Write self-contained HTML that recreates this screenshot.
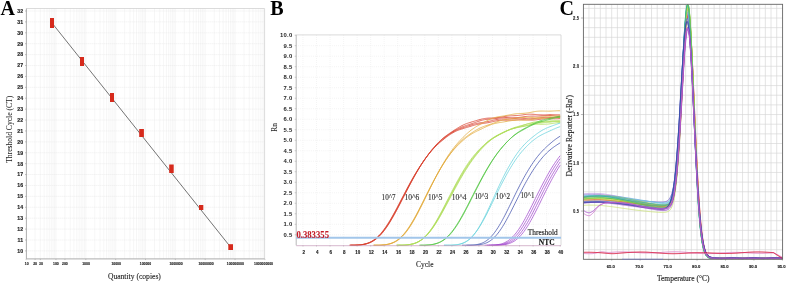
<!DOCTYPE html>
<html><head><meta charset="utf-8"><style>
html,body{margin:0;padding:0;background:#fff;width:788px;height:283px;overflow:hidden}
svg{display:block}
</style></head><body>
<svg style="will-change:transform" width="788" height="283" viewBox="0 0 788 283">
<rect width="788" height="283" fill="#fff"/>
<path d="M26.4 250.9H264.6M26.4 240H264.6M26.4 229.09H264.6M26.4 218.19H264.6M26.4 207.28H264.6M26.4 196.38H264.6M26.4 185.47H264.6M26.4 174.56H264.6M26.4 163.66H264.6M26.4 152.75H264.6M26.4 141.85H264.6M26.4 130.94H264.6M26.4 120.04H264.6M26.4 109.14H264.6M26.4 98.23H264.6M26.4 87.33H264.6M26.4 76.42H264.6M26.4 65.52H264.6M26.4 54.61H264.6M26.4 43.71H264.6M26.4 32.8H264.6M26.4 21.9H264.6M26.4 10.99H264.6M35.09 8.5V258.9M40.34 8.5V258.9M44.07 8.5V258.9M46.96 8.5V258.9M49.33 8.5V258.9M51.33 8.5V258.9M53.06 8.5V258.9M54.58 8.5V258.9M55.95 8.5V258.9M64.94 8.5V258.9M70.19 8.5V258.9M73.92 8.5V258.9M76.81 8.5V258.9M79.18 8.5V258.9M81.18 8.5V258.9M82.91 8.5V258.9M84.43 8.5V258.9M85.8 8.5V258.9M94.79 8.5V258.9M100.04 8.5V258.9M103.77 8.5V258.9M106.66 8.5V258.9M109.03 8.5V258.9M111.03 8.5V258.9M112.76 8.5V258.9M114.28 8.5V258.9M115.65 8.5V258.9M124.64 8.5V258.9M129.89 8.5V258.9M133.62 8.5V258.9M136.51 8.5V258.9M138.88 8.5V258.9M140.88 8.5V258.9M142.61 8.5V258.9M144.13 8.5V258.9M145.5 8.5V258.9M154.49 8.5V258.9M159.74 8.5V258.9M163.47 8.5V258.9M166.36 8.5V258.9M168.73 8.5V258.9M170.73 8.5V258.9M172.46 8.5V258.9M173.98 8.5V258.9M175.35 8.5V258.9M184.34 8.5V258.9M189.59 8.5V258.9M193.32 8.5V258.9M196.21 8.5V258.9M198.58 8.5V258.9M200.58 8.5V258.9M202.31 8.5V258.9M203.83 8.5V258.9M205.2 8.5V258.9M214.19 8.5V258.9M219.44 8.5V258.9M223.17 8.5V258.9M226.06 8.5V258.9M228.43 8.5V258.9M230.43 8.5V258.9M232.16 8.5V258.9M233.68 8.5V258.9M235.05 8.5V258.9M244.04 8.5V258.9M249.29 8.5V258.9M253.02 8.5V258.9M255.91 8.5V258.9M258.28 8.5V258.9M260.28 8.5V258.9M262.01 8.5V258.9M263.53 8.5V258.9" stroke="#e6e6e6" stroke-width="0.7" stroke-dasharray="1 1" fill="none"/>
<path d="M26.4 8.5H264.6V258.9" stroke="#d2d2d2" stroke-width="0.8" fill="none"/>
<path d="M26.4 8.5V258.9H264.6" stroke="#a4a4a4" stroke-width="0.9" fill="none"/>
<path d="M25 250.9H26.4M25 240H26.4M25 229.09H26.4M25 218.19H26.4M25 207.28H26.4M25 196.38H26.4M25 185.47H26.4M25 174.56H26.4M25 163.66H26.4M25 152.75H26.4M25 141.85H26.4M25 130.94H26.4M25 120.04H26.4M25 109.14H26.4M25 98.23H26.4M25 87.33H26.4M25 76.42H26.4M25 65.52H26.4M25 54.61H26.4M25 43.71H26.4M25 32.8H26.4M25 21.9H26.4M25 10.99H26.4" stroke="#999" stroke-width="0.6"/>
<g font-family="Liberation Sans, sans-serif" font-weight="bold" font-size="5.2" fill="#1e1e1e" stroke="#1e1e1e" stroke-width="0.15" text-anchor="end">
<text x="23.1" y="252.75">10</text>
<text x="23.1" y="241.84">11</text>
<text x="23.1" y="230.94">12</text>
<text x="23.1" y="220.03">13</text>
<text x="23.1" y="209.13">14</text>
<text x="23.1" y="198.22">15</text>
<text x="23.1" y="187.32">16</text>
<text x="23.1" y="176.41">17</text>
<text x="23.1" y="165.51">18</text>
<text x="23.1" y="154.6">19</text>
<text x="23.1" y="143.7">20</text>
<text x="23.1" y="132.79">21</text>
<text x="23.1" y="121.89">22</text>
<text x="23.1" y="110.99">23</text>
<text x="23.1" y="100.08">24</text>
<text x="23.1" y="89.18">25</text>
<text x="23.1" y="78.27">26</text>
<text x="23.1" y="67.37">27</text>
<text x="23.1" y="56.46">28</text>
<text x="23.1" y="45.56">29</text>
<text x="23.1" y="34.65">30</text>
<text x="23.1" y="23.75">31</text>
<text x="23.1" y="12.84">32</text>
</g>
<path d="M26.1 258.9V260.1M35.09 258.9V260.1M40.34 258.9V260.1M55.95 258.9V260.1M64.94 258.9V260.1M85.8 258.9V260.1M115.65 258.9V260.1M145.5 258.9V260.1M175.35 258.9V260.1M205.2 258.9V260.1M235.05 258.9V260.1M264.9 258.9V260.1" stroke="#999" stroke-width="0.5"/>
<g font-family="Liberation Sans, sans-serif" font-weight="bold" font-size="3.4" fill="#1a1a1a" stroke="#1a1a1a" stroke-width="0.12" text-anchor="middle">
<text x="26.7" y="264.6">10</text>
<text x="35.05" y="264.6">20</text>
<text x="40.9" y="264.6">30</text>
<text x="55.85" y="264.6">100</text>
<text x="64.9" y="264.6">200</text>
<text x="86" y="264.6">1000</text>
<text x="116.1" y="264.6">10000</text>
<text x="145.5" y="264.6">100000</text>
<text x="176" y="264.6">1000000</text>
<text x="206" y="264.6">10000000</text>
<text x="235.3" y="264.6">100000000</text>
<text x="263.5" y="264.6">1000000000</text>
</g>
<path d="M52 23 L230.5 247" stroke="#505050" stroke-width="0.8" fill="none"/>
<rect x="50" y="18" width="4" height="10" fill="#d62a1c"/>
<rect x="80" y="57" width="4" height="9" fill="#d62a1c"/>
<rect x="110" y="93" width="4" height="9" fill="#d62a1c"/>
<rect x="139.2" y="129" width="4.7" height="8" fill="#d62a1c"/>
<rect x="169.2" y="164.5" width="4.5" height="8.5" fill="#d62a1c"/>
<rect x="199" y="205" width="4.3" height="5" fill="#d62a1c"/>
<rect x="228.3" y="244.2" width="4.7" height="5.8" fill="#d62a1c"/>
<text x="0.6" y="14.7" font-family="Liberation Serif, serif" font-size="20" fill="#000" font-weight="bold">A</text>
<text transform="translate(11.7 162.8) rotate(-90)" font-family="Liberation Serif, serif" font-size="8.6" fill="#1a1a1a" stroke="#1a1a1a" stroke-width="0.05" textLength="67" lengthAdjust="spacingAndGlyphs">Threshold Cycle (CT)</text>
<text x="107.9" y="278.5" font-family="Liberation Serif, serif" font-size="7.7" fill="#1a1a1a" stroke="#1a1a1a" stroke-width="0.1" textLength="53" lengthAdjust="spacingAndGlyphs">Quantity (copies)</text>
<path d="M296.2 234.8H561M296.2 224.29H561M296.2 213.79H561M296.2 203.28H561M296.2 192.78H561M296.2 182.27H561M296.2 171.76H561M296.2 161.26H561M296.2 150.75H561M296.2 140.25H561M296.2 129.75H561M296.2 119.24H561M296.2 108.74H561M296.2 98.23H561M296.2 87.72H561M296.2 77.22H561M296.2 66.72H561M296.2 56.21H561M296.2 45.7H561M302.97 34.9V245.3M316.5 34.9V245.3M330.04 34.9V245.3M343.58 34.9V245.3M357.11 34.9V245.3M370.65 34.9V245.3M384.18 34.9V245.3M397.72 34.9V245.3M411.26 34.9V245.3M424.79 34.9V245.3M438.33 34.9V245.3M451.86 34.9V245.3M465.4 34.9V245.3M478.94 34.9V245.3M492.47 34.9V245.3M506.01 34.9V245.3M519.54 34.9V245.3M533.08 34.9V245.3M546.62 34.9V245.3" stroke="#e4e4e4" stroke-width="0.6" stroke-dasharray="0.7 1.4" fill="none"/>
<path d="M296.2 34.9H561V245.3" stroke="#d0d0d0" stroke-width="0.8" fill="none"/>
<path d="M294.7 234.8H296.2M294.7 224.29H296.2M294.7 213.79H296.2M294.7 203.28H296.2M294.7 192.78H296.2M294.7 182.27H296.2M294.7 171.76H296.2M294.7 161.26H296.2M294.7 150.75H296.2M294.7 140.25H296.2M294.7 129.75H296.2M294.7 119.24H296.2M294.7 108.74H296.2M294.7 98.23H296.2M294.7 87.72H296.2M294.7 77.22H296.2M294.7 66.72H296.2M294.7 56.21H296.2M294.7 45.7H296.2M294.7 35.2H296.2M302.97 245.3V246.5M316.5 245.3V246.5M330.04 245.3V246.5M343.58 245.3V246.5M357.11 245.3V246.5M370.65 245.3V246.5M384.18 245.3V246.5M397.72 245.3V246.5M411.26 245.3V246.5M424.79 245.3V246.5M438.33 245.3V246.5M451.86 245.3V246.5M465.4 245.3V246.5M478.94 245.3V246.5M492.47 245.3V246.5M506.01 245.3V246.5M519.54 245.3V246.5M533.08 245.3V246.5M546.62 245.3V246.5M560.15 245.3V246.5" stroke="#999" stroke-width="0.5"/>
<g font-family="Liberation Sans, sans-serif" font-weight="bold" font-size="5.9" fill="#1e1e1e" text-anchor="end" letter-spacing="0.25">
<text x="292.5" y="236.9">0.5</text>
<text x="292.5" y="226.39">1.0</text>
<text x="292.5" y="215.89">1.5</text>
<text x="292.5" y="205.38">2.0</text>
<text x="292.5" y="194.88">2.5</text>
<text x="292.5" y="184.37">3.0</text>
<text x="292.5" y="173.86">3.5</text>
<text x="292.5" y="163.36">4.0</text>
<text x="292.5" y="152.85">4.5</text>
<text x="292.5" y="142.35">5.0</text>
<text x="292.5" y="131.84">5.5</text>
<text x="292.5" y="121.34">6.0</text>
<text x="292.5" y="110.84">6.5</text>
<text x="292.5" y="100.33">7.0</text>
<text x="292.5" y="89.82">7.5</text>
<text x="292.5" y="79.32">8.0</text>
<text x="292.5" y="68.81">8.5</text>
<text x="292.5" y="58.31">9.0</text>
<text x="292.5" y="47.8">9.5</text>
<text x="292.5" y="37.3">10.0</text>
</g>
<g font-family="Liberation Sans, sans-serif" font-weight="bold" font-size="4.5" fill="#1a1a1a" stroke="#1a1a1a" stroke-width="0.12" text-anchor="middle">
<text x="303.67" y="253.7">2</text>
<text x="317.2" y="253.7">4</text>
<text x="330.74" y="253.7">6</text>
<text x="344.28" y="253.7">8</text>
<text x="357.81" y="253.7">10</text>
<text x="371.35" y="253.7">12</text>
<text x="384.88" y="253.7">14</text>
<text x="398.42" y="253.7">16</text>
<text x="411.96" y="253.7">18</text>
<text x="425.49" y="253.7">20</text>
<text x="439.03" y="253.7">22</text>
<text x="452.56" y="253.7">24</text>
<text x="466.1" y="253.7">26</text>
<text x="479.64" y="253.7">28</text>
<text x="493.17" y="253.7">30</text>
<text x="506.71" y="253.7">32</text>
<text x="520.24" y="253.7">34</text>
<text x="533.78" y="253.7">36</text>
<text x="547.32" y="253.7">38</text>
<text x="560.85" y="253.7">40</text>
</g>
<g fill="none" stroke-linejoin="round" stroke-width="0.75">
<path d="M349.22 245.2 L350.34 245.2 L351.47 245.2 L352.6 245.2 L353.73 245.2 L354.86 245.17 L355.98 245.12 L357.11 245.06 L358.24 244.98 L359.37 244.89 L360.5 244.76 L361.62 244.61 L362.75 244.43 L363.88 244.21 L365.01 243.95 L366.14 243.64 L367.26 243.28 L368.39 242.86 L369.52 242.38 L370.65 241.84 L371.78 241.23 L372.9 240.54 L374.03 239.78 L375.16 238.94 L376.29 238.01 L377.42 237.01 L378.54 235.91 L379.67 234.74 L380.8 233.48 L381.93 232.13 L383.06 230.71 L384.18 229.2 L385.31 227.62 L386.44 225.97 L387.57 224.25 L388.7 222.46 L389.82 220.61 L390.95 218.7 L392.08 216.75 L393.21 214.74 L394.34 212.7 L395.46 210.63 L396.59 208.52 L397.72 206.39 L398.85 204.25 L399.98 202.09 L401.1 199.92 L402.23 197.75 L403.36 195.58 L404.49 193.42 L405.62 191.26 L406.74 189.12 L407.87 187.01 L409 184.91 L410.13 182.84 L411.26 180.8 L412.38 178.8 L413.51 176.83 L414.64 174.9 L415.77 173.02 L416.9 171.17 L418.02 169.36 L419.15 167.6 L420.28 165.87 L421.41 164.19 L422.54 162.54 L423.66 160.94 L424.79 159.37 L425.92 157.83 L427.05 156.34 L428.18 154.89 L429.3 153.47 L430.43 152.1 L431.56 150.78 L432.69 149.5 L433.82 148.27 L434.94 147.09 L436.07 145.96 L437.2 144.87 L438.33 143.82 L439.46 142.81 L440.58 141.83 L441.71 140.88 L442.84 139.95 L443.97 139.05 L445.1 138.17 L446.22 137.31 L447.35 136.48 L448.48 135.66 L449.61 134.88 L450.74 134.13 L451.86 133.42 L452.99 132.75 L454.12 132.12 L455.25 131.54 L456.38 131.01 L457.5 130.53 L458.63 130.08 L459.76 129.67 L460.89 129.29 L462.02 128.93 L463.14 128.58 L464.27 128.24 L465.4 127.9 L466.53 127.56 L467.66 127.21 L468.78 126.86 L469.91 126.51 L471.04 126.15 L472.17 125.81 L473.3 125.47 L474.42 125.15 L475.55 124.86 L476.68 124.58 L477.81 124.34 L478.94 124.12 L480.06 123.93 L481.19 123.75 L482.32 123.59 L483.45 123.43 L484.58 123.27 L485.7 123.1 L486.83 122.92 L487.96 122.72 L489.09 122.5 L490.22 122.26 L491.34 122.01 L492.47 121.75 L493.6 121.48 L494.73 121.23 L495.86 120.98 L496.98 120.77 L498.11 120.58 L499.24 120.42 L500.37 120.3 L501.5 120.22 L502.62 120.17 L503.75 120.15 L504.88 120.15 L506.01 120.16 L507.14 120.17 L508.26 120.19 L509.39 120.19 L510.52 120.17 L511.65 120.14 L512.78 120.09 L513.9 120.03 L515.03 119.96 L516.16 119.88 L517.29 119.81 L518.42 119.74 L519.54 119.7 L520.67 119.67 L521.8 119.67 L522.93 119.69 L524.06 119.73 L525.18 119.79 L526.31 119.86 L527.44 119.93 L528.57 120 L529.7 120.05 L530.82 120.08 L531.95 120.08 L533.08 120.04 L534.21 119.98 L535.34 119.88 L536.46 119.76 L537.59 119.61 L538.72 119.46 L539.85 119.3 L540.98 119.15 L542.1 119.02 L543.23 118.9 L544.36 118.82 L545.49 118.76 L546.62 118.73 L547.74 118.72 L548.87 118.74 L550 118.76 L551.13 118.79 L552.26 118.82 L553.38 118.83 L554.51 118.84 L555.64 118.82 L556.77 118.78 L557.9 118.73 L559.02 118.67 L560.15 118.6 M350.34 245.2 L351.47 245.2 L352.6 245.2 L353.73 245.2 L354.86 245.18 L355.98 245.14 L357.11 245.09 L358.24 245.01 L359.37 244.92 L360.5 244.81 L361.62 244.67 L362.75 244.5 L363.88 244.29 L365.01 244.05 L366.14 243.76 L367.26 243.41 L368.39 243.02 L369.52 242.56 L370.65 242.05 L371.78 241.46 L372.9 240.8 L374.03 240.06 L375.16 239.25 L376.29 238.36 L377.42 237.38 L378.54 236.32 L379.67 235.17 L380.8 233.94 L381.93 232.63 L383.06 231.23 L384.18 229.75 L385.31 228.2 L386.44 226.57 L387.57 224.87 L388.7 223.1 L389.82 221.27 L390.95 219.38 L392.08 217.44 L393.21 215.45 L394.34 213.42 L395.46 211.35 L396.59 209.25 L397.72 207.13 L398.85 204.98 L399.98 202.81 L401.1 200.64 L402.23 198.46 L403.36 196.28 L404.49 194.1 L405.62 191.93 L406.74 189.78 L407.87 187.64 L409 185.52 L410.13 183.42 L411.26 181.36 L412.38 179.33 L413.51 177.33 L414.64 175.37 L415.77 173.45 L416.9 171.57 L418.02 169.73 L419.15 167.92 L420.28 166.16 L421.41 164.43 L422.54 162.74 L423.66 161.09 L424.79 159.48 L425.92 157.91 L427.05 156.38 L428.18 154.89 L429.3 153.44 L430.43 152.04 L431.56 150.68 L432.69 149.38 L433.82 148.12 L434.94 146.91 L436.07 145.74 L437.2 144.62 L438.33 143.53 L439.46 142.48 L440.58 141.46 L441.71 140.47 L442.84 139.5 L443.97 138.55 L445.1 137.63 L446.22 136.72 L447.35 135.85 L448.48 135 L449.61 134.19 L450.74 133.41 L451.86 132.68 L452.99 131.99 L454.12 131.35 L455.25 130.76 L456.38 130.21 L457.5 129.71 L458.63 129.25 L459.76 128.82 L460.89 128.41 L462.02 128.02 L463.14 127.63 L464.27 127.26 L465.4 126.88 L466.53 126.5 L467.66 126.12 L468.78 125.74 L469.91 125.37 L471.04 125 L472.17 124.65 L473.3 124.31 L474.42 124 L475.55 123.71 L476.68 123.45 L477.81 123.22 L478.94 123.01 L480.06 122.83 L481.19 122.66 L482.32 122.49 L483.45 122.32 L484.58 122.14 L485.7 121.95 L486.83 121.74 L487.96 121.51 L489.09 121.27 L490.22 121 L491.34 120.73 L492.47 120.45 L493.6 120.18 L494.73 119.92 L495.86 119.68 L496.98 119.47 L498.11 119.3 L499.24 119.15 L500.37 119.05 L501.5 118.98 L502.62 118.93 L503.75 118.91 L504.88 118.9 L506.01 118.89 L507.14 118.89 L508.26 118.87 L509.39 118.84 L510.52 118.79 L511.65 118.73 L512.78 118.66 L513.9 118.57 L515.03 118.49 L516.16 118.41 L517.29 118.34 L518.42 118.28 L519.54 118.26 L520.67 118.25 L521.8 118.28 L522.93 118.32 L524.06 118.39 L525.18 118.46 L526.31 118.54 L527.44 118.62 L528.57 118.68 L529.7 118.72 L530.82 118.73 L531.95 118.71 L533.08 118.66 L534.21 118.57 L535.34 118.46 L536.46 118.32 L537.59 118.17 L538.72 118.02 L539.85 117.88 L540.98 117.74 L542.1 117.63 L543.23 117.54 L544.36 117.48 L545.49 117.45 L546.62 117.43 L547.74 117.44 L548.87 117.46 L550 117.47 L551.13 117.49 L552.26 117.49 L553.38 117.48 L554.51 117.45 L555.64 117.4 L556.77 117.34 L557.9 117.26 L559.02 117.18 L560.15 117.1 M350.34 245.2 L351.47 245.2 L352.6 245.2 L353.73 245.2 L354.86 245.2 L355.98 245.16 L357.11 245.1 L358.24 245.04 L359.37 244.95 L360.5 244.85 L361.62 244.72 L362.75 244.55 L363.88 244.36 L365.01 244.13 L366.14 243.85 L367.26 243.52 L368.39 243.14 L369.52 242.71 L370.65 242.21 L371.78 241.64 L372.9 241 L374.03 240.29 L375.16 239.5 L376.29 238.63 L377.42 237.68 L378.54 236.64 L379.67 235.52 L380.8 234.32 L381.93 233.03 L383.06 231.66 L384.18 230.2 L385.31 228.67 L386.44 227.06 L387.57 225.38 L388.7 223.63 L389.82 221.82 L390.95 219.94 L392.08 218.01 L393.21 216.03 L394.34 214.01 L395.46 211.95 L396.59 209.85 L397.72 207.73 L398.85 205.58 L399.98 203.41 L401.1 201.24 L402.23 199.05 L403.36 196.86 L404.49 194.68 L405.62 192.5 L406.74 190.33 L407.87 188.17 L409 186.03 L410.13 183.91 L411.26 181.81 L412.38 179.74 L413.51 177.7 L414.64 175.69 L415.77 173.72 L416.9 171.78 L418.02 169.88 L419.15 168.03 L420.28 166.21 L421.41 164.44 L422.54 162.72 L423.66 161.03 L424.79 159.39 L425.92 157.78 L427.05 156.21 L428.18 154.68 L429.3 153.19 L430.43 151.73 L431.56 150.31 L432.69 148.93 L433.82 147.59 L434.94 146.3 L436.07 145.05 L437.2 143.85 L438.33 142.71 L439.46 141.62 L440.58 140.58 L441.71 139.6 L442.84 138.66 L443.97 137.77 L445.1 136.92 L446.22 136.1 L447.35 135.32 L448.48 134.55 L449.61 133.81 L450.74 133.08 L451.86 132.37 L452.99 131.67 L454.12 130.99 L455.25 130.33 L456.38 129.7 L457.5 129.09 L458.63 128.51 L459.76 127.97 L460.89 127.46 L462.02 126.98 L463.14 126.54 L464.27 126.13 L465.4 125.74 L466.53 125.37 L467.66 125 L468.78 124.65 L469.91 124.28 L471.04 123.91 L472.17 123.54 L473.3 123.14 L474.42 122.75 L475.55 122.34 L476.68 121.94 L477.81 121.54 L478.94 121.16 L480.06 120.8 L481.19 120.47 L482.32 120.17 L483.45 119.91 L484.58 119.69 L485.7 119.51 L486.83 119.36 L487.96 119.23 L489.09 119.12 L490.22 119.02 L491.34 118.93 L492.47 118.83 L493.6 118.73 L494.73 118.61 L495.86 118.49 L496.98 118.35 L498.11 118.2 L499.24 118.06 L500.37 117.92 L501.5 117.79 L502.62 117.69 L503.75 117.6 L504.88 117.55 L506.01 117.52 L507.14 117.52 L508.26 117.54 L509.39 117.57 L510.52 117.62 L511.65 117.66 L512.78 117.69 L513.9 117.71 L515.03 117.7 L516.16 117.66 L517.29 117.59 L518.42 117.49 L519.54 117.36 L520.67 117.22 L521.8 117.05 L522.93 116.88 L524.06 116.72 L525.18 116.56 L526.31 116.43 L527.44 116.32 L528.57 116.23 L529.7 116.18 L530.82 116.14 L531.95 116.13 L533.08 116.12 L534.21 116.13 L535.34 116.13 L536.46 116.12 L537.59 116.09 L538.72 116.05 L539.85 116 L540.98 115.92 L542.1 115.83 L543.23 115.74 L544.36 115.64 L545.49 115.56 L546.62 115.49 L547.74 115.44 L548.87 115.43 L550 115.45 L551.13 115.5 L552.26 115.58 L553.38 115.68 L554.51 115.81 L555.64 115.94 L556.77 116.07 L557.9 116.2 L559.02 116.3 L560.15 116.39 M350.34 245.2 L351.47 245.2 L352.6 245.2 L353.73 245.2 L354.86 245.2 L355.98 245.17 L357.11 245.12 L358.24 245.06 L359.37 244.98 L360.5 244.88 L361.62 244.76 L362.75 244.61 L363.88 244.42 L365.01 244.2 L366.14 243.94 L367.26 243.63 L368.39 243.26 L369.52 242.84 L370.65 242.36 L371.78 241.82 L372.9 241.2 L374.03 240.51 L375.16 239.75 L376.29 238.9 L377.42 237.97 L378.54 236.96 L379.67 235.87 L380.8 234.69 L381.93 233.42 L383.06 232.07 L384.18 230.64 L385.31 229.13 L386.44 227.55 L387.57 225.89 L388.7 224.16 L389.82 222.36 L390.95 220.5 L392.08 218.58 L393.21 216.62 L394.34 214.6 L395.46 212.55 L396.59 210.45 L397.72 208.33 L398.85 206.18 L399.98 204.01 L401.1 201.83 L402.23 199.64 L403.36 197.44 L404.49 195.24 L405.62 193.04 L406.74 190.85 L407.87 188.67 L409 186.51 L410.13 184.36 L411.26 182.23 L412.38 180.13 L413.51 178.05 L414.64 176 L415.77 173.98 L416.9 172 L418.02 170.06 L419.15 168.16 L420.28 166.3 L421.41 164.49 L422.54 162.73 L423.66 161.01 L424.79 159.34 L425.92 157.72 L427.05 156.13 L428.18 154.6 L429.3 153.1 L430.43 151.64 L431.56 150.22 L432.69 148.84 L433.82 147.5 L434.94 146.19 L436.07 144.93 L437.2 143.72 L438.33 142.55 L439.46 141.43 L440.58 140.35 L441.71 139.33 L442.84 138.36 L443.97 137.43 L445.1 136.54 L446.22 135.68 L447.35 134.86 L448.48 134.07 L449.61 133.29 L450.74 132.52 L451.86 131.77 L452.99 131.02 L454.12 130.28 L455.25 129.55 L456.38 128.83 L457.5 128.13 L458.63 127.45 L459.76 126.79 L460.89 126.17 L462.02 125.59 L463.14 125.04 L464.27 124.53 L465.4 124.07 L466.53 123.63 L467.66 123.23 L468.78 122.86 L469.91 122.5 L471.04 122.15 L472.17 121.81 L473.3 121.48 L474.42 121.14 L475.55 120.8 L476.68 120.46 L477.81 120.13 L478.94 119.81 L480.06 119.5 L481.19 119.21 L482.32 118.95 L483.45 118.72 L484.58 118.52 L485.7 118.37 L486.83 118.24 L487.96 118.15 L489.09 118.09 L490.22 118.04 L491.34 118 L492.47 117.96 L493.6 117.91 L494.73 117.85 L495.86 117.76 L496.98 117.65 L498.11 117.52 L499.24 117.36 L500.37 117.18 L501.5 117 L502.62 116.81 L503.75 116.62 L504.88 116.44 L506.01 116.28 L507.14 116.14 L508.26 116.02 L509.39 115.93 L510.52 115.86 L511.65 115.8 L512.78 115.76 L513.9 115.71 L515.03 115.66 L516.16 115.6 L517.29 115.52 L518.42 115.42 L519.54 115.31 L520.67 115.17 L521.8 115.02 L522.93 114.86 L524.06 114.7 L525.18 114.55 L526.31 114.42 L527.44 114.32 L528.57 114.24 L529.7 114.2 L530.82 114.2 L531.95 114.23 L533.08 114.29 L534.21 114.38 L535.34 114.48 L536.46 114.58 L537.59 114.68 L538.72 114.77 L539.85 114.84 L540.98 114.89 L542.1 114.91 L543.23 114.91 L544.36 114.89 L545.49 114.84 L546.62 114.79 L547.74 114.74 L548.87 114.69 L550 114.65 L551.13 114.63 L552.26 114.63 L553.38 114.64 L554.51 114.68 L555.64 114.72 L556.77 114.78 L557.9 114.83 L559.02 114.88 L560.15 114.9" stroke="#d8402e"/>
<path d="M372.9 245.2 L374.03 245.2 L375.16 245.2 L376.29 245.2 L377.42 245.2 L378.54 245.19 L379.67 245.15 L380.8 245.09 L381.93 245.02 L383.06 244.93 L384.18 244.81 L385.31 244.67 L386.44 244.49 L387.57 244.28 L388.7 244.02 L389.82 243.71 L390.95 243.35 L392.08 242.93 L393.21 242.45 L394.34 241.9 L395.46 241.27 L396.59 240.57 L397.72 239.78 L398.85 238.91 L399.98 237.95 L401.1 236.9 L402.23 235.77 L403.36 234.54 L404.49 233.22 L405.62 231.81 L406.74 230.31 L407.87 228.74 L409 227.07 L410.13 225.34 L411.26 223.52 L412.38 221.64 L413.51 219.7 L414.64 217.7 L415.77 215.65 L416.9 213.55 L418.02 211.41 L419.15 209.23 L420.28 207.03 L421.41 204.8 L422.54 202.56 L423.66 200.31 L424.79 198.05 L425.92 195.8 L427.05 193.55 L428.18 191.31 L429.3 189.08 L430.43 186.88 L431.56 184.7 L432.69 182.54 L433.82 180.42 L434.94 178.33 L436.07 176.27 L437.2 174.24 L438.33 172.25 L439.46 170.3 L440.58 168.39 L441.71 166.52 L442.84 164.7 L443.97 162.92 L445.1 161.18 L446.22 159.5 L447.35 157.87 L448.48 156.3 L449.61 154.78 L450.74 153.32 L451.86 151.91 L452.99 150.56 L454.12 149.26 L455.25 148.01 L456.38 146.81 L457.5 145.64 L458.63 144.51 L459.76 143.42 L460.89 142.36 L462.02 141.33 L463.14 140.33 L464.27 139.36 L465.4 138.43 L466.53 137.53 L467.66 136.67 L468.78 135.85 L469.91 135.08 L471.04 134.35 L472.17 133.65 L473.3 133 L474.42 132.38 L475.55 131.8 L476.68 131.23 L477.81 130.68 L478.94 130.14 L480.06 129.61 L481.19 129.07 L482.32 128.54 L483.45 128 L484.58 127.47 L485.7 126.94 L486.83 126.41 L487.96 125.91 L489.09 125.43 L490.22 124.97 L491.34 124.55 L492.47 124.17 L493.6 123.83 L494.73 123.53 L495.86 123.27 L496.98 123.03 L498.11 122.82 L499.24 122.63 L500.37 122.45 L501.5 122.28 L502.62 122.1 L503.75 121.92 L504.88 121.73 L506.01 121.53 L507.14 121.33 L508.26 121.12 L509.39 120.93 L510.52 120.75 L511.65 120.58 L512.78 120.44 L513.9 120.33 L515.03 120.25 L516.16 120.2 L517.29 120.17 L518.42 120.17 L519.54 120.17 L520.67 120.19 L521.8 120.2 L522.93 120.2 L524.06 120.17 L525.18 120.13 L526.31 120.05 L527.44 119.95 L528.57 119.81 L529.7 119.66 L530.82 119.48 L531.95 119.3 L533.08 119.12 L534.21 118.95 L535.34 118.79 L536.46 118.66 L537.59 118.55 L538.72 118.47 L539.85 118.41 L540.98 118.37 L542.1 118.35 L543.23 118.34 L544.36 118.33 L545.49 118.31 L546.62 118.28 L547.74 118.23 L548.87 118.17 L550 118.08 L551.13 117.99 L552.26 117.88 L553.38 117.77 L554.51 117.67 L555.64 117.58 L556.77 117.52 L557.9 117.48 L559.02 117.47 L560.15 117.5 M374.03 245.2 L375.16 245.2 L376.29 245.2 L377.42 245.2 L378.54 245.2 L379.67 245.16 L380.8 245.11 L381.93 245.04 L383.06 244.96 L384.18 244.85 L385.31 244.72 L386.44 244.55 L387.57 244.35 L388.7 244.1 L389.82 243.81 L390.95 243.47 L392.08 243.07 L393.21 242.6 L394.34 242.07 L395.46 241.47 L396.59 240.79 L397.72 240.03 L398.85 239.18 L399.98 238.25 L401.1 237.23 L402.23 236.12 L403.36 234.91 L404.49 233.62 L405.62 232.24 L406.74 230.77 L407.87 229.21 L409 227.58 L410.13 225.86 L411.26 224.07 L412.38 222.2 L413.51 220.27 L414.64 218.29 L415.77 216.24 L416.9 214.15 L418.02 212.02 L419.15 209.85 L420.28 207.64 L421.41 205.42 L422.54 203.17 L423.66 200.91 L424.79 198.65 L425.92 196.38 L427.05 194.11 L428.18 191.85 L429.3 189.61 L430.43 187.38 L431.56 185.16 L432.69 182.98 L433.82 180.82 L434.94 178.69 L436.07 176.59 L437.2 174.54 L438.33 172.52 L439.46 170.54 L440.58 168.61 L441.71 166.72 L442.84 164.88 L443.97 163.08 L445.1 161.32 L446.22 159.61 L447.35 157.93 L448.48 156.3 L449.61 154.71 L450.74 153.15 L451.86 151.64 L452.99 150.17 L454.12 148.75 L455.25 147.38 L456.38 146.05 L457.5 144.79 L458.63 143.58 L459.76 142.42 L460.89 141.32 L462.02 140.28 L463.14 139.28 L464.27 138.33 L465.4 137.42 L466.53 136.55 L467.66 135.71 L468.78 134.89 L469.91 134.09 L471.04 133.32 L472.17 132.56 L473.3 131.83 L474.42 131.12 L475.55 130.43 L476.68 129.78 L477.81 129.15 L478.94 128.57 L480.06 128.02 L481.19 127.51 L482.32 127.04 L483.45 126.59 L484.58 126.18 L485.7 125.79 L486.83 125.41 L487.96 125.04 L489.09 124.67 L490.22 124.29 L491.34 123.91 L492.47 123.51 L493.6 123.1 L494.73 122.69 L495.86 122.27 L496.98 121.86 L498.11 121.46 L499.24 121.08 L500.37 120.73 L501.5 120.41 L502.62 120.12 L503.75 119.87 L504.88 119.66 L506.01 119.47 L507.14 119.32 L508.26 119.19 L509.39 119.07 L510.52 118.96 L511.65 118.84 L512.78 118.72 L513.9 118.6 L515.03 118.46 L516.16 118.31 L517.29 118.15 L518.42 118 L519.54 117.84 L520.67 117.71 L521.8 117.59 L522.93 117.49 L524.06 117.42 L525.18 117.39 L526.31 117.38 L527.44 117.4 L528.57 117.44 L529.7 117.49 L530.82 117.54 L531.95 117.59 L533.08 117.63 L534.21 117.64 L535.34 117.63 L536.46 117.58 L537.59 117.51 L538.72 117.4 L539.85 117.27 L540.98 117.13 L542.1 116.97 L543.23 116.82 L544.36 116.67 L545.49 116.53 L546.62 116.42 L547.74 116.33 L548.87 116.27 L550 116.23 L551.13 116.21 L552.26 116.2 L553.38 116.2 L554.51 116.19 L555.64 116.18 L556.77 116.15 L557.9 116.11 L559.02 116.04 L560.15 115.96 M374.03 245.2 L375.16 245.2 L376.29 245.2 L377.42 245.2 L378.54 245.2 L379.67 245.18 L380.8 245.13 L381.93 245.07 L383.06 244.99 L384.18 244.89 L385.31 244.77 L386.44 244.61 L387.57 244.42 L388.7 244.19 L389.82 243.92 L390.95 243.6 L392.08 243.22 L393.21 242.78 L394.34 242.27 L395.46 241.69 L396.59 241.04 L397.72 240.31 L398.85 239.49 L399.98 238.59 L401.1 237.6 L402.23 236.52 L403.36 235.35 L404.49 234.09 L405.62 232.74 L406.74 231.3 L407.87 229.77 L409 228.16 L410.13 226.47 L411.26 224.7 L412.38 222.86 L413.51 220.94 L414.64 218.97 L415.77 216.93 L416.9 214.85 L418.02 212.71 L419.15 210.53 L420.28 208.32 L421.41 206.08 L422.54 203.81 L423.66 201.52 L424.79 199.22 L425.92 196.92 L427.05 194.61 L428.18 192.3 L429.3 190 L430.43 187.71 L431.56 185.44 L432.69 183.18 L433.82 180.95 L434.94 178.75 L436.07 176.58 L437.2 174.43 L438.33 172.32 L439.46 170.24 L440.58 168.2 L441.71 166.2 L442.84 164.24 L443.97 162.32 L445.1 160.45 L446.22 158.62 L447.35 156.85 L448.48 155.13 L449.61 153.47 L450.74 151.86 L451.86 150.3 L452.99 148.81 L454.12 147.36 L455.25 145.97 L456.38 144.62 L457.5 143.31 L458.63 142.04 L459.76 140.8 L460.89 139.6 L462.02 138.42 L463.14 137.27 L464.27 136.16 L465.4 135.07 L466.53 134.02 L467.66 133 L468.78 132.02 L469.91 131.09 L471.04 130.2 L472.17 129.35 L473.3 128.55 L474.42 127.79 L475.55 127.06 L476.68 126.36 L477.81 125.69 L478.94 125.04 L480.06 124.41 L481.19 123.78 L482.32 123.16 L483.45 122.55 L484.58 121.94 L485.7 121.35 L486.83 120.77 L487.96 120.21 L489.09 119.68 L490.22 119.18 L491.34 118.72 L492.47 118.3 L493.6 117.92 L494.73 117.6 L495.86 117.31 L496.98 117.06 L498.11 116.84 L499.24 116.64 L500.37 116.46 L501.5 116.29 L502.62 116.12 L503.75 115.94 L504.88 115.75 L506.01 115.54 L507.14 115.33 L508.26 115.11 L509.39 114.89 L510.52 114.67 L511.65 114.46 L512.78 114.26 L513.9 114.09 L515.03 113.94 L516.16 113.81 L517.29 113.71 L518.42 113.63 L519.54 113.56 L520.67 113.5 L521.8 113.45 L522.93 113.38 L524.06 113.3 L525.18 113.2 L526.31 113.07 L527.44 112.92 L528.57 112.75 L529.7 112.55 L530.82 112.34 L531.95 112.12 L533.08 111.9 L534.21 111.7 L535.34 111.51 L536.46 111.35 L537.59 111.23 L538.72 111.13 L539.85 111.07 L540.98 111.05 L542.1 111.04 L543.23 111.06 L544.36 111.09 L545.49 111.11 L546.62 111.14 L547.74 111.15 L548.87 111.15 L550 111.13 L551.13 111.09 L552.26 111.04 L553.38 110.98 L554.51 110.91 L555.64 110.86 L556.77 110.81 L557.9 110.79 L559.02 110.78 L560.15 110.81" stroke="#e2aa3a"/>
<path d="M396.59 245.2 L397.72 245.2 L398.85 245.2 L399.98 245.2 L401.1 245.2 L402.23 245.19 L403.36 245.15 L404.49 245.1 L405.62 245.03 L406.74 244.93 L407.87 244.82 L409 244.67 L410.13 244.49 L411.26 244.28 L412.38 244.02 L413.51 243.71 L414.64 243.34 L415.77 242.91 L416.9 242.42 L418.02 241.86 L419.15 241.22 L420.28 240.51 L421.41 239.71 L422.54 238.82 L423.66 237.85 L424.79 236.79 L425.92 235.63 L427.05 234.39 L428.18 233.06 L429.3 231.64 L430.43 230.13 L431.56 228.54 L432.69 226.87 L433.82 225.12 L434.94 223.31 L436.07 221.43 L437.2 219.48 L438.33 217.49 L439.46 215.44 L440.58 213.35 L441.71 211.23 L442.84 209.08 L443.97 206.9 L445.1 204.7 L446.22 202.49 L447.35 200.28 L448.48 198.06 L449.61 195.85 L450.74 193.65 L451.86 191.46 L452.99 189.29 L454.12 187.14 L455.25 185.02 L456.38 182.92 L457.5 180.86 L458.63 178.82 L459.76 176.83 L460.89 174.86 L462.02 172.94 L463.14 171.05 L464.27 169.21 L465.4 167.41 L466.53 165.66 L467.66 163.96 L468.78 162.31 L469.91 160.72 L471.04 159.18 L472.17 157.7 L473.3 156.28 L474.42 154.9 L475.55 153.58 L476.68 152.31 L477.81 151.07 L478.94 149.88 L480.06 148.73 L481.19 147.61 L482.32 146.52 L483.45 145.47 L484.58 144.45 L485.7 143.47 L486.83 142.52 L487.96 141.62 L489.09 140.76 L490.22 139.94 L491.34 139.17 L492.47 138.44 L493.6 137.76 L494.73 137.11 L495.86 136.49 L496.98 135.9 L498.11 135.33 L499.24 134.77 L500.37 134.22 L501.5 133.67 L502.62 133.12 L503.75 132.57 L504.88 132.02 L506.01 131.47 L507.14 130.93 L508.26 130.41 L509.39 129.91 L510.52 129.43 L511.65 128.99 L512.78 128.59 L513.9 128.23 L515.03 127.9 L516.16 127.61 L517.29 127.35 L518.42 127.12 L519.54 126.91 L520.67 126.71 L521.8 126.52 L522.93 126.32 L524.06 126.12 L525.18 125.91 L526.31 125.7 L527.44 125.49 L528.57 125.27 L529.7 125.06 L530.82 124.87 L531.95 124.69 L533.08 124.54 L534.21 124.42 L535.34 124.33 L536.46 124.28 L537.59 124.25 L538.72 124.24 L539.85 124.25 L540.98 124.27 L542.1 124.29 L543.23 124.3 L544.36 124.29 L545.49 124.25 L546.62 124.19 L547.74 124.1 L548.87 123.98 L550 123.84 L551.13 123.68 L552.26 123.51 L553.38 123.34 L554.51 123.17 L555.64 123.02 L556.77 122.89 L557.9 122.78 L559.02 122.7 L560.15 122.64 M396.59 245.2 L397.72 245.2 L398.85 245.2 L399.98 245.2 L401.1 245.2 L402.23 245.19 L403.36 245.15 L404.49 245.09 L405.62 245.02 L406.74 244.93 L407.87 244.81 L409 244.67 L410.13 244.49 L411.26 244.28 L412.38 244.02 L413.51 243.72 L414.64 243.36 L415.77 242.94 L416.9 242.47 L418.02 241.92 L419.15 241.3 L420.28 240.6 L421.41 239.82 L422.54 238.96 L423.66 238.02 L424.79 236.99 L425.92 235.87 L427.05 234.66 L428.18 233.36 L429.3 231.98 L430.43 230.52 L431.56 228.97 L432.69 227.34 L433.82 225.64 L434.94 223.87 L436.07 222.04 L437.2 220.14 L438.33 218.19 L439.46 216.18 L440.58 214.14 L441.71 212.05 L442.84 209.93 L443.97 207.79 L445.1 205.63 L446.22 203.45 L447.35 201.26 L448.48 199.07 L449.61 196.88 L450.74 194.69 L451.86 192.52 L452.99 190.37 L454.12 188.23 L455.25 186.12 L456.38 184.03 L457.5 181.97 L458.63 179.95 L459.76 177.95 L460.89 175.99 L462.02 174.07 L463.14 172.18 L464.27 170.34 L465.4 168.54 L466.53 166.78 L467.66 165.08 L468.78 163.42 L469.91 161.81 L471.04 160.24 L472.17 158.73 L473.3 157.27 L474.42 155.85 L475.55 154.47 L476.68 153.14 L477.81 151.84 L478.94 150.57 L480.06 149.33 L481.19 148.13 L482.32 146.95 L483.45 145.81 L484.58 144.7 L485.7 143.62 L486.83 142.59 L487.96 141.6 L489.09 140.66 L490.22 139.77 L491.34 138.92 L492.47 138.13 L493.6 137.39 L494.73 136.7 L495.86 136.04 L496.98 135.42 L498.11 134.83 L499.24 134.26 L500.37 133.7 L501.5 133.16 L502.62 132.63 L503.75 132.11 L504.88 131.6 L506.01 131.11 L507.14 130.63 L508.26 130.17 L509.39 129.74 L510.52 129.34 L511.65 128.97 L512.78 128.64 L513.9 128.34 L515.03 128.07 L516.16 127.83 L517.29 127.61 L518.42 127.4 L519.54 127.19 L520.67 126.98 L521.8 126.76 L522.93 126.53 L524.06 126.28 L525.18 126 L526.31 125.71 L527.44 125.41 L528.57 125.1 L529.7 124.79 L530.82 124.49 L531.95 124.21 L533.08 123.95 L534.21 123.71 L535.34 123.51 L536.46 123.34 L537.59 123.21 L538.72 123.1 L539.85 123.01 L540.98 122.93 L542.1 122.86 L543.23 122.79 L544.36 122.71 L545.49 122.62 L546.62 122.52 L547.74 122.4 L548.87 122.28 L550 122.15 L551.13 122.02 L552.26 121.89 L553.38 121.79 L554.51 121.7 L555.64 121.65 L556.77 121.62 L557.9 121.63 L559.02 121.66 L560.15 121.73 M396.59 245.2 L397.72 245.2 L398.85 245.2 L399.98 245.2 L401.1 245.2 L402.23 245.18 L403.36 245.14 L404.49 245.08 L405.62 245.01 L406.74 244.91 L407.87 244.8 L409 244.65 L410.13 244.47 L411.26 244.26 L412.38 244 L413.51 243.7 L414.64 243.35 L415.77 242.94 L416.9 242.47 L418.02 241.93 L419.15 241.32 L420.28 240.64 L421.41 239.88 L422.54 239.04 L423.66 238.12 L424.79 237.11 L425.92 236.02 L427.05 234.85 L428.18 233.59 L429.3 232.24 L430.43 230.82 L431.56 229.31 L432.69 227.73 L433.82 226.08 L434.94 224.35 L436.07 222.56 L437.2 220.71 L438.33 218.81 L439.46 216.85 L440.58 214.86 L441.71 212.82 L442.84 210.74 L443.97 208.64 L445.1 206.52 L446.22 204.38 L447.35 202.23 L448.48 200.07 L449.61 197.92 L450.74 195.76 L451.86 193.61 L452.99 191.47 L454.12 189.35 L455.25 187.24 L456.38 185.15 L457.5 183.09 L458.63 181.06 L459.76 179.06 L460.89 177.09 L462.02 175.15 L463.14 173.26 L464.27 171.41 L465.4 169.6 L466.53 167.83 L467.66 166.11 L468.78 164.43 L469.91 162.78 L471.04 161.18 L472.17 159.62 L473.3 158.1 L474.42 156.61 L475.55 155.16 L476.68 153.75 L477.81 152.37 L478.94 151.04 L480.06 149.75 L481.19 148.51 L482.32 147.31 L483.45 146.17 L484.58 145.08 L485.7 144.05 L486.83 143.06 L487.96 142.13 L489.09 141.25 L490.22 140.41 L491.34 139.6 L492.47 138.82 L493.6 138.07 L494.73 137.34 L495.86 136.63 L496.98 135.94 L498.11 135.25 L499.24 134.59 L500.37 133.94 L501.5 133.31 L502.62 132.71 L503.75 132.14 L504.88 131.61 L506.01 131.11 L507.14 130.64 L508.26 130.21 L509.39 129.8 L510.52 129.42 L511.65 129.06 L512.78 128.72 L513.9 128.38 L515.03 128.03 L516.16 127.68 L517.29 127.32 L518.42 126.95 L519.54 126.56 L520.67 126.17 L521.8 125.78 L522.93 125.39 L524.06 125.02 L525.18 124.66 L526.31 124.33 L527.44 124.03 L528.57 123.77 L529.7 123.55 L530.82 123.37 L531.95 123.21 L533.08 123.09 L534.21 122.98 L535.34 122.89 L536.46 122.81 L537.59 122.72 L538.72 122.62 L539.85 122.52 L540.98 122.4 L542.1 122.27 L543.23 122.14 L544.36 122 L545.49 121.86 L546.62 121.74 L547.74 121.63 L548.87 121.55 L550 121.49 L551.13 121.46 L552.26 121.45 L553.38 121.47 L554.51 121.51 L555.64 121.56 L556.77 121.61 L557.9 121.65 L559.02 121.68 L560.15 121.69 M397.72 245.2 L398.85 245.2 L399.98 245.2 L401.1 245.2 L402.23 245.18 L403.36 245.13 L404.49 245.08 L405.62 245 L406.74 244.91 L407.87 244.79 L409 244.65 L410.13 244.47 L411.26 244.26 L412.38 244.01 L413.51 243.71 L414.64 243.37 L415.77 242.97 L416.9 242.51 L418.02 241.98 L419.15 241.39 L420.28 240.73 L421.41 239.99 L422.54 239.17 L423.66 238.27 L424.79 237.3 L425.92 236.24 L427.05 235.09 L428.18 233.87 L429.3 232.56 L430.43 231.18 L431.56 229.71 L432.69 228.17 L433.82 226.56 L434.94 224.88 L436.07 223.13 L437.2 221.32 L438.33 219.46 L439.46 217.55 L440.58 215.59 L441.71 213.59 L442.84 211.55 L443.97 209.49 L445.1 207.4 L446.22 205.29 L447.35 203.17 L448.48 201.03 L449.61 198.9 L450.74 196.76 L451.86 194.63 L452.99 192.51 L454.12 190.4 L455.25 188.31 L456.38 186.24 L457.5 184.19 L458.63 182.16 L459.76 180.16 L460.89 178.19 L462.02 176.24 L463.14 174.33 L464.27 172.45 L465.4 170.61 L466.53 168.8 L467.66 167.04 L468.78 165.32 L469.91 163.64 L471.04 162.01 L472.17 160.43 L473.3 158.89 L474.42 157.4 L475.55 155.95 L476.68 154.54 L477.81 153.17 L478.94 151.84 L480.06 150.54 L481.19 149.28 L482.32 148.05 L483.45 146.86 L484.58 145.69 L485.7 144.57 L486.83 143.49 L487.96 142.45 L489.09 141.47 L490.22 140.53 L491.34 139.64 L492.47 138.8 L493.6 138.01 L494.73 137.27 L495.86 136.57 L496.98 135.91 L498.11 135.27 L499.24 134.66 L500.37 134.06 L501.5 133.48 L502.62 132.9 L503.75 132.32 L504.88 131.75 L506.01 131.19 L507.14 130.64 L508.26 130.1 L509.39 129.57 L510.52 129.08 L511.65 128.6 L512.78 128.16 L513.9 127.75 L515.03 127.37 L516.16 127.02 L517.29 126.69 L518.42 126.38 L519.54 126.09 L520.67 125.79 L521.8 125.5 L522.93 125.2 L524.06 124.89 L525.18 124.57 L526.31 124.24 L527.44 123.9 L528.57 123.56 L529.7 123.23 L530.82 122.91 L531.95 122.61 L533.08 122.33 L534.21 122.09 L535.34 121.89 L536.46 121.73 L537.59 121.61 L538.72 121.52 L539.85 121.46 L540.98 121.42 L542.1 121.39 L543.23 121.37 L544.36 121.34 L545.49 121.31 L546.62 121.26 L547.74 121.19 L548.87 121.1 L550 121 L551.13 120.9 L552.26 120.78 L553.38 120.67 L554.51 120.57 L555.64 120.49 L556.77 120.43 L557.9 120.39 L559.02 120.37 L560.15 120.37" stroke="#aedc58"/>
<path d="M419.15 245.2 L420.28 245.2 L421.41 245.2 L422.54 245.2 L423.66 245.2 L424.79 245.16 L425.92 245.11 L427.05 245.04 L428.18 244.96 L429.3 244.86 L430.43 244.73 L431.56 244.57 L432.69 244.38 L433.82 244.15 L434.94 243.87 L436.07 243.55 L437.2 243.17 L438.33 242.74 L439.46 242.24 L440.58 241.68 L441.71 241.05 L442.84 240.34 L443.97 239.55 L445.1 238.68 L446.22 237.73 L447.35 236.69 L448.48 235.57 L449.61 234.36 L450.74 233.07 L451.86 231.69 L452.99 230.23 L454.12 228.69 L455.25 227.07 L456.38 225.38 L457.5 223.62 L458.63 221.79 L459.76 219.9 L460.89 217.95 L462.02 215.95 L463.14 213.91 L464.27 211.82 L465.4 209.7 L466.53 207.55 L467.66 205.38 L468.78 203.18 L469.91 200.98 L471.04 198.76 L472.17 196.54 L473.3 194.33 L474.42 192.12 L475.55 189.92 L476.68 187.73 L477.81 185.57 L478.94 183.42 L480.06 181.3 L481.19 179.2 L482.32 177.13 L483.45 175.09 L484.58 173.08 L485.7 171.1 L486.83 169.16 L487.96 167.26 L489.09 165.4 L490.22 163.58 L491.34 161.8 L492.47 160.08 L493.6 158.4 L494.73 156.77 L495.86 155.2 L496.98 153.67 L498.11 152.18 L499.24 150.75 L500.37 149.35 L501.5 148 L502.62 146.68 L503.75 145.41 L504.88 144.16 L506.01 142.96 L507.14 141.79 L508.26 140.66 L509.39 139.57 L510.52 138.52 L511.65 137.53 L512.78 136.58 L513.9 135.68 L515.03 134.83 L516.16 134.03 L517.29 133.27 L518.42 132.56 L519.54 131.87 L520.67 131.22 L521.8 130.58 L522.93 129.96 L524.06 129.34 L525.18 128.73 L526.31 128.13 L527.44 127.52 L528.57 126.92 L529.7 126.33 L530.82 125.75 L531.95 125.19 L533.08 124.65 L534.21 124.14 L535.34 123.66 L536.46 123.21 L537.59 122.8 L538.72 122.42 L539.85 122.07 L540.98 121.74 L542.1 121.43 L543.23 121.12 L544.36 120.83 L545.49 120.53 L546.62 120.22 L547.74 119.91 L548.87 119.6 L550 119.28 L551.13 118.96 L552.26 118.65 L553.38 118.36 L554.51 118.08 L555.64 117.84 L556.77 117.63 L557.9 117.46 L559.02 117.33 L560.15 117.24 M420.28 245.2 L421.41 245.2 L422.54 245.2 L423.66 245.2 L424.79 245.18 L425.92 245.13 L427.05 245.08 L428.18 245 L429.3 244.91 L430.43 244.79 L431.56 244.65 L432.69 244.47 L433.82 244.26 L434.94 244.01 L436.07 243.71 L437.2 243.36 L438.33 242.96 L439.46 242.49 L440.58 241.96 L441.71 241.36 L442.84 240.69 L443.97 239.94 L445.1 239.11 L446.22 238.2 L447.35 237.2 L448.48 236.12 L449.61 234.95 L450.74 233.7 L451.86 232.36 L452.99 230.94 L454.12 229.44 L455.25 227.85 L456.38 226.2 L457.5 224.47 L458.63 222.67 L459.76 220.8 L460.89 218.88 L462.02 216.91 L463.14 214.88 L464.27 212.81 L465.4 210.7 L466.53 208.56 L467.66 206.39 L468.78 204.2 L469.91 201.99 L471.04 199.77 L472.17 197.54 L473.3 195.32 L474.42 193.09 L475.55 190.87 L476.68 188.67 L477.81 186.48 L478.94 184.31 L480.06 182.16 L481.19 180.04 L482.32 177.94 L483.45 175.87 L484.58 173.83 L485.7 171.82 L486.83 169.84 L487.96 167.9 L489.09 165.99 L490.22 164.13 L491.34 162.31 L492.47 160.53 L493.6 158.8 L494.73 157.12 L495.86 155.49 L496.98 153.92 L498.11 152.39 L499.24 150.92 L500.37 149.49 L501.5 148.11 L502.62 146.77 L503.75 145.48 L504.88 144.22 L506.01 142.99 L507.14 141.8 L508.26 140.65 L509.39 139.53 L510.52 138.44 L511.65 137.4 L512.78 136.4 L513.9 135.44 L515.03 134.52 L516.16 133.66 L517.29 132.84 L518.42 132.06 L519.54 131.33 L520.67 130.64 L521.8 129.97 L522.93 129.33 L524.06 128.71 L525.18 128.09 L526.31 127.49 L527.44 126.88 L528.57 126.28 L529.7 125.68 L530.82 125.07 L531.95 124.48 L533.08 123.9 L534.21 123.33 L535.34 122.79 L536.46 122.28 L537.59 121.8 L538.72 121.36 L539.85 120.95 L540.98 120.58 L542.1 120.25 L543.23 119.94 L544.36 119.65 L545.49 119.37 L546.62 119.1 L547.74 118.84 L548.87 118.57 L550 118.3 L551.13 118.02 L552.26 117.74 L553.38 117.46 L554.51 117.19 L555.64 116.93 L556.77 116.69 L557.9 116.48 L559.02 116.3 L560.15 116.15" stroke="#4ec43e"/>
<path d="M443.97 245.2 L445.1 245.2 L446.22 245.2 L447.35 245.2 L448.48 245.2 L449.61 245.2 L450.74 245.2 L451.86 245.18 L452.99 245.13 L454.12 245.06 L455.25 244.97 L456.38 244.85 L457.5 244.7 L458.63 244.51 L459.76 244.27 L460.89 243.98 L462.02 243.63 L463.14 243.21 L464.27 242.72 L465.4 242.14 L466.53 241.48 L467.66 240.72 L468.78 239.86 L469.91 238.9 L471.04 237.84 L472.17 236.66 L473.3 235.38 L474.42 233.98 L475.55 232.48 L476.68 230.86 L477.81 229.15 L478.94 227.34 L480.06 225.43 L481.19 223.43 L482.32 221.36 L483.45 219.2 L484.58 216.99 L485.7 214.71 L486.83 212.38 L487.96 210 L489.09 207.59 L490.22 205.15 L491.34 202.69 L492.47 200.22 L493.6 197.75 L494.73 195.27 L495.86 192.8 L496.98 190.35 L498.11 187.92 L499.24 185.51 L500.37 183.13 L501.5 180.8 L502.62 178.5 L503.75 176.25 L504.88 174.04 L506.01 171.89 L507.14 169.78 L508.26 167.72 L509.39 165.72 L510.52 163.77 L511.65 161.87 L512.78 160.03 L513.9 158.24 L515.03 156.51 L516.16 154.83 L517.29 153.22 L518.42 151.67 L519.54 150.19 L520.67 148.77 L521.8 147.42 L522.93 146.13 L524.06 144.9 L525.18 143.73 L526.31 142.62 L527.44 141.55 L528.57 140.52 L529.7 139.53 L530.82 138.56 L531.95 137.62 L533.08 136.71 L534.21 135.81 L535.34 134.94 L536.46 134.09 L537.59 133.27 L538.72 132.48 L539.85 131.73 L540.98 131.02 L542.1 130.34 L543.23 129.72 L544.36 129.13 L545.49 128.58 L546.62 128.08 L547.74 127.6 L548.87 127.14 L550 126.71 L551.13 126.29 L552.26 125.87 L553.38 125.45 L554.51 125.04 L555.64 124.63 L556.77 124.22 L557.9 123.83 L559.02 123.44 L560.15 123.08 M443.97 245.2 L445.1 245.2 L446.22 245.2 L447.35 245.2 L448.48 245.2 L449.61 245.2 L450.74 245.18 L451.86 245.13 L452.99 245.06 L454.12 244.97 L455.25 244.86 L456.38 244.72 L457.5 244.55 L458.63 244.34 L459.76 244.08 L460.89 243.76 L462.02 243.39 L463.14 242.96 L464.27 242.45 L465.4 241.87 L466.53 241.21 L467.66 240.46 L468.78 239.62 L469.91 238.69 L471.04 237.66 L472.17 236.54 L473.3 235.31 L474.42 233.99 L475.55 232.57 L476.68 231.06 L477.81 229.46 L478.94 227.76 L480.06 225.98 L481.19 224.12 L482.32 222.19 L483.45 220.18 L484.58 218.12 L485.7 216 L486.83 213.83 L487.96 211.62 L489.09 209.37 L490.22 207.09 L491.34 204.8 L492.47 202.49 L493.6 200.17 L494.73 197.85 L495.86 195.53 L496.98 193.23 L498.11 190.94 L499.24 188.67 L500.37 186.42 L501.5 184.2 L502.62 182.02 L503.75 179.86 L504.88 177.75 L506.01 175.67 L507.14 173.63 L508.26 171.63 L509.39 169.67 L510.52 167.76 L511.65 165.9 L512.78 164.09 L513.9 162.33 L515.03 160.63 L516.16 158.99 L517.29 157.41 L518.42 155.88 L519.54 154.42 L520.67 153.01 L521.8 151.66 L522.93 150.36 L524.06 149.11 L525.18 147.9 L526.31 146.73 L527.44 145.6 L528.57 144.51 L529.7 143.45 L530.82 142.43 L531.95 141.45 L533.08 140.5 L534.21 139.6 L535.34 138.75 L536.46 137.94 L537.59 137.18 L538.72 136.46 L539.85 135.79 L540.98 135.16 L542.1 134.57 L543.23 134 L544.36 133.46 L545.49 132.93 L546.62 132.42 L547.74 131.9 L548.87 131.38 L550 130.86 L551.13 130.34 L552.26 129.82 L553.38 129.3 L554.51 128.8 L555.64 128.31 L556.77 127.85 L557.9 127.41 L559.02 127.01 L560.15 126.65" stroke="#66d2dc"/>
<path d="M462.02 245.2 L463.14 245.2 L464.27 245.2 L465.4 245.2 L466.53 245.2 L467.66 245.2 L468.78 245.2 L469.91 245.19 L471.04 245.15 L472.17 245.08 L473.3 245 L474.42 244.9 L475.55 244.76 L476.68 244.59 L477.81 244.38 L478.94 244.12 L480.06 243.8 L481.19 243.43 L482.32 242.99 L483.45 242.47 L484.58 241.88 L485.7 241.2 L486.83 240.43 L487.96 239.56 L489.09 238.6 L490.22 237.54 L491.34 236.38 L492.47 235.12 L493.6 233.76 L494.73 232.3 L495.86 230.74 L496.98 229.09 L498.11 227.35 L499.24 225.53 L500.37 223.63 L501.5 221.66 L502.62 219.62 L503.75 217.53 L504.88 215.38 L506.01 213.18 L507.14 210.95 L508.26 208.69 L509.39 206.41 L510.52 204.1 L511.65 201.79 L512.78 199.48 L513.9 197.17 L515.03 194.86 L516.16 192.57 L517.29 190.31 L518.42 188.07 L519.54 185.86 L520.67 183.68 L521.8 181.54 L522.93 179.45 L524.06 177.39 L525.18 175.38 L526.31 173.42 L527.44 171.5 L528.57 169.63 L529.7 167.8 L530.82 166.02 L531.95 164.3 L533.08 162.62 L534.21 161 L535.34 159.44 L536.46 157.93 L537.59 156.48 L538.72 155.09 L539.85 153.75 L540.98 152.47 L542.1 151.24 L543.23 150.07 L544.36 148.93 L545.49 147.83 L546.62 146.77 L547.74 145.73 L548.87 144.72 L550 143.74 L551.13 142.77 L552.26 141.83 L553.38 140.92 L554.51 140.03 L555.64 139.19 L556.77 138.38 L557.9 137.61 L559.02 136.9 L560.15 136.23 M466.53 245.2 L467.66 245.2 L468.78 245.2 L469.91 245.2 L471.04 245.2 L472.17 245.2 L473.3 245.2 L474.42 245.17 L475.55 245.11 L476.68 245.04 L477.81 244.94 L478.94 244.82 L480.06 244.66 L481.19 244.47 L482.32 244.23 L483.45 243.94 L484.58 243.6 L485.7 243.19 L486.83 242.71 L487.96 242.15 L489.09 241.51 L490.22 240.79 L491.34 239.98 L492.47 239.07 L493.6 238.06 L494.73 236.96 L495.86 235.75 L496.98 234.45 L498.11 233.05 L499.24 231.55 L500.37 229.96 L501.5 228.28 L502.62 226.52 L503.75 224.68 L504.88 222.76 L506.01 220.78 L507.14 218.74 L508.26 216.65 L509.39 214.51 L510.52 212.34 L511.65 210.13 L512.78 207.9 L513.9 205.65 L515.03 203.39 L516.16 201.13 L517.29 198.88 L518.42 196.62 L519.54 194.39 L520.67 192.17 L521.8 189.97 L522.93 187.81 L524.06 185.67 L525.18 183.58 L526.31 181.52 L527.44 179.52 L528.57 177.55 L529.7 175.64 L530.82 173.78 L531.95 171.97 L533.08 170.22 L534.21 168.51 L535.34 166.85 L536.46 165.24 L537.59 163.68 L538.72 162.17 L539.85 160.71 L540.98 159.29 L542.1 157.93 L543.23 156.62 L544.36 155.37 L545.49 154.17 L546.62 153.03 L547.74 151.95 L548.87 150.93 L550 149.96 L551.13 149.04 L552.26 148.17 L553.38 147.33 L554.51 146.53 L555.64 145.76 L556.77 145 L557.9 144.26 L559.02 143.54 L560.15 142.83" stroke="#4050ac"/>
<path d="M484.58 245.2 L485.7 245.2 L486.83 245.2 L487.96 245.2 L489.09 245.2 L490.22 245.2 L491.34 245.19 L492.47 245.14 L493.6 245.08 L494.73 245 L495.86 244.89 L496.98 244.76 L498.11 244.59 L499.24 244.39 L500.37 244.13 L501.5 243.83 L502.62 243.47 L503.75 243.05 L504.88 242.56 L506.01 241.99 L507.14 241.35 L508.26 240.61 L509.39 239.79 L510.52 238.88 L511.65 237.87 L512.78 236.77 L513.9 235.56 L515.03 234.26 L516.16 232.87 L517.29 231.38 L518.42 229.79 L519.54 228.12 L520.67 226.37 L521.8 224.53 L522.93 222.62 L524.06 220.65 L525.18 218.61 L526.31 216.52 L527.44 214.37 L528.57 212.19 L529.7 209.97 L530.82 207.72 L531.95 205.46 L533.08 203.17 L534.21 200.89 L535.34 198.59 L536.46 196.31 L537.59 194.03 L538.72 191.77 L539.85 189.53 L540.98 187.31 L542.1 185.11 L543.23 182.95 L544.36 180.82 L545.49 178.72 L546.62 176.66 L547.74 174.64 L548.87 172.66 L550 170.74 L551.13 168.86 L552.26 167.03 L553.38 165.25 L554.51 163.53 L555.64 161.86 L556.77 160.24 L557.9 158.68 L559.02 157.16 L560.15 155.69 M486.83 245.2 L487.96 245.2 L489.09 245.2 L490.22 245.2 L491.34 245.2 L492.47 245.2 L493.6 245.19 L494.73 245.14 L495.86 245.08 L496.98 244.99 L498.11 244.89 L499.24 244.75 L500.37 244.59 L501.5 244.38 L502.62 244.13 L503.75 243.83 L504.88 243.47 L506.01 243.04 L507.14 242.55 L508.26 241.98 L509.39 241.33 L510.52 240.6 L511.65 239.78 L512.78 238.86 L513.9 237.85 L515.03 236.74 L516.16 235.54 L517.29 234.24 L518.42 232.84 L519.54 231.35 L520.67 229.76 L521.8 228.09 L522.93 226.33 L524.06 224.5 L525.18 222.59 L526.31 220.61 L527.44 218.57 L528.57 216.47 L529.7 214.33 L530.82 212.14 L531.95 209.93 L533.08 207.68 L534.21 205.41 L535.34 203.13 L536.46 200.84 L537.59 198.55 L538.72 196.27 L539.85 193.99 L540.98 191.73 L542.1 189.48 L543.23 187.26 L544.36 185.07 L545.49 182.9 L546.62 180.77 L547.74 178.67 L548.87 176.61 L550 174.59 L551.13 172.62 L552.26 170.69 L553.38 168.81 L554.51 166.99 L555.64 165.21 L556.77 163.49 L557.9 161.83 L559.02 160.21 L560.15 158.65 M489.09 245.2 L490.22 245.2 L491.34 245.2 L492.47 245.2 L493.6 245.2 L494.73 245.2 L495.86 245.19 L496.98 245.14 L498.11 245.08 L499.24 245 L500.37 244.89 L501.5 244.76 L502.62 244.59 L503.75 244.39 L504.88 244.14 L506.01 243.84 L507.14 243.48 L508.26 243.06 L509.39 242.57 L510.52 242.01 L511.65 241.36 L512.78 240.63 L513.9 239.81 L515.03 238.9 L516.16 237.89 L517.29 236.79 L518.42 235.59 L519.54 234.29 L520.67 232.9 L521.8 231.41 L522.93 229.83 L524.06 228.16 L525.18 226.4 L526.31 224.57 L527.44 222.66 L528.57 220.69 L529.7 218.65 L530.82 216.56 L531.95 214.42 L533.08 212.23 L534.21 210.01 L535.34 207.76 L536.46 205.49 L537.59 203.21 L538.72 200.91 L539.85 198.62 L540.98 196.32 L542.1 194.04 L543.23 191.77 L544.36 189.53 L545.49 187.31 L546.62 185.11 L547.74 182.96 L548.87 180.84 L550 178.76 L551.13 176.72 L552.26 174.72 L553.38 172.77 L554.51 170.86 L555.64 168.99 L556.77 167.17 L557.9 165.4 L559.02 163.67 L560.15 161.99 M491.34 245.2 L492.47 245.2 L493.6 245.2 L494.73 245.2 L495.86 245.2 L496.98 245.2 L498.11 245.19 L499.24 245.14 L500.37 245.08 L501.5 245 L502.62 244.89 L503.75 244.76 L504.88 244.59 L506.01 244.39 L507.14 244.13 L508.26 243.83 L509.39 243.47 L510.52 243.05 L511.65 242.56 L512.78 241.99 L513.9 241.35 L515.03 240.61 L516.16 239.79 L517.29 238.88 L518.42 237.87 L519.54 236.77 L520.67 235.56 L521.8 234.26 L522.93 232.87 L524.06 231.38 L525.18 229.79 L526.31 228.12 L527.44 226.37 L528.57 224.53 L529.7 222.63 L530.82 220.65 L531.95 218.61 L533.08 216.52 L534.21 214.38 L535.34 212.19 L536.46 209.97 L537.59 207.73 L538.72 205.46 L539.85 203.17 L540.98 200.88 L542.1 198.58 L543.23 196.29 L544.36 194 L545.49 191.73 L546.62 189.48 L547.74 187.25 L548.87 185.05 L550 182.88 L551.13 180.75 L552.26 178.66 L553.38 176.61 L554.51 174.6 L555.64 172.64 L556.77 170.72 L557.9 168.85 L559.02 167.02 L560.15 165.24" stroke="#a046cc"/>
</g>
<path d="M296.2 245.7H561" stroke="#c49ab8" stroke-width="0.7"/>
<path d="M296.2 34.9V245.3" stroke="#b0b0b0" stroke-width="0.9" fill="none"/>
<path d="M296.2 237.7H561" stroke="#a2c6ea" stroke-width="2"/>
<text x="296.4" y="237.6" font-family="Liberation Serif, serif" font-size="9.3" fill="#c41c28" stroke="#c41c28" stroke-width="0.08" font-weight="bold" textLength="32.6" lengthAdjust="spacingAndGlyphs">0.383355</text>
<text x="527.8" y="235" font-family="Liberation Serif, serif" font-size="7.4" fill="#1e1e1e" stroke="#1e1e1e" stroke-width="0.15" textLength="29.8" lengthAdjust="spacingAndGlyphs">Threshold</text>
<text x="538.7" y="244.6" font-family="Liberation Serif, serif" font-size="7.3" fill="#111" stroke="#111" stroke-width="0.1" font-weight="bold" textLength="15.9" lengthAdjust="spacingAndGlyphs">NTC</text>
<text x="381.6" y="199.6" font-family="Liberation Serif, serif" font-size="8" fill="#333" stroke="#333" stroke-width="0.15" textLength="14" lengthAdjust="spacingAndGlyphs">10^7</text>
<text x="404.4" y="200.2" font-family="Liberation Serif, serif" font-size="8" fill="#333" stroke="#333" stroke-width="0.15" textLength="14.8" lengthAdjust="spacingAndGlyphs">10^6</text>
<text x="428" y="200.2" font-family="Liberation Serif, serif" font-size="8" fill="#333" stroke="#333" stroke-width="0.15" textLength="14.3" lengthAdjust="spacingAndGlyphs">10^5</text>
<text x="451.8" y="200.2" font-family="Liberation Serif, serif" font-size="8" fill="#333" stroke="#333" stroke-width="0.15" textLength="14.6" lengthAdjust="spacingAndGlyphs">10^4</text>
<text x="474.4" y="199.1" font-family="Liberation Serif, serif" font-size="8" fill="#333" stroke="#333" stroke-width="0.15" textLength="13.8" lengthAdjust="spacingAndGlyphs">10^3</text>
<text x="495.8" y="199.1" font-family="Liberation Serif, serif" font-size="8" fill="#333" stroke="#333" stroke-width="0.15" textLength="14.2" lengthAdjust="spacingAndGlyphs">10^2</text>
<text x="520.6" y="197.7" font-family="Liberation Serif, serif" font-size="8" fill="#333" stroke="#333" stroke-width="0.15" textLength="13.8" lengthAdjust="spacingAndGlyphs">10^1</text>
<text x="416" y="267.3" font-family="Liberation Serif, serif" font-size="7.4" fill="#1e1e1e" stroke="#1e1e1e" stroke-width="0.1" textLength="17.5" lengthAdjust="spacingAndGlyphs">Cycle</text>
<text transform="translate(276.6 131.7) rotate(-90)" font-family="Liberation Serif, serif" font-size="7.7" fill="#1e1e1e" stroke="#1e1e1e" stroke-width="0.05" textLength="8.6" lengthAdjust="spacingAndGlyphs">Rn</text>
<text x="270.3" y="14.8" font-family="Liberation Serif, serif" font-size="20" fill="#000" font-weight="bold">B</text>
<path d="M588.94 4.3V259.3M594.63 4.3V259.3M600.32 4.3V259.3M606.01 4.3V259.3M611.7 4.3V259.3M617.39 4.3V259.3M623.08 4.3V259.3M628.77 4.3V259.3M634.46 4.3V259.3M640.15 4.3V259.3M645.84 4.3V259.3M651.53 4.3V259.3M657.22 4.3V259.3M662.91 4.3V259.3M668.6 4.3V259.3M674.29 4.3V259.3M679.98 4.3V259.3M685.67 4.3V259.3M691.36 4.3V259.3M697.05 4.3V259.3M702.74 4.3V259.3M708.43 4.3V259.3M714.12 4.3V259.3M719.81 4.3V259.3M725.5 4.3V259.3M731.19 4.3V259.3M736.88 4.3V259.3M742.57 4.3V259.3M748.26 4.3V259.3M753.95 4.3V259.3M759.64 4.3V259.3M765.33 4.3V259.3M771.02 4.3V259.3M776.71 4.3V259.3M583.4 249.7H782.6M583.4 240.04H782.6M583.4 230.39H782.6M583.4 220.73H782.6M583.4 211.08H782.6M583.4 201.43H782.6M583.4 191.77H782.6M583.4 182.12H782.6M583.4 172.46H782.6M583.4 162.81H782.6M583.4 153.16H782.6M583.4 143.5H782.6M583.4 133.85H782.6M583.4 124.19H782.6M583.4 114.54H782.6M583.4 104.89H782.6M583.4 95.23H782.6M583.4 85.58H782.6M583.4 75.92H782.6M583.4 66.27H782.6M583.4 56.62H782.6M583.4 46.96H782.6M583.4 37.31H782.6M583.4 27.65H782.6M583.4 18H782.6M583.4 8.35H782.6" stroke="#d6d6d6" stroke-width="0.65" fill="none"/>
<path d="M580.9 211.08H583.4M580.9 162.81H583.4M580.9 114.54H583.4M580.9 66.27H583.4M580.9 18H583.4M611.7 259.3V260.6M640.15 259.3V260.6M668.6 259.3V260.6M697.05 259.3V260.6M725.5 259.3V260.6M753.95 259.3V260.6M782.4 259.3V260.6" stroke="#777" stroke-width="0.5"/>
<g font-family="Liberation Sans, sans-serif" font-weight="bold" font-size="4.7" fill="#1a1a1a" stroke="#1a1a1a" stroke-width="0.05">
<text x="573.1" y="212.98" textLength="5.9" lengthAdjust="spacingAndGlyphs">0.5</text>
<text x="573.1" y="164.71" textLength="5.9" lengthAdjust="spacingAndGlyphs">1.0</text>
<text x="573.1" y="116.44" textLength="5.9" lengthAdjust="spacingAndGlyphs">1.5</text>
<text x="573.1" y="68.17" textLength="5.9" lengthAdjust="spacingAndGlyphs">2.0</text>
<text x="573.1" y="19.9" textLength="5.9" lengthAdjust="spacingAndGlyphs">2.5</text>
</g>
<g font-family="Liberation Sans, sans-serif" font-weight="bold" font-size="4.2" fill="#1a1a1a" stroke="#1a1a1a" stroke-width="0.12" text-anchor="middle">
<text x="610.8" y="268.0">65.0</text>
<text x="639.25" y="268.0">70.0</text>
<text x="667.7" y="268.0">75.0</text>
<text x="696.15" y="268.0">80.0</text>
<text x="724.6" y="268.0">85.0</text>
<text x="753.05" y="268.0">90.0</text>
<text x="781.5" y="268.0">95.0</text>
</g>
<g fill="none" stroke-linejoin="round" stroke-width="0.75">
<path d="M583.7 200.92 L584.3 200.86 L584.91 200.8 L585.51 200.74 L586.11 200.68 L586.72 200.63 L587.32 200.58 L587.93 200.53 L588.53 200.49 L589.13 200.44 L589.74 200.4 L590.34 200.37 L590.94 200.33 L591.55 200.3 L592.15 200.26 L592.75 200.23 L593.36 200.2 L593.96 200.17 L594.57 200.15 L595.17 200.12 L595.77 200.1 L596.38 200.07 L596.98 200.05 L597.58 200.03 L598.19 200.01 L598.79 199.99 L599.39 199.98 L600 199.98 L600.6 199.98 L601.21 199.99 L601.81 200 L602.41 200.02 L603.02 200.04 L603.62 200.06 L604.22 200.09 L604.83 200.12 L605.43 200.15 L606.03 200.18 L606.64 200.22 L607.24 200.26 L607.85 200.3 L608.45 200.34 L609.05 200.38 L609.66 200.42 L610.26 200.46 L610.86 200.5 L611.47 200.54 L612.07 200.58 L612.68 200.62 L613.28 200.67 L613.88 200.72 L614.49 200.77 L615.09 200.83 L615.69 200.89 L616.3 200.95 L616.9 201.02 L617.5 201.09 L618.11 201.17 L618.71 201.24 L619.32 201.32 L619.92 201.4 L620.52 201.48 L621.13 201.56 L621.73 201.65 L622.33 201.73 L622.94 201.82 L623.54 201.9 L624.14 201.99 L624.75 202.07 L625.35 202.16 L625.96 202.24 L626.56 202.33 L627.16 202.41 L627.77 202.5 L628.37 202.59 L628.97 202.69 L629.58 202.78 L630.18 202.88 L630.78 202.97 L631.39 203.07 L631.99 203.17 L632.6 203.27 L633.2 203.37 L633.8 203.48 L634.41 203.58 L635.01 203.68 L635.61 203.79 L636.22 203.89 L636.82 203.99 L637.42 204.1 L638.03 204.2 L638.63 204.3 L639.24 204.4 L639.84 204.51 L640.44 204.61 L641.05 204.71 L641.65 204.81 L642.25 204.92 L642.86 205.02 L643.46 205.13 L644.06 205.24 L644.67 205.35 L645.27 205.45 L645.88 205.56 L646.48 205.67 L647.08 205.77 L647.69 205.87 L648.29 205.98 L648.89 206.08 L649.5 206.18 L650.1 206.28 L650.7 206.37 L651.31 206.46 L651.91 206.55 L652.52 206.64 L653.12 206.73 L653.72 206.83 L654.33 206.92 L654.93 207.02 L655.53 207.11 L656.14 207.21 L656.74 207.3 L657.34 207.39 L657.95 207.47 L658.55 207.55 L659.16 207.62 L659.76 207.69 L660.36 207.74 L660.97 207.79 L661.57 207.82 L662.17 207.84 L662.78 207.86 L663.38 207.86 L663.99 207.86 L664.59 207.84 L665.19 207.8 L665.8 207.73 L666.4 207.63 L667 207.48 L667.61 207.27 L668.21 206.99 L668.81 206.6 L669.42 206.09 L670.02 205.42 L670.63 204.6 L671.23 203.56 L671.83 202.24 L672.44 200.59 L673.04 198.55 L673.64 196.06 L674.25 193.06 L674.85 189.46 L675.45 185.22 L676.06 180.27 L676.66 174.55 L677.27 168.04 L677.87 160.7 L678.47 152.53 L679.08 143.56 L679.68 133.84 L680.28 122.78 L680.89 111.82 L681.49 100.46 L682.09 88.88 L682.7 77.28 L683.3 65.91 L683.91 55.02 L684.51 44.88 L685.11 35.75 L685.72 27.91 L686.32 21.61 L686.92 17.06 L687.53 14.46 L688.13 13.92 L688.73 15.54 L689.34 19.32 L689.94 25.2 L690.55 33.04 L691.15 42.65 L691.75 53.78 L692.36 66.12 L692.96 79.37 L693.56 93.2 L694.17 107.31 L694.77 121.41 L695.37 135.27 L695.98 148.67 L696.58 161.44 L697.19 173.44 L697.79 184.58 L698.39 194.79 L699 204.04 L699.6 212.33 L700.2 219.55 L700.81 226.06 L701.41 231.72 L702.01 236.6 L702.62 240.76 L703.22 244.26 L703.83 247.19 L704.43 249.6 L705.03 251.57 L705.64 253.16 L706.24 254.42 L706.84 255.41 L707.45 256.17 L708.05 256.75 L708.66 257.17 L709.26 257.47 L709.86 257.68 L710.47 257.82 L711.07 257.9 L711.67 257.93 L712.28 257.94 L712.88 257.93 L713.48 257.9 L714.09 257.88 L714.69 257.85 L715.3 257.82 L715.9 257.8 L716.5 257.8 L717.11 257.8 L717.71 257.81 L718.31 257.83 L718.92 257.87 L719.52 257.91 L720.12 257.97 L720.73 258.03 L721.33 258.09 L721.94 258.16 L722.54 258.23 L723.14 258.3 L723.75 258.37 L724.35 258.43 L724.95 258.48 L725.56 258.52 L726.16 258.55 L726.76 258.57 L727.37 258.58 L727.97 258.57 L728.58 258.55 L729.18 258.52 L729.78 258.48 L730.39 258.43 L730.99 258.38 L731.59 258.31 L732.2 258.24 L732.8 258.17 L733.4 258.1 L734.01 258.04 L734.61 257.98 L735.22 257.92 L735.82 257.88 L736.42 257.84 L737.03 257.82 L737.63 257.81 L738.23 257.81 L738.84 257.82 L739.44 257.85 L740.04 257.88 L740.65 257.93 L741.25 257.99 L741.86 258.05 L742.46 258.12 L743.06 258.18 L743.67 258.25 L744.27 258.32 L744.87 258.39 L745.48 258.44 L746.08 258.49 L746.68 258.53 L747.29 258.56 L747.89 258.57 L748.5 258.58 L749.1 258.57 L749.7 258.55 L750.31 258.51 L750.91 258.47 L751.51 258.42 L752.12 258.36 L752.72 258.29 L753.32 258.22 L753.93 258.15 L754.53 258.08 L755.14 258.02 L755.74 257.96 L756.34 257.91 L756.95 257.87 L757.55 257.83 L758.15 257.81 L758.76 257.81 L759.36 257.81 L759.97 257.83 L760.57 257.86 L761.17 257.9 L761.78 257.95 L762.38 258 L762.98 258.07 L763.59 258.14 L764.19 258.21 L764.79 258.28 L765.4 258.34 L766 258.4 L766.61 258.46 L767.21 258.5 L767.81 258.54 L768.42 258.56 L769.02 258.58 L769.62 258.58 L770.23 258.56 L770.83 258.54 L771.43 258.5 L772.04 258.45 L772.64 258.4 L773.25 258.34 L773.85 258.27 L774.45 258.2 L775.06 258.13 L775.66 258.06 L776.26 258 L776.87 257.94 L777.47 257.89 L778.07 257.85 L778.68 257.83 L779.28 257.81 L779.89 257.81 L780.49 257.81 L781.09 257.84 L781.7 257.87 L782.3 257.91" stroke="#e2aa3a"/>
<path d="M583.7 197.6 L584.3 197.51 L584.91 197.42 L585.51 197.33 L586.11 197.26 L586.72 197.18 L587.32 197.11 L587.93 197.04 L588.53 196.98 L589.13 196.92 L589.74 196.86 L590.34 196.81 L590.94 196.75 L591.55 196.71 L592.15 196.66 L592.75 196.62 L593.36 196.59 L593.96 196.55 L594.57 196.52 L595.17 196.49 L595.77 196.47 L596.38 196.44 L596.98 196.42 L597.58 196.4 L598.19 196.39 L598.79 196.38 L599.39 196.37 L600 196.38 L600.6 196.39 L601.21 196.41 L601.81 196.44 L602.41 196.47 L603.02 196.5 L603.62 196.54 L604.22 196.59 L604.83 196.64 L605.43 196.69 L606.03 196.75 L606.64 196.81 L607.24 196.88 L607.85 196.94 L608.45 197.01 L609.05 197.08 L609.66 197.15 L610.26 197.22 L610.86 197.29 L611.47 197.37 L612.07 197.44 L612.68 197.51 L613.28 197.6 L613.88 197.68 L614.49 197.77 L615.09 197.87 L615.69 197.97 L616.3 198.07 L616.9 198.18 L617.5 198.29 L618.11 198.41 L618.71 198.52 L619.32 198.64 L619.92 198.76 L620.52 198.89 L621.13 199.01 L621.73 199.14 L622.33 199.26 L622.94 199.39 L623.54 199.52 L624.14 199.64 L624.75 199.77 L625.35 199.9 L625.96 200.02 L626.56 200.15 L627.16 200.27 L627.77 200.4 L628.37 200.53 L628.97 200.66 L629.58 200.8 L630.18 200.93 L630.78 201.06 L631.39 201.2 L631.99 201.33 L632.6 201.47 L633.2 201.61 L633.8 201.74 L634.41 201.88 L635.01 202.01 L635.61 202.14 L636.22 202.28 L636.82 202.41 L637.42 202.54 L638.03 202.67 L638.63 202.79 L639.24 202.92 L639.84 203.04 L640.44 203.16 L641.05 203.28 L641.65 203.4 L642.25 203.53 L642.86 203.65 L643.46 203.77 L644.06 203.89 L644.67 204 L645.27 204.12 L645.88 204.23 L646.48 204.34 L647.08 204.45 L647.69 204.56 L648.29 204.66 L648.89 204.77 L649.5 204.86 L650.1 204.96 L650.7 205.05 L651.31 205.13 L651.91 205.22 L652.52 205.3 L653.12 205.38 L653.72 205.46 L654.33 205.54 L654.93 205.62 L655.53 205.7 L656.14 205.78 L656.74 205.85 L657.34 205.92 L657.95 205.98 L658.55 206.03 L659.16 206.08 L659.76 206.12 L660.36 206.15 L660.97 206.17 L661.57 206.17 L662.17 206.16 L662.78 206.15 L663.38 206.12 L663.99 206.09 L664.59 206.04 L665.19 205.96 L665.8 205.87 L666.4 205.74 L667 205.56 L667.61 205.33 L668.21 205.02 L668.81 204.61 L669.42 204.09 L670.02 203.41 L670.63 202.6 L671.23 201.56 L671.83 200.27 L672.44 198.65 L673.04 196.66 L673.64 194.23 L674.25 191.3 L674.85 187.8 L675.45 183.66 L676.06 178.84 L676.66 173.26 L677.27 166.9 L677.87 159.73 L678.47 151.74 L679.08 142.95 L679.68 133.4 L680.28 122.89 L680.89 112.12 L681.49 100.94 L682.09 89.5 L682.7 78.01 L683.3 66.72 L683.91 55.86 L684.51 45.7 L685.11 36.52 L685.72 28.57 L686.32 22.12 L686.92 17.39 L687.53 14.56 L688.13 13.79 L688.73 15.16 L689.34 18.69 L689.94 24.32 L690.55 31.95 L691.15 41.37 L691.75 52.34 L692.36 64.57 L692.96 77.73 L693.56 91.52 L694.17 105.62 L694.77 119.74 L695.37 133.64 L695.98 147.1 L696.58 159.95 L697.19 172.04 L697.79 183.28 L698.39 193.6 L699 202.96 L699.6 211.35 L700.2 218.53 L700.81 225.03 L701.41 230.68 L702.01 235.56 L702.62 239.72 L703.22 243.24 L703.83 246.2 L704.43 248.66 L705.03 250.68 L705.64 252.34 L706.24 253.68 L706.84 254.76 L707.45 255.63 L708.05 256.32 L708.66 256.87 L709.26 257.31 L709.86 257.64 L710.47 257.91 L711.07 258.11 L711.67 258.26 L712.28 258.36 L712.88 258.44 L713.48 258.48 L714.09 258.5 L714.69 258.5 L715.3 258.48 L715.9 258.45 L716.5 258.4 L717.11 258.34 L717.71 258.28 L718.31 258.21 L718.92 258.14 L719.52 258.08 L720.12 258.01 L720.73 257.95 L721.33 257.9 L721.94 257.86 L722.54 257.83 L723.14 257.81 L723.75 257.81 L724.35 257.81 L724.95 257.83 L725.56 257.86 L726.16 257.9 L726.76 257.95 L727.37 258.01 L727.97 258.07 L728.58 258.14 L729.18 258.21 L729.78 258.28 L730.39 258.35 L730.99 258.41 L731.59 258.46 L732.2 258.51 L732.8 258.54 L733.4 258.57 L734.01 258.58 L734.61 258.58 L735.22 258.56 L735.82 258.54 L736.42 258.5 L737.03 258.45 L737.63 258.4 L738.23 258.33 L738.84 258.27 L739.44 258.2 L740.04 258.13 L740.65 258.06 L741.25 258 L741.86 257.94 L742.46 257.89 L743.06 257.85 L743.67 257.82 L744.27 257.81 L744.87 257.81 L745.48 257.82 L746.08 257.84 L746.68 257.87 L747.29 257.91 L747.89 257.97 L748.5 258.03 L749.1 258.09 L749.7 258.16 L750.31 258.23 L750.91 258.3 L751.51 258.37 L752.12 258.42 L752.72 258.48 L753.32 258.52 L753.93 258.55 L754.53 258.57 L755.14 258.58 L755.74 258.57 L756.34 258.55 L756.95 258.53 L757.55 258.48 L758.15 258.43 L758.76 258.38 L759.36 258.31 L759.97 258.24 L760.57 258.18 L761.17 258.11 L761.78 258.04 L762.38 257.98 L762.98 257.92 L763.59 257.88 L764.19 257.84 L764.79 257.82 L765.4 257.81 L766 257.81 L766.61 257.82 L767.21 257.85 L767.81 257.88 L768.42 257.93 L769.02 257.99 L769.62 258.05 L770.23 258.11 L770.83 258.18 L771.43 258.25 L772.04 258.32 L772.64 258.38 L773.25 258.44 L773.85 258.49 L774.45 258.53 L775.06 258.56 L775.66 258.57 L776.26 258.58 L776.87 258.57 L777.47 258.55 L778.07 258.51 L778.68 258.47 L779.28 258.42 L779.89 258.36 L780.49 258.29 L781.09 258.22 L781.7 258.15 L782.3 258.09" stroke="#e07a40"/>
<path d="M583.7 196.41 L584.3 196.31 L584.91 196.23 L585.51 196.14 L586.11 196.06 L586.72 195.99 L587.32 195.91 L587.93 195.84 L588.53 195.78 L589.13 195.72 L589.74 195.66 L590.34 195.6 L590.94 195.55 L591.55 195.5 L592.15 195.45 L592.75 195.41 L593.36 195.37 L593.96 195.33 L594.57 195.29 L595.17 195.26 L595.77 195.23 L596.38 195.2 L596.98 195.17 L597.58 195.15 L598.19 195.13 L598.79 195.11 L599.39 195.11 L600 195.11 L600.6 195.11 L601.21 195.12 L601.81 195.14 L602.41 195.17 L603.02 195.2 L603.62 195.23 L604.22 195.27 L604.83 195.31 L605.43 195.36 L606.03 195.41 L606.64 195.47 L607.24 195.52 L607.85 195.58 L608.45 195.64 L609.05 195.7 L609.66 195.77 L610.26 195.83 L610.86 195.9 L611.47 195.96 L612.07 196.03 L612.68 196.1 L613.28 196.17 L613.88 196.25 L614.49 196.33 L615.09 196.42 L615.69 196.52 L616.3 196.61 L616.9 196.71 L617.5 196.82 L618.11 196.93 L618.71 197.04 L619.32 197.15 L619.92 197.26 L620.52 197.38 L621.13 197.5 L621.73 197.62 L622.33 197.74 L622.94 197.86 L623.54 197.99 L624.14 198.11 L624.75 198.23 L625.35 198.35 L625.96 198.47 L626.56 198.59 L627.16 198.72 L627.77 198.84 L628.37 198.97 L628.97 199.1 L629.58 199.23 L630.18 199.36 L630.78 199.49 L631.39 199.62 L631.99 199.75 L632.6 199.89 L633.2 200.02 L633.8 200.15 L634.41 200.29 L635.01 200.42 L635.61 200.55 L636.22 200.69 L636.82 200.82 L637.42 200.95 L638.03 201.08 L638.63 201.21 L639.24 201.33 L639.84 201.46 L640.44 201.58 L641.05 201.7 L641.65 201.83 L642.25 201.95 L642.86 202.07 L643.46 202.19 L644.06 202.32 L644.67 202.44 L645.27 202.56 L645.88 202.67 L646.48 202.79 L647.08 202.9 L647.69 203.01 L648.29 203.12 L648.89 203.23 L649.5 203.33 L650.1 203.43 L650.7 203.53 L651.31 203.62 L651.91 203.71 L652.52 203.79 L653.12 203.88 L653.72 203.97 L654.33 204.05 L654.93 204.14 L655.53 204.23 L656.14 204.31 L656.74 204.39 L657.34 204.46 L657.95 204.53 L658.55 204.59 L659.16 204.65 L659.76 204.69 L660.36 204.73 L660.97 204.75 L661.57 204.77 L662.17 204.76 L662.78 204.75 L663.38 204.73 L663.99 204.7 L664.59 204.65 L665.19 204.59 L665.8 204.49 L666.4 204.36 L667 204.18 L667.61 203.95 L668.21 203.63 L668.81 203.22 L669.42 202.69 L670.02 202 L670.63 201.18 L671.23 200.13 L671.83 198.82 L672.44 197.19 L673.04 195.2 L673.64 192.77 L674.25 189.84 L674.85 186.36 L675.45 182.26 L676.06 177.49 L676.66 171.99 L677.27 165.72 L677.87 158.66 L678.47 150.82 L679.08 142.19 L679.68 132.84 L680.28 122.37 L680.89 111.84 L681.49 100.89 L682.09 89.7 L682.7 78.45 L683.3 67.38 L683.91 56.71 L684.51 46.71 L685.11 37.64 L685.72 29.75 L686.32 23.3 L686.92 18.49 L687.53 15.52 L688.13 14.54 L688.73 15.64 L689.34 18.85 L689.94 24.13 L690.55 31.38 L691.15 40.42 L691.75 51.02 L692.36 62.89 L692.96 75.73 L693.56 89.24 L694.17 103.1 L694.77 117.04 L695.37 130.8 L695.98 144.18 L696.58 157 L697.19 169.11 L697.79 180.41 L698.39 190.83 L699 200.33 L699.6 208.89 L700.2 216.76 L700.81 223.44 L701.41 229.26 L702.01 234.3 L702.62 238.6 L703.22 242.25 L703.83 245.3 L704.43 247.84 L705.03 249.92 L705.64 251.62 L706.24 252.99 L706.84 254.09 L707.45 254.97 L708.05 255.66 L708.66 256.22 L709.26 256.66 L709.86 257.01 L710.47 257.3 L711.07 257.53 L711.67 257.72 L712.28 257.89 L712.88 258.03 L713.48 258.15 L714.09 258.25 L714.69 258.34 L715.3 258.41 L715.9 258.47 L716.5 258.52 L717.11 258.55 L717.71 258.57 L718.31 258.57 L718.92 258.56 L719.52 258.54 L720.12 258.51 L720.73 258.46 L721.33 258.41 L721.94 258.35 L722.54 258.28 L723.14 258.21 L723.75 258.14 L724.35 258.08 L724.95 258.01 L725.56 257.95 L726.16 257.9 L726.76 257.86 L727.37 257.83 L727.97 257.81 L728.58 257.81 L729.18 257.81 L729.78 257.83 L730.39 257.86 L730.99 257.9 L731.59 257.95 L732.2 258.01 L732.8 258.08 L733.4 258.15 L734.01 258.22 L734.61 258.28 L735.22 258.35 L735.82 258.41 L736.42 258.46 L737.03 258.51 L737.63 258.54 L738.23 258.57 L738.84 258.58 L739.44 258.57 L740.04 258.56 L740.65 258.53 L741.25 258.5 L741.86 258.45 L742.46 258.39 L743.06 258.33 L743.67 258.26 L744.27 258.19 L744.87 258.12 L745.48 258.06 L746.08 257.99 L746.68 257.94 L747.29 257.89 L747.89 257.85 L748.5 257.82 L749.1 257.81 L749.7 257.81 L750.31 257.82 L750.91 257.84 L751.51 257.87 L752.12 257.92 L752.72 257.97 L753.32 258.03 L753.93 258.1 L754.53 258.17 L755.14 258.24 L755.74 258.3 L756.34 258.37 L756.95 258.43 L757.55 258.48 L758.15 258.52 L758.76 258.55 L759.36 258.57 L759.97 258.58 L760.57 258.57 L761.17 258.55 L761.78 258.52 L762.38 258.48 L762.98 258.43 L763.59 258.37 L764.19 258.31 L764.79 258.24 L765.4 258.17 L766 258.1 L766.61 258.04 L767.21 257.97 L767.81 257.92 L768.42 257.88 L769.02 257.84 L769.62 257.82 L770.23 257.81 L770.83 257.81 L771.43 257.82 L772.04 257.85 L772.64 257.89 L773.25 257.93 L773.85 257.99 L774.45 258.05 L775.06 258.12 L775.66 258.19 L776.26 258.26 L776.87 258.33 L777.47 258.39 L778.07 258.44 L778.68 258.49 L779.28 258.53 L779.89 258.56 L780.49 258.57 L781.09 258.58 L781.7 258.57 L782.3 258.55" stroke="#e06090"/>
<path d="M583.7 199.93 L584.3 199.89 L584.91 199.85 L585.51 199.82 L586.11 199.79 L586.72 199.76 L587.32 199.74 L587.93 199.71 L588.53 199.69 L589.13 199.68 L589.74 199.66 L590.34 199.65 L590.94 199.64 L591.55 199.64 L592.15 199.63 L592.75 199.63 L593.36 199.62 L593.96 199.62 L594.57 199.62 L595.17 199.62 L595.77 199.62 L596.38 199.63 L596.98 199.63 L597.58 199.64 L598.19 199.64 L598.79 199.65 L599.39 199.67 L600 199.69 L600.6 199.71 L601.21 199.74 L601.81 199.78 L602.41 199.82 L603.02 199.86 L603.62 199.9 L604.22 199.95 L604.83 200 L605.43 200.05 L606.03 200.11 L606.64 200.16 L607.24 200.22 L607.85 200.27 L608.45 200.33 L609.05 200.38 L609.66 200.44 L610.26 200.49 L610.86 200.55 L611.47 200.6 L612.07 200.65 L612.68 200.7 L613.28 200.75 L613.88 200.81 L614.49 200.87 L615.09 200.94 L615.69 201 L616.3 201.07 L616.9 201.14 L617.5 201.22 L618.11 201.29 L618.71 201.37 L619.32 201.45 L619.92 201.52 L620.52 201.6 L621.13 201.68 L621.73 201.76 L622.33 201.84 L622.94 201.92 L623.54 202 L624.14 202.08 L624.75 202.15 L625.35 202.23 L625.96 202.3 L626.56 202.37 L627.16 202.45 L627.77 202.52 L628.37 202.6 L628.97 202.67 L629.58 202.75 L630.18 202.83 L630.78 202.91 L631.39 202.99 L631.99 203.07 L632.6 203.15 L633.2 203.23 L633.8 203.32 L634.41 203.4 L635.01 203.48 L635.61 203.56 L636.22 203.64 L636.82 203.72 L637.42 203.8 L638.03 203.88 L638.63 203.96 L639.24 204.03 L639.84 204.11 L640.44 204.18 L641.05 204.26 L641.65 204.34 L642.25 204.42 L642.86 204.5 L643.46 204.58 L644.06 204.66 L644.67 204.74 L645.27 204.82 L645.88 204.9 L646.48 204.97 L647.08 205.05 L647.69 205.13 L648.29 205.21 L648.89 205.28 L649.5 205.36 L650.1 205.43 L650.7 205.5 L651.31 205.56 L651.91 205.63 L652.52 205.69 L653.12 205.76 L653.72 205.83 L654.33 205.9 L654.93 205.98 L655.53 206.05 L656.14 206.12 L656.74 206.19 L657.34 206.26 L657.95 206.33 L658.55 206.39 L659.16 206.44 L659.76 206.49 L660.36 206.53 L660.97 206.56 L661.57 206.58 L662.17 206.58 L662.78 206.58 L663.38 206.58 L663.99 206.56 L664.59 206.53 L665.19 206.49 L665.8 206.42 L666.4 206.31 L667 206.16 L667.61 205.96 L668.21 205.68 L668.81 205.31 L669.42 204.82 L670.02 204.19 L670.63 203.42 L671.23 202.44 L671.83 201.2 L672.44 199.65 L673.04 197.74 L673.64 195.4 L674.25 192.58 L674.85 189.21 L675.45 185.22 L676.06 180.55 L676.66 175.17 L677.27 169.01 L677.87 162.07 L678.47 154.32 L679.08 145.79 L679.68 136.51 L680.28 126.51 L680.89 115.95 L681.49 104.94 L682.09 93.65 L682.7 82.27 L683.3 71.02 L683.91 60.14 L684.51 49.88 L685.11 40.5 L685.72 32.26 L686.32 25.41 L686.92 20.18 L687.53 16.75 L688.13 15.3 L688.73 15.91 L689.34 18.63 L689.94 23.44 L690.55 30.23 L691.15 38.86 L691.75 49.09 L692.36 60.65 L692.96 73.26 L693.56 86.59 L694.17 100.35 L694.77 114.25 L695.37 128.04 L695.98 141.49 L696.58 154.42 L697.19 166.68 L697.79 178.15 L698.39 188.76 L699 198.45 L699.6 207.21 L700.2 215.26 L700.81 222.13 L701.41 228.13 L702.01 233.32 L702.62 237.78 L703.22 241.55 L703.83 244.72 L704.43 247.36 L705.03 249.53 L705.64 251.3 L706.24 252.74 L706.84 253.89 L707.45 254.81 L708.05 255.54 L708.66 256.13 L709.26 256.59 L709.86 256.96 L710.47 257.26 L711.07 257.51 L711.67 257.71 L712.28 257.88 L712.88 258.02 L713.48 258.14 L714.09 258.25 L714.69 258.34 L715.3 258.41 L715.9 258.47 L716.5 258.52 L717.11 258.55 L717.71 258.57 L718.31 258.57 L718.92 258.56 L719.52 258.54 L720.12 258.5 L720.73 258.46 L721.33 258.4 L721.94 258.34 L722.54 258.28 L723.14 258.21 L723.75 258.14 L724.35 258.07 L724.95 258.01 L725.56 257.95 L726.16 257.9 L726.76 257.86 L727.37 257.83 L727.97 257.81 L728.58 257.81 L729.18 257.81 L729.78 257.83 L730.39 257.86 L730.99 257.91 L731.59 257.96 L732.2 258.02 L732.8 258.08 L733.4 258.15 L734.01 258.22 L734.61 258.29 L735.22 258.35 L735.82 258.41 L736.42 258.47 L737.03 258.51 L737.63 258.55 L738.23 258.57 L738.84 258.58 L739.44 258.57 L740.04 258.56 L740.65 258.53 L741.25 258.49 L741.86 258.44 L742.46 258.39 L743.06 258.32 L743.67 258.26 L744.27 258.19 L744.87 258.12 L745.48 258.05 L746.08 257.99 L746.68 257.93 L747.29 257.89 L747.89 257.85 L748.5 257.82 L749.1 257.81 L749.7 257.81 L750.31 257.82 L750.91 257.84 L751.51 257.88 L752.12 257.92 L752.72 257.97 L753.32 258.04 L753.93 258.1 L754.53 258.17 L755.14 258.24 L755.74 258.31 L756.34 258.37 L756.95 258.43 L757.55 258.48 L758.15 258.52 L758.76 258.55 L759.36 258.57 L759.97 258.58 L760.57 258.57 L761.17 258.55 L761.78 258.52 L762.38 258.48 L762.98 258.43 L763.59 258.37 L764.19 258.3 L764.79 258.24 L765.4 258.17 L766 258.1 L766.61 258.03 L767.21 257.97 L767.81 257.92 L768.42 257.87 L769.02 257.84 L769.62 257.82 L770.23 257.81 L770.83 257.81 L771.43 257.82 L772.04 257.85 L772.64 257.89 L773.25 257.94 L773.85 257.99 L774.45 258.06 L775.06 258.12 L775.66 258.19 L776.26 258.26 L776.87 258.33 L777.47 258.39 L778.07 258.45 L778.68 258.5 L779.28 258.53 L779.89 258.56 L780.49 258.57 L781.09 258.58 L781.7 258.57 L782.3 258.54" stroke="#d8402e"/>
<path d="M583.7 205.33 L584.3 205.29 L584.91 205.26 L585.51 205.23 L586.11 205.21 L586.72 205.19 L587.32 205.17 L587.93 205.16 L588.53 205.15 L589.13 205.14 L589.74 205.13 L590.34 205.13 L590.94 205.13 L591.55 205.14 L592.15 205.14 L592.75 205.15 L593.36 205.16 L593.96 205.18 L594.57 205.19 L595.17 205.21 L595.77 205.22 L596.38 205.24 L596.98 205.26 L597.58 205.28 L598.19 205.3 L598.79 205.33 L599.39 205.36 L600 205.4 L600.6 205.45 L601.21 205.49 L601.81 205.55 L602.41 205.6 L603.02 205.67 L603.62 205.73 L604.22 205.8 L604.83 205.87 L605.43 205.94 L606.03 206.01 L606.64 206.08 L607.24 206.16 L607.85 206.23 L608.45 206.31 L609.05 206.39 L609.66 206.46 L610.26 206.53 L610.86 206.61 L611.47 206.68 L612.07 206.74 L612.68 206.81 L613.28 206.88 L613.88 206.96 L614.49 207.04 L615.09 207.12 L615.69 207.2 L616.3 207.29 L616.9 207.38 L617.5 207.47 L618.11 207.56 L618.71 207.65 L619.32 207.74 L619.92 207.83 L620.52 207.92 L621.13 208.02 L621.73 208.11 L622.33 208.2 L622.94 208.29 L623.54 208.38 L624.14 208.47 L624.75 208.55 L625.35 208.64 L625.96 208.72 L626.56 208.8 L627.16 208.88 L627.77 208.96 L628.37 209.04 L628.97 209.12 L629.58 209.2 L630.18 209.29 L630.78 209.37 L631.39 209.45 L631.99 209.53 L632.6 209.62 L633.2 209.7 L633.8 209.78 L634.41 209.86 L635.01 209.94 L635.61 210.02 L636.22 210.09 L636.82 210.17 L637.42 210.24 L638.03 210.32 L638.63 210.39 L639.24 210.46 L639.84 210.53 L640.44 210.59 L641.05 210.66 L641.65 210.73 L642.25 210.8 L642.86 210.87 L643.46 210.94 L644.06 211 L644.67 211.07 L645.27 211.14 L645.88 211.21 L646.48 211.27 L647.08 211.34 L647.69 211.4 L648.29 211.46 L648.89 211.52 L649.5 211.58 L650.1 211.63 L650.7 211.68 L651.31 211.73 L651.91 211.78 L652.52 211.83 L653.12 211.88 L653.72 211.93 L654.33 211.98 L654.93 212.04 L655.53 212.09 L656.14 212.15 L656.74 212.2 L657.34 212.25 L657.95 212.29 L658.55 212.33 L659.16 212.37 L659.76 212.4 L660.36 212.42 L660.97 212.43 L661.57 212.43 L662.17 212.42 L662.78 212.4 L663.38 212.38 L663.99 212.35 L664.59 212.31 L665.19 212.25 L665.8 212.17 L666.4 212.05 L667 211.9 L667.61 211.69 L668.21 211.41 L668.81 211.04 L669.42 210.56 L670.02 209.93 L670.63 209.17 L671.23 208.19 L671.83 206.95 L672.44 205.39 L673.04 203.46 L673.64 201.09 L674.25 198.22 L674.85 194.78 L675.45 190.69 L676.06 185.9 L676.66 180.35 L677.27 174 L677.87 166.82 L678.47 158.8 L679.08 149.96 L679.68 140.35 L680.28 130.51 L680.89 119.6 L681.49 108.25 L682.09 96.65 L682.7 84.99 L683.3 73.54 L683.91 62.53 L684.51 52.24 L685.11 42.96 L685.72 34.94 L686.32 28.44 L686.92 23.69 L687.53 20.86 L688.13 20.11 L688.73 21.5 L689.34 25.05 L689.94 30.69 L690.55 38.3 L691.15 47.68 L691.75 58.57 L692.36 70.69 L692.96 83.71 L693.56 97.33 L694.17 111.23 L694.77 125.14 L695.37 138.81 L695.98 152.02 L696.58 164.59 L697.19 176.4 L697.79 187.34 L698.39 197.35 L699 206.39 L699.6 214.46 L700.2 221.21 L700.81 227.45 L701.41 232.86 L702.01 237.51 L702.62 241.46 L703.22 244.79 L703.83 247.57 L704.43 249.87 L705.03 251.75 L705.64 253.28 L706.24 254.51 L706.84 255.49 L707.45 256.26 L708.05 256.87 L708.66 257.33 L709.26 257.68 L709.86 257.94 L710.47 258.13 L711.07 258.26 L711.67 258.34 L712.28 258.38 L712.88 258.39 L713.48 258.38 L714.09 258.35 L714.69 258.31 L715.3 258.25 L715.9 258.19 L716.5 258.13 L717.11 258.06 L717.71 258 L718.31 257.94 L718.92 257.89 L719.52 257.86 L720.12 257.83 L720.73 257.81 L721.33 257.8 L721.94 257.81 L722.54 257.83 L723.14 257.87 L723.75 257.91 L724.35 257.96 L724.95 258.02 L725.56 258.08 L726.16 258.15 L726.76 258.22 L727.37 258.29 L727.97 258.36 L728.58 258.42 L729.18 258.47 L729.78 258.51 L730.39 258.55 L730.99 258.57 L731.59 258.58 L732.2 258.57 L732.8 258.56 L733.4 258.53 L734.01 258.49 L734.61 258.44 L735.22 258.39 L735.82 258.32 L736.42 258.25 L737.03 258.18 L737.63 258.12 L738.23 258.05 L738.84 257.99 L739.44 257.93 L740.04 257.88 L740.65 257.85 L741.25 257.82 L741.86 257.81 L742.46 257.81 L743.06 257.82 L743.67 257.84 L744.27 257.88 L744.87 257.92 L745.48 257.98 L746.08 258.04 L746.68 258.1 L747.29 258.17 L747.89 258.24 L748.5 258.31 L749.1 258.38 L749.7 258.43 L750.31 258.48 L750.91 258.52 L751.51 258.55 L752.12 258.57 L752.72 258.58 L753.32 258.57 L753.93 258.55 L754.53 258.52 L755.14 258.48 L755.74 258.43 L756.34 258.37 L756.95 258.3 L757.55 258.23 L758.15 258.16 L758.76 258.09 L759.36 258.03 L759.97 257.97 L760.57 257.92 L761.17 257.87 L761.78 257.84 L762.38 257.82 L762.98 257.81 L763.59 257.81 L764.19 257.82 L764.79 257.85 L765.4 257.89 L766 257.94 L766.61 258 L767.21 258.06 L767.81 258.13 L768.42 258.2 L769.02 258.26 L769.62 258.33 L770.23 258.39 L770.83 258.45 L771.43 258.5 L772.04 258.54 L772.64 258.56 L773.25 258.58 L773.85 258.58 L774.45 258.57 L775.06 258.54 L775.66 258.51 L776.26 258.46 L776.87 258.41 L777.47 258.35 L778.07 258.28 L778.68 258.21 L779.28 258.14 L779.89 258.07 L780.49 258.01 L781.09 257.95 L781.7 257.9 L782.3 257.86" stroke="#c8e070"/>
<path d="M583.7 193.82 L584.3 193.76 L584.91 193.71 L585.51 193.66 L586.11 193.61 L586.72 193.57 L587.32 193.54 L587.93 193.5 L588.53 193.48 L589.13 193.45 L589.74 193.44 L590.34 193.42 L590.94 193.41 L591.55 193.4 L592.15 193.4 L592.75 193.4 L593.36 193.4 L593.96 193.4 L594.57 193.41 L595.17 193.42 L595.77 193.44 L596.38 193.46 L596.98 193.47 L597.58 193.5 L598.19 193.52 L598.79 193.55 L599.39 193.58 L600 193.63 L600.6 193.68 L601.21 193.73 L601.81 193.8 L602.41 193.86 L603.02 193.94 L603.62 194.01 L604.22 194.09 L604.83 194.18 L605.43 194.26 L606.03 194.35 L606.64 194.44 L607.24 194.54 L607.85 194.63 L608.45 194.73 L609.05 194.82 L609.66 194.92 L610.26 195.02 L610.86 195.11 L611.47 195.21 L612.07 195.3 L612.68 195.4 L613.28 195.5 L613.88 195.6 L614.49 195.71 L615.09 195.82 L615.69 195.93 L616.3 196.05 L616.9 196.17 L617.5 196.29 L618.11 196.41 L618.71 196.53 L619.32 196.65 L619.92 196.78 L620.52 196.9 L621.13 197.03 L621.73 197.15 L622.33 197.28 L622.94 197.4 L623.54 197.52 L624.14 197.64 L624.75 197.76 L625.35 197.88 L625.96 197.99 L626.56 198.11 L627.16 198.22 L627.77 198.33 L628.37 198.45 L628.97 198.56 L629.58 198.67 L630.18 198.79 L630.78 198.9 L631.39 199.01 L631.99 199.12 L632.6 199.23 L633.2 199.34 L633.8 199.45 L634.41 199.56 L635.01 199.66 L635.61 199.76 L636.22 199.86 L636.82 199.96 L637.42 200.06 L638.03 200.16 L638.63 200.25 L639.24 200.34 L639.84 200.42 L640.44 200.51 L641.05 200.59 L641.65 200.68 L642.25 200.76 L642.86 200.84 L643.46 200.92 L644.06 201 L644.67 201.08 L645.27 201.16 L645.88 201.23 L646.48 201.3 L647.08 201.37 L647.69 201.44 L648.29 201.5 L648.89 201.56 L649.5 201.62 L650.1 201.68 L650.7 201.73 L651.31 201.77 L651.91 201.82 L652.52 201.86 L653.12 201.9 L653.72 201.95 L654.33 201.99 L654.93 202.04 L655.53 202.08 L656.14 202.12 L656.74 202.16 L657.34 202.19 L657.95 202.22 L658.55 202.24 L659.16 202.26 L659.76 202.27 L660.36 202.26 L660.97 202.25 L661.57 202.22 L662.17 202.18 L662.78 202.13 L663.38 202.07 L663.99 201.99 L664.59 201.89 L665.19 201.76 L665.8 201.6 L666.4 201.38 L667 201.11 L667.61 200.75 L668.21 200.29 L668.81 199.7 L669.42 198.95 L670.02 198 L670.63 196.87 L671.23 195.45 L671.83 193.7 L672.44 191.56 L673.04 188.97 L673.64 185.87 L674.25 182.19 L674.85 177.88 L675.45 172.87 L676.06 167.13 L676.66 160.61 L677.27 153.3 L677.87 145.21 L678.47 136.35 L679.08 126.79 L679.68 116.61 L680.28 106.64 L680.89 95.6 L681.49 84.37 L682.09 73.17 L682.7 62.21 L683.3 51.75 L683.91 42.04 L684.51 33.35 L685.11 25.93 L685.72 20.02 L686.32 15.84 L686.92 13.56 L687.53 13.31 L688.13 15.16 L688.73 19.13 L689.34 25.16 L689.94 33.11 L690.55 42.78 L691.15 53.93 L691.75 66.25 L692.36 79.44 L692.96 93.19 L693.56 107.19 L694.17 121.17 L694.77 134.9 L695.37 148.17 L695.98 160.82 L696.58 172.71 L697.19 183.77 L697.79 193.92 L698.39 203.13 L699 211.4 L699.6 218.76 L700.2 225.31 L700.81 231.02 L701.41 235.94 L702.01 240.16 L702.62 243.72 L703.22 246.7 L703.83 249.16 L704.43 251.18 L705.03 252.81 L705.64 254.1 L706.24 255.12 L706.84 255.9 L707.45 256.5 L708.05 256.94 L708.66 257.25 L709.26 257.47 L709.86 257.62 L710.47 257.71 L711.07 257.76 L711.67 257.78 L712.28 257.79 L712.88 257.79 L713.48 257.78 L714.09 257.77 L714.69 257.77 L715.3 257.78 L715.9 257.8 L716.5 257.83 L717.11 257.86 L717.71 257.91 L718.31 257.96 L718.92 258.02 L719.52 258.09 L720.12 258.16 L720.73 258.23 L721.33 258.3 L721.94 258.36 L722.54 258.42 L723.14 258.48 L723.75 258.52 L724.35 258.55 L724.95 258.57 L725.56 258.58 L726.16 258.57 L726.76 258.56 L727.37 258.53 L727.97 258.49 L728.58 258.44 L729.18 258.38 L729.78 258.31 L730.39 258.25 L730.99 258.18 L731.59 258.11 L732.2 258.04 L732.8 257.98 L733.4 257.92 L734.01 257.88 L734.61 257.84 L735.22 257.82 L735.82 257.81 L736.42 257.81 L737.03 257.82 L737.63 257.85 L738.23 257.88 L738.84 257.93 L739.44 257.98 L740.04 258.05 L740.65 258.11 L741.25 258.18 L741.86 258.25 L742.46 258.32 L743.06 258.38 L743.67 258.44 L744.27 258.49 L744.87 258.53 L745.48 258.56 L746.08 258.57 L746.68 258.58 L747.29 258.57 L747.89 258.55 L748.5 258.52 L749.1 258.47 L749.7 258.42 L750.31 258.36 L750.91 258.29 L751.51 258.23 L752.12 258.16 L752.72 258.09 L753.32 258.02 L753.93 257.96 L754.53 257.91 L755.14 257.87 L755.74 257.83 L756.34 257.81 L756.95 257.81 L757.55 257.81 L758.15 257.83 L758.76 257.86 L759.36 257.9 L759.97 257.94 L760.57 258 L761.17 258.07 L761.78 258.13 L762.38 258.2 L762.98 258.27 L763.59 258.34 L764.19 258.4 L764.79 258.46 L765.4 258.5 L766 258.54 L766.61 258.56 L767.21 258.58 L767.81 258.58 L768.42 258.56 L769.02 258.54 L769.62 258.5 L770.23 258.46 L770.83 258.4 L771.43 258.34 L772.04 258.27 L772.64 258.2 L773.25 258.13 L773.85 258.07 L774.45 258 L775.06 257.95 L775.66 257.9 L776.26 257.86 L776.87 257.83 L777.47 257.81 L778.07 257.81 L778.68 257.81 L779.28 257.83 L779.89 257.87 L780.49 257.91 L781.09 257.96 L781.7 258.02 L782.3 258.09" stroke="#b090e0"/>
<path d="M583.7 194.79 L584.3 194.75 L584.91 194.72 L585.51 194.69 L586.11 194.66 L586.72 194.64 L587.32 194.62 L587.93 194.61 L588.53 194.59 L589.13 194.59 L589.74 194.58 L590.34 194.58 L590.94 194.59 L591.55 194.59 L592.15 194.6 L592.75 194.61 L593.36 194.62 L593.96 194.64 L594.57 194.65 L595.17 194.67 L595.77 194.69 L596.38 194.71 L596.98 194.74 L597.58 194.76 L598.19 194.79 L598.79 194.82 L599.39 194.85 L600 194.9 L600.6 194.95 L601.21 195 L601.81 195.06 L602.41 195.12 L603.02 195.19 L603.62 195.26 L604.22 195.33 L604.83 195.41 L605.43 195.49 L606.03 195.57 L606.64 195.65 L607.24 195.73 L607.85 195.81 L608.45 195.89 L609.05 195.98 L609.66 196.06 L610.26 196.14 L610.86 196.22 L611.47 196.3 L612.07 196.37 L612.68 196.45 L613.28 196.53 L613.88 196.61 L614.49 196.7 L615.09 196.79 L615.69 196.88 L616.3 196.98 L616.9 197.07 L617.5 197.17 L618.11 197.27 L618.71 197.37 L619.32 197.47 L619.92 197.57 L620.52 197.67 L621.13 197.77 L621.73 197.87 L622.33 197.96 L622.94 198.06 L623.54 198.16 L624.14 198.25 L624.75 198.34 L625.35 198.43 L625.96 198.52 L626.56 198.61 L627.16 198.69 L627.77 198.78 L628.37 198.87 L628.97 198.96 L629.58 199.04 L630.18 199.13 L630.78 199.22 L631.39 199.31 L631.99 199.39 L632.6 199.48 L633.2 199.56 L633.8 199.65 L634.41 199.73 L635.01 199.81 L635.61 199.89 L636.22 199.97 L636.82 200.05 L637.42 200.13 L638.03 200.2 L638.63 200.28 L639.24 200.35 L639.84 200.42 L640.44 200.48 L641.05 200.55 L641.65 200.62 L642.25 200.69 L642.86 200.76 L643.46 200.83 L644.06 200.89 L644.67 200.96 L645.27 201.02 L645.88 201.09 L646.48 201.15 L647.08 201.21 L647.69 201.27 L648.29 201.33 L648.89 201.39 L649.5 201.44 L650.1 201.49 L650.7 201.54 L651.31 201.59 L651.91 201.63 L652.52 201.67 L653.12 201.71 L653.72 201.76 L654.33 201.81 L654.93 201.86 L655.53 201.91 L656.14 201.95 L656.74 202 L657.34 202.04 L657.95 202.08 L658.55 202.11 L659.16 202.14 L659.76 202.16 L660.36 202.17 L660.97 202.17 L661.57 202.15 L662.17 202.13 L662.78 202.09 L663.38 202.04 L663.99 201.97 L664.59 201.89 L665.19 201.77 L665.8 201.62 L666.4 201.42 L667 201.15 L667.61 200.79 L668.21 200.33 L668.81 199.73 L669.42 198.97 L670.02 198 L670.63 196.83 L671.23 195.37 L671.83 193.57 L672.44 191.37 L673.04 188.7 L673.64 185.5 L674.25 181.71 L674.85 177.27 L675.45 172.12 L676.06 166.21 L676.66 159.53 L677.27 152.04 L677.87 143.77 L678.47 134.73 L679.08 124.99 L679.68 114.64 L680.28 104.42 L680.89 93.22 L681.49 81.87 L682.09 70.58 L682.7 59.58 L683.3 49.11 L683.91 39.45 L684.51 30.86 L685.11 23.58 L685.72 17.87 L686.32 13.92 L686.92 11.91 L687.53 11.97 L688.13 14.15 L688.73 18.46 L689.34 24.82 L689.94 33.09 L690.55 43.05 L691.15 54.46 L691.75 67 L692.36 80.37 L692.96 94.26 L693.56 108.35 L694.17 122.39 L694.77 136.15 L695.37 149.42 L695.98 162.04 L696.58 173.9 L697.19 184.89 L697.79 194.97 L698.39 204.1 L699 212.28 L699.6 219.55 L700.2 225.54 L700.81 231.1 L701.41 235.91 L702.01 240.02 L702.62 243.51 L703.22 246.45 L703.83 248.89 L704.43 250.91 L705.03 252.56 L705.64 253.91 L706.24 254.99 L706.84 255.85 L707.45 256.53 L708.05 257.06 L708.66 257.47 L709.26 257.78 L709.86 258.01 L710.47 258.18 L711.07 258.29 L711.67 258.36 L712.28 258.39 L712.88 258.4 L713.48 258.38 L714.09 258.34 L714.69 258.3 L715.3 258.24 L715.9 258.18 L716.5 258.11 L717.11 258.05 L717.71 257.99 L718.31 257.93 L718.92 257.89 L719.52 257.85 L720.12 257.82 L720.73 257.81 L721.33 257.81 L721.94 257.82 L722.54 257.84 L723.14 257.87 L723.75 257.92 L724.35 257.97 L724.95 258.03 L725.56 258.1 L726.16 258.17 L726.76 258.24 L727.37 258.31 L727.97 258.37 L728.58 258.43 L729.18 258.48 L729.78 258.52 L730.39 258.55 L730.99 258.57 L731.59 258.58 L732.2 258.57 L732.8 258.55 L733.4 258.52 L734.01 258.48 L734.61 258.43 L735.22 258.37 L735.82 258.31 L736.42 258.24 L737.03 258.17 L737.63 258.1 L738.23 258.03 L738.84 257.97 L739.44 257.92 L740.04 257.87 L740.65 257.84 L741.25 257.82 L741.86 257.81 L742.46 257.81 L743.06 257.82 L743.67 257.85 L744.27 257.89 L744.87 257.93 L745.48 257.99 L746.08 258.05 L746.68 258.12 L747.29 258.19 L747.89 258.26 L748.5 258.33 L749.1 258.39 L749.7 258.45 L750.31 258.49 L750.91 258.53 L751.51 258.56 L752.12 258.57 L752.72 258.58 L753.32 258.57 L753.93 258.54 L754.53 258.51 L755.14 258.47 L755.74 258.41 L756.34 258.35 L756.95 258.29 L757.55 258.22 L758.15 258.15 L758.76 258.08 L759.36 258.02 L759.97 257.96 L760.57 257.91 L761.17 257.86 L761.78 257.83 L762.38 257.81 L762.98 257.81 L763.59 257.81 L764.19 257.83 L764.79 257.86 L765.4 257.9 L766 257.95 L766.61 258.01 L767.21 258.07 L767.81 258.14 L768.42 258.21 L769.02 258.28 L769.62 258.35 L770.23 258.41 L770.83 258.46 L771.43 258.51 L772.04 258.54 L772.64 258.57 L773.25 258.58 L773.85 258.58 L774.45 258.56 L775.06 258.54 L775.66 258.5 L776.26 258.45 L776.87 258.4 L777.47 258.33 L778.07 258.27 L778.68 258.2 L779.28 258.13 L779.89 258.06 L780.49 258 L781.09 257.94 L781.7 257.89 L782.3 257.85" stroke="#8080d8"/>
<path d="M583.7 196.28 L584.3 196.22 L584.91 196.16 L585.51 196.11 L586.11 196.05 L586.72 196 L587.32 195.96 L587.93 195.91 L588.53 195.87 L589.13 195.83 L589.74 195.79 L590.34 195.75 L590.94 195.72 L591.55 195.69 L592.15 195.66 L592.75 195.63 L593.36 195.6 L593.96 195.58 L594.57 195.55 L595.17 195.53 L595.77 195.51 L596.38 195.48 L596.98 195.46 L597.58 195.44 L598.19 195.42 L598.79 195.41 L599.39 195.4 L600 195.4 L600.6 195.4 L601.21 195.41 L601.81 195.43 L602.41 195.44 L603.02 195.46 L603.62 195.49 L604.22 195.52 L604.83 195.55 L605.43 195.58 L606.03 195.62 L606.64 195.65 L607.24 195.69 L607.85 195.73 L608.45 195.77 L609.05 195.81 L609.66 195.86 L610.26 195.9 L610.86 195.94 L611.47 195.98 L612.07 196.02 L612.68 196.06 L613.28 196.1 L613.88 196.15 L614.49 196.2 L615.09 196.26 L615.69 196.32 L616.3 196.39 L616.9 196.45 L617.5 196.52 L618.11 196.6 L618.71 196.67 L619.32 196.75 L619.92 196.83 L620.52 196.91 L621.13 196.99 L621.73 197.07 L622.33 197.15 L622.94 197.24 L623.54 197.32 L624.14 197.41 L624.75 197.49 L625.35 197.57 L625.96 197.65 L626.56 197.74 L627.16 197.82 L627.77 197.91 L628.37 197.99 L628.97 198.09 L629.58 198.18 L630.18 198.27 L630.78 198.37 L631.39 198.46 L631.99 198.56 L632.6 198.66 L633.2 198.76 L633.8 198.86 L634.41 198.96 L635.01 199.06 L635.61 199.16 L636.22 199.26 L636.82 199.36 L637.42 199.46 L638.03 199.56 L638.63 199.66 L639.24 199.76 L639.84 199.86 L640.44 199.96 L641.05 200.06 L641.65 200.16 L642.25 200.26 L642.86 200.37 L643.46 200.47 L644.06 200.58 L644.67 200.68 L645.27 200.79 L645.88 200.89 L646.48 200.99 L647.08 201.1 L647.69 201.2 L648.29 201.3 L648.89 201.4 L649.5 201.5 L650.1 201.59 L650.7 201.69 L651.31 201.78 L651.91 201.86 L652.52 201.95 L653.12 202.04 L653.72 202.13 L654.33 202.23 L654.93 202.32 L655.53 202.42 L656.14 202.51 L656.74 202.6 L657.34 202.69 L657.95 202.77 L658.55 202.85 L659.16 202.92 L659.76 202.98 L660.36 203.04 L660.97 203.08 L661.57 203.11 L662.17 203.13 L662.78 203.14 L663.38 203.14 L663.99 203.13 L664.59 203.1 L665.19 203.05 L665.8 202.97 L666.4 202.84 L667 202.66 L667.61 202.4 L668.21 202.06 L668.81 201.6 L669.42 200.99 L670.02 200.2 L670.63 199.23 L671.23 197.99 L671.83 196.44 L672.44 194.5 L673.04 192.13 L673.64 189.24 L674.25 185.78 L674.85 181.67 L675.45 176.85 L676.06 171.26 L676.66 164.86 L677.27 157.63 L677.87 149.55 L678.47 140.64 L679.08 130.95 L679.68 120.57 L680.28 108.96 L680.89 97.54 L681.49 85.87 L682.09 74.16 L682.7 62.66 L683.3 51.64 L683.91 41.36 L684.51 32.11 L685.11 24.17 L685.72 17.8 L686.32 13.23 L686.92 10.66 L687.53 10.22 L688.13 12.01 L688.73 16.02 L689.34 22.2 L689.94 30.4 L690.55 40.42 L691.15 51.98 L691.75 64.77 L692.36 78.47 L692.96 92.72 L693.56 107.23 L694.17 121.69 L694.77 135.86 L695.37 149.51 L695.98 162.48 L696.58 174.62 L697.19 185.86 L697.79 196.11 L698.39 205.37 L699 213.62 L699.6 220.91 L700.2 227.19 L700.81 232.62 L701.41 237.26 L702.01 241.2 L702.62 244.49 L703.22 247.23 L703.83 249.48 L704.43 251.31 L705.03 252.8 L705.64 253.99 L706.24 254.95 L706.84 255.71 L707.45 256.31 L708.05 256.79 L708.66 257.17 L709.26 257.48 L709.86 257.73 L710.47 257.93 L711.07 258.09 L711.67 258.22 L712.28 258.33 L712.88 258.41 L713.48 258.48 L714.09 258.52 L714.69 258.55 L715.3 258.56 L715.9 258.56 L716.5 258.54 L717.11 258.51 L717.71 258.47 L718.31 258.41 L718.92 258.36 L719.52 258.29 L720.12 258.22 L720.73 258.15 L721.33 258.08 L721.94 258.02 L722.54 257.96 L723.14 257.91 L723.75 257.87 L724.35 257.83 L724.95 257.81 L725.56 257.81 L726.16 257.81 L726.76 257.83 L727.37 257.86 L727.97 257.9 L728.58 257.95 L729.18 258 L729.78 258.07 L730.39 258.14 L730.99 258.21 L731.59 258.28 L732.2 258.34 L732.8 258.4 L733.4 258.46 L734.01 258.5 L734.61 258.54 L735.22 258.56 L735.82 258.58 L736.42 258.58 L737.03 258.56 L737.63 258.54 L738.23 258.5 L738.84 258.45 L739.44 258.4 L740.04 258.34 L740.65 258.27 L741.25 258.2 L741.86 258.13 L742.46 258.06 L743.06 258 L743.67 257.94 L744.27 257.89 L744.87 257.85 L745.48 257.83 L746.08 257.81 L746.68 257.81 L747.29 257.81 L747.89 257.84 L748.5 257.87 L749.1 257.91 L749.7 257.96 L750.31 258.02 L750.91 258.09 L751.51 258.16 L752.12 258.23 L752.72 258.3 L753.32 258.36 L753.93 258.42 L754.53 258.47 L755.14 258.52 L755.74 258.55 L756.34 258.57 L756.95 258.58 L757.55 258.57 L758.15 258.56 L758.76 258.53 L759.36 258.49 L759.97 258.44 L760.57 258.38 L761.17 258.32 L761.78 258.25 L762.38 258.18 L762.98 258.11 L763.59 258.04 L764.19 257.98 L764.79 257.93 L765.4 257.88 L766 257.84 L766.61 257.82 L767.21 257.81 L767.81 257.81 L768.42 257.82 L769.02 257.84 L769.62 257.88 L770.23 257.93 L770.83 257.98 L771.43 258.04 L772.04 258.11 L772.64 258.18 L773.25 258.25 L773.85 258.32 L774.45 258.38 L775.06 258.44 L775.66 258.49 L776.26 258.53 L776.87 258.56 L777.47 258.57 L778.07 258.58 L778.68 258.57 L779.28 258.55 L779.89 258.52 L780.49 258.47 L781.09 258.42 L781.7 258.36 L782.3 258.3" stroke="#58b0e0"/>
<path d="M583.7 196.33 L584.3 196.29 L584.91 196.25 L585.51 196.22 L586.11 196.18 L586.72 196.16 L587.32 196.13 L587.93 196.11 L588.53 196.09 L589.13 196.07 L589.74 196.06 L590.34 196.04 L590.94 196.03 L591.55 196.02 L592.15 196.02 L592.75 196.01 L593.36 196.01 L593.96 196 L594.57 196 L595.17 196 L595.77 196 L596.38 196.01 L596.98 196.01 L597.58 196.01 L598.19 196.02 L598.79 196.02 L599.39 196.04 L600 196.06 L600.6 196.08 L601.21 196.11 L601.81 196.14 L602.41 196.18 L603.02 196.22 L603.62 196.27 L604.22 196.31 L604.83 196.36 L605.43 196.41 L606.03 196.46 L606.64 196.52 L607.24 196.57 L607.85 196.63 L608.45 196.68 L609.05 196.74 L609.66 196.79 L610.26 196.84 L610.86 196.9 L611.47 196.95 L612.07 196.99 L612.68 197.04 L613.28 197.1 L613.88 197.16 L614.49 197.22 L615.09 197.28 L615.69 197.35 L616.3 197.41 L616.9 197.48 L617.5 197.56 L618.11 197.63 L618.71 197.71 L619.32 197.78 L619.92 197.86 L620.52 197.94 L621.13 198.02 L621.73 198.1 L622.33 198.18 L622.94 198.26 L623.54 198.33 L624.14 198.41 L624.75 198.49 L625.35 198.56 L625.96 198.63 L626.56 198.71 L627.16 198.78 L627.77 198.85 L628.37 198.93 L628.97 199.01 L629.58 199.09 L630.18 199.17 L630.78 199.25 L631.39 199.33 L631.99 199.41 L632.6 199.49 L633.2 199.57 L633.8 199.65 L634.41 199.73 L635.01 199.82 L635.61 199.9 L636.22 199.98 L636.82 200.06 L637.42 200.14 L638.03 200.22 L638.63 200.3 L639.24 200.38 L639.84 200.45 L640.44 200.53 L641.05 200.61 L641.65 200.69 L642.25 200.76 L642.86 200.85 L643.46 200.93 L644.06 201.01 L644.67 201.09 L645.27 201.17 L645.88 201.25 L646.48 201.33 L647.08 201.41 L647.69 201.49 L648.29 201.57 L648.89 201.64 L649.5 201.72 L650.1 201.79 L650.7 201.86 L651.31 201.93 L651.91 202 L652.52 202.06 L653.12 202.13 L653.72 202.2 L654.33 202.28 L654.93 202.35 L655.53 202.43 L656.14 202.5 L656.74 202.57 L657.34 202.64 L657.95 202.71 L658.55 202.77 L659.16 202.82 L659.76 202.87 L660.36 202.91 L660.97 202.95 L661.57 202.97 L662.17 202.98 L662.78 202.98 L663.38 202.98 L663.99 202.97 L664.59 202.94 L665.19 202.9 L665.8 202.83 L666.4 202.73 L667 202.59 L667.61 202.38 L668.21 202.1 L668.81 201.72 L669.42 201.22 L670.02 200.56 L670.63 199.75 L671.23 198.7 L671.83 197.37 L672.44 195.7 L673.04 193.62 L673.64 191.07 L674.25 187.97 L674.85 184.25 L675.45 179.84 L676.06 174.67 L676.66 168.69 L677.27 161.86 L677.87 154.15 L678.47 145.56 L679.08 136.13 L679.68 125.9 L680.28 114.91 L680.89 103.41 L681.49 91.52 L682.09 79.45 L682.7 67.43 L683.3 55.74 L683.91 44.65 L684.51 34.45 L685.11 25.46 L685.72 17.94 L686.32 12.16 L686.92 8.35 L687.53 6.69 L688.13 7.28 L688.73 10.19 L689.34 15.39 L689.94 22.76 L690.55 32.13 L691.15 43.23 L691.75 55.78 L692.36 69.43 L692.96 83.82 L693.56 98.62 L694.17 113.51 L694.77 128.21 L695.37 142.46 L695.98 156.07 L696.58 168.89 L697.19 180.79 L697.79 191.69 L698.39 201.55 L699 210.38 L699.6 218.18 L700.2 225.1 L700.81 231.07 L701.41 236.19 L702.01 240.52 L702.62 244.16 L703.22 247.17 L703.83 249.63 L704.43 251.63 L705.03 253.22 L705.64 254.47 L706.24 255.43 L706.84 256.17 L707.45 256.72 L708.05 257.11 L708.66 257.39 L709.26 257.58 L709.86 257.7 L710.47 257.77 L711.07 257.8 L711.67 257.81 L712.28 257.81 L712.88 257.8 L713.48 257.79 L714.09 257.78 L714.69 257.78 L715.3 257.79 L715.9 257.81 L716.5 257.84 L717.11 257.87 L717.71 257.92 L718.31 257.98 L718.92 258.04 L719.52 258.11 L720.12 258.18 L720.73 258.25 L721.33 258.32 L721.94 258.38 L722.54 258.44 L723.14 258.49 L723.75 258.53 L724.35 258.56 L724.95 258.57 L725.56 258.58 L726.16 258.57 L726.76 258.55 L727.37 258.52 L727.97 258.47 L728.58 258.42 L729.18 258.36 L729.78 258.3 L730.39 258.23 L730.99 258.16 L731.59 258.09 L732.2 258.02 L732.8 257.96 L733.4 257.91 L734.01 257.87 L734.61 257.84 L735.22 257.81 L735.82 257.81 L736.42 257.81 L737.03 257.83 L737.63 257.85 L738.23 257.89 L738.84 257.94 L739.44 258 L740.04 258.06 L740.65 258.13 L741.25 258.2 L741.86 258.27 L742.46 258.34 L743.06 258.4 L743.67 258.45 L744.27 258.5 L744.87 258.54 L745.48 258.56 L746.08 258.58 L746.68 258.58 L747.29 258.56 L747.89 258.54 L748.5 258.5 L749.1 258.46 L749.7 258.4 L750.31 258.34 L750.91 258.28 L751.51 258.21 L752.12 258.14 L752.72 258.07 L753.32 258.01 L753.93 257.95 L754.53 257.9 L755.14 257.86 L755.74 257.83 L756.34 257.81 L756.95 257.81 L757.55 257.81 L758.15 257.83 L758.76 257.86 L759.36 257.91 L759.97 257.96 L760.57 258.02 L761.17 258.08 L761.78 258.15 L762.38 258.22 L762.98 258.29 L763.59 258.36 L764.19 258.42 L764.79 258.47 L765.4 258.51 L766 258.55 L766.61 258.57 L767.21 258.58 L767.81 258.57 L768.42 258.56 L769.02 258.53 L769.62 258.49 L770.23 258.44 L770.83 258.39 L771.43 258.32 L772.04 258.26 L772.64 258.19 L773.25 258.12 L773.85 258.05 L774.45 257.99 L775.06 257.93 L775.66 257.88 L776.26 257.85 L776.87 257.82 L777.47 257.81 L778.07 257.81 L778.68 257.82 L779.28 257.84 L779.89 257.88 L780.49 257.92 L781.09 257.98 L781.7 258.04 L782.3 258.1" stroke="#78d0e0"/>
<path d="M583.7 196.98 L584.3 196.9 L584.91 196.82 L585.51 196.74 L586.11 196.67 L586.72 196.59 L587.32 196.53 L587.93 196.46 L588.53 196.4 L589.13 196.34 L589.74 196.28 L590.34 196.23 L590.94 196.17 L591.55 196.13 L592.15 196.08 L592.75 196.03 L593.36 195.99 L593.96 195.95 L594.57 195.91 L595.17 195.88 L595.77 195.84 L596.38 195.81 L596.98 195.78 L597.58 195.75 L598.19 195.72 L598.79 195.7 L599.39 195.68 L600 195.67 L600.6 195.67 L601.21 195.67 L601.81 195.68 L602.41 195.7 L603.02 195.72 L603.62 195.74 L604.22 195.77 L604.83 195.8 L605.43 195.83 L606.03 195.87 L606.64 195.91 L607.24 195.95 L607.85 196 L608.45 196.04 L609.05 196.09 L609.66 196.14 L610.26 196.19 L610.86 196.24 L611.47 196.29 L612.07 196.34 L612.68 196.39 L613.28 196.45 L613.88 196.51 L614.49 196.58 L615.09 196.65 L615.69 196.73 L616.3 196.81 L616.9 196.89 L617.5 196.98 L618.11 197.07 L618.71 197.16 L619.32 197.26 L619.92 197.35 L620.52 197.46 L621.13 197.56 L621.73 197.66 L622.33 197.76 L622.94 197.87 L623.54 197.98 L624.14 198.08 L624.75 198.19 L625.35 198.3 L625.96 198.4 L626.56 198.51 L627.16 198.61 L627.77 198.73 L628.37 198.84 L628.97 198.95 L629.58 199.07 L630.18 199.19 L630.78 199.31 L631.39 199.43 L631.99 199.55 L632.6 199.67 L633.2 199.79 L633.8 199.92 L634.41 200.04 L635.01 200.17 L635.61 200.29 L636.22 200.42 L636.82 200.54 L637.42 200.66 L638.03 200.79 L638.63 200.91 L639.24 201.03 L639.84 201.15 L640.44 201.27 L641.05 201.39 L641.65 201.51 L642.25 201.63 L642.86 201.75 L643.46 201.88 L644.06 202 L644.67 202.12 L645.27 202.24 L645.88 202.36 L646.48 202.48 L647.08 202.59 L647.69 202.71 L648.29 202.82 L648.89 202.93 L649.5 203.04 L650.1 203.15 L650.7 203.25 L651.31 203.35 L651.91 203.44 L652.52 203.53 L653.12 203.63 L653.72 203.73 L654.33 203.83 L654.93 203.92 L655.53 204.02 L656.14 204.11 L656.74 204.2 L657.34 204.29 L657.95 204.37 L658.55 204.45 L659.16 204.52 L659.76 204.58 L660.36 204.63 L660.97 204.67 L661.57 204.7 L662.17 204.71 L662.78 204.72 L663.38 204.73 L663.99 204.72 L664.59 204.7 L665.19 204.66 L665.8 204.6 L666.4 204.52 L667 204.39 L667.61 204.2 L668.21 203.95 L668.81 203.61 L669.42 203.16 L670.02 202.57 L670.63 201.84 L671.23 200.91 L671.83 199.71 L672.44 198.2 L673.04 196.32 L673.64 194 L674.25 191.17 L674.85 187.76 L675.45 183.69 L676.06 178.9 L676.66 173.33 L677.27 166.92 L677.87 159.65 L678.47 151.5 L679.08 142.49 L679.68 132.66 L680.28 121.35 L680.89 110.16 L681.49 98.49 L682.09 86.54 L682.7 74.52 L683.3 62.68 L683.91 51.3 L684.51 40.67 L685.11 31.09 L685.72 22.83 L686.32 16.18 L686.92 11.39 L687.53 8.64 L688.13 8.09 L688.73 9.83 L689.34 13.87 L689.94 20.13 L690.55 28.48 L691.15 38.69 L691.75 50.49 L692.36 63.56 L692.96 77.54 L693.56 92.1 L694.17 106.9 L694.77 121.65 L695.37 136.07 L695.98 149.95 L696.58 163.11 L697.19 175.41 L697.79 186.76 L698.39 197.09 L699 206.38 L699.6 214.64 L700.2 222.1 L700.81 228.48 L701.41 233.96 L702.01 238.64 L702.62 242.57 L703.22 245.85 L703.83 248.54 L704.43 250.72 L705.03 252.47 L705.64 253.85 L706.24 254.93 L706.84 255.75 L707.45 256.37 L708.05 256.82 L708.66 257.15 L709.26 257.37 L709.86 257.52 L710.47 257.62 L711.07 257.68 L711.67 257.71 L712.28 257.73 L712.88 257.74 L713.48 257.75 L714.09 257.76 L714.69 257.78 L715.3 257.81 L715.9 257.84 L716.5 257.89 L717.11 257.94 L717.71 258 L718.31 258.06 L718.92 258.13 L719.52 258.2 L720.12 258.27 L720.73 258.34 L721.33 258.4 L721.94 258.46 L722.54 258.5 L723.14 258.54 L723.75 258.56 L724.35 258.58 L724.95 258.58 L725.56 258.56 L726.16 258.54 L726.76 258.5 L727.37 258.46 L727.97 258.4 L728.58 258.34 L729.18 258.27 L729.78 258.2 L730.39 258.13 L730.99 258.07 L731.59 258 L732.2 257.94 L732.8 257.89 L733.4 257.86 L734.01 257.83 L734.61 257.81 L735.22 257.81 L735.82 257.81 L736.42 257.83 L737.03 257.87 L737.63 257.91 L738.23 257.96 L738.84 258.02 L739.44 258.09 L740.04 258.16 L740.65 258.23 L741.25 258.29 L741.86 258.36 L742.46 258.42 L743.06 258.47 L743.67 258.52 L744.27 258.55 L744.87 258.57 L745.48 258.58 L746.08 258.57 L746.68 258.56 L747.29 258.53 L747.89 258.49 L748.5 258.44 L749.1 258.38 L749.7 258.32 L750.31 258.25 L750.91 258.18 L751.51 258.11 L752.12 258.05 L752.72 257.98 L753.32 257.93 L753.93 257.88 L754.53 257.85 L755.14 257.82 L755.74 257.81 L756.34 257.81 L756.95 257.82 L757.55 257.84 L758.15 257.88 L758.76 257.93 L759.36 257.98 L759.97 258.04 L760.57 258.11 L761.17 258.18 L761.78 258.25 L762.38 258.31 L762.98 258.38 L763.59 258.44 L764.19 258.49 L764.79 258.53 L765.4 258.56 L766 258.57 L766.61 258.58 L767.21 258.57 L767.81 258.55 L768.42 258.52 L769.02 258.48 L769.62 258.42 L770.23 258.36 L770.83 258.3 L771.43 258.23 L772.04 258.16 L772.64 258.09 L773.25 258.03 L773.85 257.97 L774.45 257.91 L775.06 257.87 L775.66 257.84 L776.26 257.81 L776.87 257.81 L777.47 257.81 L778.07 257.83 L778.68 257.85 L779.28 257.89 L779.89 257.94 L780.49 258 L781.09 258.06 L781.7 258.13 L782.3 258.2" stroke="#90d068"/>
<path d="M583.7 195.94 L584.3 195.88 L584.91 195.83 L585.51 195.79 L586.11 195.74 L586.72 195.71 L587.32 195.68 L587.93 195.65 L588.53 195.63 L589.13 195.61 L589.74 195.59 L590.34 195.58 L590.94 195.58 L591.55 195.57 L592.15 195.57 L592.75 195.57 L593.36 195.58 L593.96 195.59 L594.57 195.6 L595.17 195.62 L595.77 195.63 L596.38 195.65 L596.98 195.67 L597.58 195.7 L598.19 195.72 L598.79 195.75 L599.39 195.79 L600 195.84 L600.6 195.89 L601.21 195.95 L601.81 196.01 L602.41 196.08 L603.02 196.15 L603.62 196.23 L604.22 196.31 L604.83 196.39 L605.43 196.48 L606.03 196.57 L606.64 196.66 L607.24 196.76 L607.85 196.85 L608.45 196.95 L609.05 197.04 L609.66 197.14 L610.26 197.23 L610.86 197.33 L611.47 197.42 L612.07 197.51 L612.68 197.61 L613.28 197.7 L613.88 197.81 L614.49 197.91 L615.09 198.02 L615.69 198.13 L616.3 198.24 L616.9 198.36 L617.5 198.48 L618.11 198.59 L618.71 198.71 L619.32 198.83 L619.92 198.96 L620.52 199.08 L621.13 199.2 L621.73 199.32 L622.33 199.44 L622.94 199.56 L623.54 199.68 L624.14 199.79 L624.75 199.91 L625.35 200.02 L625.96 200.13 L626.56 200.24 L627.16 200.35 L627.77 200.45 L628.37 200.56 L628.97 200.67 L629.58 200.78 L630.18 200.89 L630.78 201 L631.39 201.1 L631.99 201.21 L632.6 201.32 L633.2 201.42 L633.8 201.52 L634.41 201.63 L635.01 201.73 L635.61 201.82 L636.22 201.92 L636.82 202.01 L637.42 202.11 L638.03 202.2 L638.63 202.28 L639.24 202.37 L639.84 202.45 L640.44 202.53 L641.05 202.61 L641.65 202.69 L642.25 202.77 L642.86 202.85 L643.46 202.93 L644.06 203 L644.67 203.08 L645.27 203.15 L645.88 203.22 L646.48 203.29 L647.08 203.35 L647.69 203.42 L648.29 203.48 L648.89 203.54 L649.5 203.59 L650.1 203.64 L650.7 203.69 L651.31 203.74 L651.91 203.78 L652.52 203.82 L653.12 203.86 L653.72 203.9 L654.33 203.95 L654.93 203.99 L655.53 204.03 L656.14 204.07 L656.74 204.11 L657.34 204.14 L657.95 204.17 L658.55 204.2 L659.16 204.22 L659.76 204.23 L660.36 204.23 L660.97 204.22 L661.57 204.2 L662.17 204.17 L662.78 204.13 L663.38 204.09 L663.99 204.04 L664.59 203.97 L665.19 203.9 L665.8 203.79 L666.4 203.66 L667 203.49 L667.61 203.26 L668.21 202.96 L668.81 202.57 L669.42 202.06 L670.02 201.4 L670.63 200.6 L671.23 199.57 L671.83 198.27 L672.44 196.64 L673.04 194.6 L673.64 192.1 L674.25 189.05 L674.85 185.39 L675.45 181.03 L676.06 175.91 L676.66 169.96 L677.27 163.14 L677.87 155.41 L678.47 146.79 L679.08 137.27 L679.68 126.93 L680.28 116.62 L680.89 104.95 L681.49 92.86 L682.09 80.54 L682.7 68.25 L683.3 56.26 L683.91 44.85 L684.51 34.35 L685.11 25.06 L685.72 17.27 L686.32 11.25 L686.92 7.25 L687.53 5.44 L688.13 5.96 L688.73 8.85 L689.34 14.08 L689.94 21.55 L690.55 31.07 L691.15 42.37 L691.75 55.14 L692.36 69.04 L692.96 83.69 L693.56 98.75 L694.17 113.89 L694.77 128.81 L695.37 143.26 L695.98 157.03 L696.58 169.97 L697.19 181.96 L697.79 192.91 L698.39 202.79 L699 211.6 L699.6 219.35 L700.2 225.73 L700.81 231.54 L701.41 236.51 L702.01 240.71 L702.62 244.23 L703.22 247.15 L703.83 249.55 L704.43 251.51 L705.03 253.09 L705.64 254.35 L706.24 255.36 L706.84 256.15 L707.45 256.77 L708.05 257.25 L708.66 257.62 L709.26 257.9 L709.86 258.11 L710.47 258.26 L711.07 258.37 L711.67 258.43 L712.28 258.46 L712.88 258.47 L713.48 258.46 L714.09 258.43 L714.69 258.39 L715.3 258.33 L715.9 258.27 L716.5 258.2 L717.11 258.14 L717.71 258.07 L718.31 258.01 L718.92 257.95 L719.52 257.9 L720.12 257.86 L720.73 257.83 L721.33 257.81 L721.94 257.81 L722.54 257.81 L723.14 257.83 L723.75 257.86 L724.35 257.9 L724.95 257.96 L725.56 258.01 L726.16 258.08 L726.76 258.15 L727.37 258.22 L727.97 258.29 L728.58 258.35 L729.18 258.41 L729.78 258.47 L730.39 258.51 L730.99 258.54 L731.59 258.57 L732.2 258.58 L732.8 258.57 L733.4 258.56 L734.01 258.53 L734.61 258.49 L735.22 258.45 L735.82 258.39 L736.42 258.33 L737.03 258.26 L737.63 258.19 L738.23 258.12 L738.84 258.05 L739.44 257.99 L740.04 257.93 L740.65 257.89 L741.25 257.85 L741.86 257.82 L742.46 257.81 L743.06 257.81 L743.67 257.82 L744.27 257.84 L744.87 257.87 L745.48 257.92 L746.08 257.97 L746.68 258.03 L747.29 258.1 L747.89 258.17 L748.5 258.24 L749.1 258.31 L749.7 258.37 L750.31 258.43 L750.91 258.48 L751.51 258.52 L752.12 258.55 L752.72 258.57 L753.32 258.58 L753.93 258.57 L754.53 258.55 L755.14 258.52 L755.74 258.48 L756.34 258.43 L756.95 258.37 L757.55 258.31 L758.15 258.24 L758.76 258.17 L759.36 258.1 L759.97 258.03 L760.57 257.97 L761.17 257.92 L761.78 257.87 L762.38 257.84 L762.98 257.82 L763.59 257.81 L764.19 257.81 L764.79 257.82 L765.4 257.85 L766 257.89 L766.61 257.93 L767.21 257.99 L767.81 258.05 L768.42 258.12 L769.02 258.19 L769.62 258.26 L770.23 258.33 L770.83 258.39 L771.43 258.45 L772.04 258.49 L772.64 258.53 L773.25 258.56 L773.85 258.57 L774.45 258.58 L775.06 258.57 L775.66 258.54 L776.26 258.51 L776.87 258.47 L777.47 258.41 L778.07 258.35 L778.68 258.29 L779.28 258.22 L779.89 258.15 L780.49 258.08 L781.09 258.01 L781.7 257.96 L782.3 257.9" stroke="#60c8d8"/>
<path d="M583.7 197.5 L584.3 197.41 L584.91 197.33 L585.51 197.25 L586.11 197.17 L586.72 197.1 L587.32 197.03 L587.93 196.96 L588.53 196.9 L589.13 196.83 L589.74 196.78 L590.34 196.72 L590.94 196.67 L591.55 196.62 L592.15 196.57 L592.75 196.52 L593.36 196.48 L593.96 196.44 L594.57 196.4 L595.17 196.36 L595.77 196.33 L596.38 196.29 L596.98 196.26 L597.58 196.23 L598.19 196.21 L598.79 196.19 L599.39 196.17 L600 196.17 L600.6 196.16 L601.21 196.17 L601.81 196.18 L602.41 196.2 L603.02 196.22 L603.62 196.24 L604.22 196.27 L604.83 196.31 L605.43 196.34 L606.03 196.38 L606.64 196.43 L607.24 196.47 L607.85 196.52 L608.45 196.57 L609.05 196.62 L609.66 196.67 L610.26 196.73 L610.86 196.78 L611.47 196.83 L612.07 196.89 L612.68 196.94 L613.28 197 L613.88 197.07 L614.49 197.14 L615.09 197.22 L615.69 197.3 L616.3 197.38 L616.9 197.47 L617.5 197.56 L618.11 197.66 L618.71 197.76 L619.32 197.86 L619.92 197.96 L620.52 198.07 L621.13 198.17 L621.73 198.28 L622.33 198.39 L622.94 198.5 L623.54 198.61 L624.14 198.72 L624.75 198.83 L625.35 198.94 L625.96 199.05 L626.56 199.16 L627.16 199.28 L627.77 199.39 L628.37 199.51 L628.97 199.63 L629.58 199.75 L630.18 199.87 L630.78 199.99 L631.39 200.12 L631.99 200.24 L632.6 200.37 L633.2 200.5 L633.8 200.63 L634.41 200.75 L635.01 200.88 L635.61 201.01 L636.22 201.14 L636.82 201.26 L637.42 201.39 L638.03 201.51 L638.63 201.64 L639.24 201.76 L639.84 201.88 L640.44 202.01 L641.05 202.13 L641.65 202.25 L642.25 202.37 L642.86 202.5 L643.46 202.62 L644.06 202.74 L644.67 202.87 L645.27 202.99 L645.88 203.11 L646.48 203.23 L647.08 203.34 L647.69 203.46 L648.29 203.57 L648.89 203.68 L649.5 203.79 L650.1 203.89 L650.7 203.99 L651.31 204.09 L651.91 204.19 L652.52 204.28 L653.12 204.37 L653.72 204.47 L654.33 204.56 L654.93 204.66 L655.53 204.75 L656.14 204.85 L656.74 204.93 L657.34 205.02 L657.95 205.1 L658.55 205.17 L659.16 205.24 L659.76 205.29 L660.36 205.34 L660.97 205.38 L661.57 205.4 L662.17 205.41 L662.78 205.42 L663.38 205.42 L663.99 205.4 L664.59 205.38 L665.19 205.33 L665.8 205.26 L666.4 205.15 L667 205 L667.61 204.8 L668.21 204.51 L668.81 204.13 L669.42 203.62 L670.02 202.95 L670.63 202.13 L671.23 201.08 L671.83 199.73 L672.44 198.04 L673.04 195.93 L673.64 193.33 L674.25 190.17 L674.85 186.37 L675.45 181.85 L676.06 176.56 L676.66 170.42 L677.27 163.39 L677.87 155.44 L678.47 146.58 L679.08 136.83 L679.68 126.26 L680.28 114.28 L680.89 102.42 L681.49 90.15 L682.09 77.71 L682.7 65.32 L683.3 53.29 L683.91 41.91 L684.51 31.48 L685.11 22.31 L685.72 14.71 L686.32 8.94 L686.92 5.23 L687.53 4.6 L688.13 4.64 L688.73 7.91 L689.34 13.53 L689.94 21.38 L690.55 31.25 L691.15 42.87 L691.75 55.92 L692.36 70.04 L692.96 84.87 L693.56 100.06 L694.17 115.28 L694.77 130.24 L695.37 144.69 L695.98 158.44 L696.58 171.32 L697.19 183.23 L697.79 194.09 L698.39 203.87 L699 212.57 L699.6 220.22 L700.2 227.26 L700.81 232.98 L701.41 237.83 L702.01 241.91 L702.62 245.29 L703.22 248.05 L703.83 250.29 L704.43 252.07 L705.03 253.48 L705.64 254.57 L706.24 255.41 L706.84 256.04 L707.45 256.51 L708.05 256.85 L708.66 257.1 L709.26 257.29 L709.86 257.42 L710.47 257.53 L711.07 257.61 L711.67 257.68 L712.28 257.74 L712.88 257.8 L713.48 257.87 L714.09 257.93 L714.69 258 L715.3 258.08 L715.9 258.15 L716.5 258.22 L717.11 258.29 L717.71 258.36 L718.31 258.42 L718.92 258.47 L719.52 258.52 L720.12 258.55 L720.73 258.57 L721.33 258.58 L721.94 258.57 L722.54 258.56 L723.14 258.53 L723.75 258.49 L724.35 258.44 L724.95 258.38 L725.56 258.32 L726.16 258.25 L726.76 258.18 L727.37 258.11 L727.97 258.04 L728.58 257.98 L729.18 257.93 L729.78 257.88 L730.39 257.84 L730.99 257.82 L731.59 257.81 L732.2 257.81 L732.8 257.82 L733.4 257.84 L734.01 257.88 L734.61 257.93 L735.22 257.98 L735.82 258.04 L736.42 258.11 L737.03 258.18 L737.63 258.25 L738.23 258.32 L738.84 258.38 L739.44 258.44 L740.04 258.49 L740.65 258.53 L741.25 258.56 L741.86 258.57 L742.46 258.58 L743.06 258.57 L743.67 258.55 L744.27 258.52 L744.87 258.47 L745.48 258.42 L746.08 258.36 L746.68 258.3 L747.29 258.23 L747.89 258.16 L748.5 258.09 L749.1 258.02 L749.7 257.96 L750.31 257.91 L750.91 257.87 L751.51 257.84 L752.12 257.81 L752.72 257.81 L753.32 257.81 L753.93 257.83 L754.53 257.85 L755.14 257.89 L755.74 257.94 L756.34 258 L756.95 258.06 L757.55 258.13 L758.15 258.2 L758.76 258.27 L759.36 258.34 L759.97 258.4 L760.57 258.45 L761.17 258.5 L761.78 258.54 L762.38 258.56 L762.98 258.58 L763.59 258.58 L764.19 258.56 L764.79 258.54 L765.4 258.5 L766 258.46 L766.61 258.4 L767.21 258.34 L767.81 258.28 L768.42 258.21 L769.02 258.14 L769.62 258.07 L770.23 258.01 L770.83 257.95 L771.43 257.9 L772.04 257.86 L772.64 257.83 L773.25 257.81 L773.85 257.81 L774.45 257.81 L775.06 257.83 L775.66 257.86 L776.26 257.91 L776.87 257.96 L777.47 258.02 L778.07 258.08 L778.68 258.15 L779.28 258.22 L779.89 258.29 L780.49 258.36 L781.09 258.42 L781.7 258.47 L782.3 258.51" stroke="#3fb4b8"/>
<path d="M583.7 198.53 L584.3 198.48 L584.91 198.43 L585.51 198.38 L586.11 198.34 L586.72 198.3 L587.32 198.26 L587.93 198.22 L588.53 198.19 L589.13 198.16 L589.74 198.13 L590.34 198.1 L590.94 198.08 L591.55 198.05 L592.15 198.03 L592.75 198.01 L593.36 197.99 L593.96 197.97 L594.57 197.96 L595.17 197.94 L595.77 197.93 L596.38 197.92 L596.98 197.9 L597.58 197.89 L598.19 197.88 L598.79 197.87 L599.39 197.87 L600 197.88 L600.6 197.89 L601.21 197.9 L601.81 197.92 L602.41 197.94 L603.02 197.97 L603.62 198 L604.22 198.04 L604.83 198.07 L605.43 198.11 L606.03 198.15 L606.64 198.19 L607.24 198.23 L607.85 198.28 L608.45 198.32 L609.05 198.37 L609.66 198.41 L610.26 198.45 L610.86 198.5 L611.47 198.54 L612.07 198.58 L612.68 198.62 L613.28 198.66 L613.88 198.71 L614.49 198.77 L615.09 198.83 L615.69 198.89 L616.3 198.95 L616.9 199.02 L617.5 199.08 L618.11 199.15 L618.71 199.23 L619.32 199.3 L619.92 199.38 L620.52 199.45 L621.13 199.53 L621.73 199.61 L622.33 199.69 L622.94 199.77 L623.54 199.85 L624.14 199.93 L624.75 200.01 L625.35 200.08 L625.96 200.16 L626.56 200.24 L627.16 200.32 L627.77 200.4 L628.37 200.48 L628.97 200.56 L629.58 200.65 L630.18 200.73 L630.78 200.82 L631.39 200.91 L631.99 201 L632.6 201.09 L633.2 201.18 L633.8 201.27 L634.41 201.36 L635.01 201.46 L635.61 201.55 L636.22 201.64 L636.82 201.73 L637.42 201.83 L638.03 201.92 L638.63 202.01 L639.24 202.1 L639.84 202.19 L640.44 202.28 L641.05 202.37 L641.65 202.46 L642.25 202.56 L642.86 202.65 L643.46 202.75 L644.06 202.84 L644.67 202.94 L645.27 203.04 L645.88 203.13 L646.48 203.23 L647.08 203.32 L647.69 203.42 L648.29 203.51 L648.89 203.6 L649.5 203.69 L650.1 203.78 L650.7 203.86 L651.31 203.95 L651.91 204.03 L652.52 204.11 L653.12 204.19 L653.72 204.28 L654.33 204.36 L654.93 204.45 L655.53 204.54 L656.14 204.63 L656.74 204.71 L657.34 204.8 L657.95 204.88 L658.55 204.95 L659.16 205.02 L659.76 205.08 L660.36 205.13 L660.97 205.17 L661.57 205.21 L662.17 205.23 L662.78 205.24 L663.38 205.25 L663.99 205.25 L664.59 205.24 L665.19 205.21 L665.8 205.16 L666.4 205.08 L667 204.96 L667.61 204.78 L668.21 204.53 L668.81 204.19 L669.42 203.72 L670.02 203.11 L670.63 202.35 L671.23 201.37 L671.83 200.11 L672.44 198.51 L673.04 196.51 L673.64 194.04 L674.25 191.02 L674.85 187.38 L675.45 183.04 L676.06 177.93 L676.66 171.99 L677.27 165.17 L677.87 157.45 L678.47 148.81 L679.08 139.28 L679.68 128.92 L680.28 117.36 L680.89 105.63 L681.49 93.48 L682.09 81.1 L682.7 68.74 L683.3 56.68 L683.91 45.21 L684.51 34.64 L685.11 25.28 L685.72 17.43 L686.32 11.35 L686.92 7.29 L687.53 5.43 L688.13 5.9 L688.73 8.74 L689.34 13.93 L689.94 21.36 L690.55 30.83 L691.15 42.1 L691.75 54.85 L692.36 68.72 L692.96 83.36 L693.56 98.42 L694.17 113.56 L694.77 128.49 L695.37 142.96 L695.98 156.75 L696.58 169.72 L697.19 181.73 L697.79 192.71 L698.39 202.61 L699 211.44 L699.6 219.22 L700.2 226.03 L700.81 231.94 L701.41 236.98 L702.01 241.24 L702.62 244.8 L703.22 247.74 L703.83 250.13 L704.43 252.06 L705.03 253.59 L705.64 254.79 L706.24 255.71 L706.84 256.41 L707.45 256.93 L708.05 257.3 L708.66 257.56 L709.26 257.73 L709.86 257.83 L710.47 257.89 L711.07 257.91 L711.67 257.9 L712.28 257.89 L712.88 257.86 L713.48 257.84 L714.09 257.81 L714.69 257.8 L715.3 257.79 L715.9 257.8 L716.5 257.81 L717.11 257.84 L717.71 257.87 L718.31 257.92 L718.92 257.97 L719.52 258.04 L720.12 258.1 L720.73 258.17 L721.33 258.24 L721.94 258.31 L722.54 258.37 L723.14 258.43 L723.75 258.48 L724.35 258.52 L724.95 258.55 L725.56 258.57 L726.16 258.58 L726.76 258.57 L727.37 258.55 L727.97 258.52 L728.58 258.48 L729.18 258.43 L729.78 258.37 L730.39 258.3 L730.99 258.23 L731.59 258.16 L732.2 258.1 L732.8 258.03 L733.4 257.97 L734.01 257.92 L734.61 257.87 L735.22 257.84 L735.82 257.82 L736.42 257.81 L737.03 257.81 L737.63 257.82 L738.23 257.85 L738.84 257.89 L739.44 257.94 L740.04 257.99 L740.65 258.06 L741.25 258.12 L741.86 258.19 L742.46 258.26 L743.06 258.33 L743.67 258.39 L744.27 258.45 L744.87 258.5 L745.48 258.53 L746.08 258.56 L746.68 258.58 L747.29 258.58 L747.89 258.57 L748.5 258.54 L749.1 258.51 L749.7 258.46 L750.31 258.41 L750.91 258.35 L751.51 258.28 L752.12 258.21 L752.72 258.14 L753.32 258.07 L753.93 258.01 L754.53 257.95 L755.14 257.9 L755.74 257.86 L756.34 257.83 L756.95 257.81 L757.55 257.81 L758.15 257.81 L758.76 257.83 L759.36 257.86 L759.97 257.9 L760.57 257.95 L761.17 258.01 L761.78 258.08 L762.38 258.15 L762.98 258.22 L763.59 258.28 L764.19 258.35 L764.79 258.41 L765.4 258.46 L766 258.51 L766.61 258.54 L767.21 258.57 L767.81 258.58 L768.42 258.57 L769.02 258.56 L769.62 258.53 L770.23 258.5 L770.83 258.45 L771.43 258.39 L772.04 258.33 L772.64 258.26 L773.25 258.19 L773.85 258.12 L774.45 258.05 L775.06 257.99 L775.66 257.94 L776.26 257.89 L776.87 257.85 L777.47 257.82 L778.07 257.81 L778.68 257.81 L779.28 257.82 L779.89 257.84 L780.49 257.87 L781.09 257.92 L781.7 257.97 L782.3 258.03" stroke="#48b870"/>
<path d="M583.7 197.45 L584.3 197.38 L584.91 197.32 L585.51 197.27 L586.11 197.22 L586.72 197.18 L587.32 197.14 L587.93 197.11 L588.53 197.08 L589.13 197.05 L589.74 197.03 L590.34 197.01 L590.94 197 L591.55 196.99 L592.15 196.98 L592.75 196.98 L593.36 196.98 L593.96 196.98 L594.57 196.99 L595.17 197 L595.77 197.01 L596.38 197.03 L596.98 197.04 L597.58 197.06 L598.19 197.08 L598.79 197.11 L599.39 197.15 L600 197.19 L600.6 197.24 L601.21 197.29 L601.81 197.35 L602.41 197.42 L603.02 197.49 L603.62 197.56 L604.22 197.64 L604.83 197.73 L605.43 197.81 L606.03 197.9 L606.64 197.99 L607.24 198.09 L607.85 198.18 L608.45 198.28 L609.05 198.37 L609.66 198.47 L610.26 198.57 L610.86 198.66 L611.47 198.76 L612.07 198.85 L612.68 198.95 L613.28 199.05 L613.88 199.15 L614.49 199.26 L615.09 199.37 L615.69 199.49 L616.3 199.61 L616.9 199.73 L617.5 199.85 L618.11 199.97 L618.71 200.09 L619.32 200.22 L619.92 200.35 L620.52 200.47 L621.13 200.6 L621.73 200.73 L622.33 200.85 L622.94 200.98 L623.54 201.1 L624.14 201.23 L624.75 201.35 L625.35 201.47 L625.96 201.58 L626.56 201.7 L627.16 201.81 L627.77 201.93 L628.37 202.05 L628.97 202.16 L629.58 202.28 L630.18 202.39 L630.78 202.51 L631.39 202.63 L631.99 202.74 L632.6 202.85 L633.2 202.96 L633.8 203.07 L634.41 203.18 L635.01 203.29 L635.61 203.4 L636.22 203.5 L636.82 203.6 L637.42 203.7 L638.03 203.8 L638.63 203.9 L639.24 203.99 L639.84 204.08 L640.44 204.17 L641.05 204.25 L641.65 204.34 L642.25 204.43 L642.86 204.51 L643.46 204.59 L644.06 204.68 L644.67 204.76 L645.27 204.83 L645.88 204.91 L646.48 204.98 L647.08 205.06 L647.69 205.13 L648.29 205.19 L648.89 205.25 L649.5 205.31 L650.1 205.37 L650.7 205.42 L651.31 205.47 L651.91 205.52 L652.52 205.56 L653.12 205.6 L653.72 205.65 L654.33 205.69 L654.93 205.74 L655.53 205.78 L656.14 205.83 L656.74 205.87 L657.34 205.9 L657.95 205.93 L658.55 205.96 L659.16 205.97 L659.76 205.98 L660.36 205.99 L660.97 205.98 L661.57 205.96 L662.17 205.93 L662.78 205.89 L663.38 205.85 L663.99 205.81 L664.59 205.75 L665.19 205.68 L665.8 205.59 L666.4 205.48 L667 205.33 L667.61 205.13 L668.21 204.87 L668.81 204.54 L669.42 204.1 L670.02 203.53 L670.63 202.84 L671.23 201.95 L671.83 200.81 L672.44 199.36 L673.04 197.55 L673.64 195.3 L674.25 192.53 L674.85 189.18 L675.45 185.15 L676.06 180.37 L676.66 174.78 L677.27 168.31 L677.87 160.92 L678.47 152.6 L679.08 143.34 L679.68 133.2 L680.28 122.94 L680.89 111.3 L681.49 99.13 L682.09 86.62 L682.7 74.02 L683.3 61.6 L683.91 49.64 L684.51 38.48 L685.11 28.43 L685.72 19.8 L686.32 12.89 L686.92 7.97 L687.53 5.23 L688.13 4.83 L688.73 6.86 L689.34 11.32 L689.94 18.11 L690.55 27.07 L691.15 37.95 L691.75 50.45 L692.36 64.22 L692.96 78.88 L693.56 94.07 L694.17 109.43 L694.77 124.66 L695.37 139.47 L695.98 153.64 L696.58 166.99 L697.19 179.37 L697.79 190.72 L698.39 200.96 L699 210.1 L699.6 218.14 L700.2 225.14 L700.81 231.1 L701.41 236.18 L702.01 240.44 L702.62 243.99 L703.22 246.92 L703.83 249.31 L704.43 251.23 L705.03 252.77 L705.64 254 L706.24 254.96 L706.84 255.72 L707.45 256.32 L708.05 256.79 L708.66 257.16 L709.26 257.46 L709.86 257.69 L710.47 257.89 L711.07 258.04 L711.67 258.17 L712.28 258.28 L712.88 258.37 L713.48 258.44 L714.09 258.5 L714.69 258.54 L715.3 258.56 L715.9 258.57 L716.5 258.56 L717.11 258.54 L717.71 258.51 L718.31 258.47 L718.92 258.42 L719.52 258.36 L720.12 258.3 L720.73 258.23 L721.33 258.16 L721.94 258.09 L722.54 258.02 L723.14 257.96 L723.75 257.91 L724.35 257.87 L724.95 257.84 L725.56 257.81 L726.16 257.81 L726.76 257.81 L727.37 257.83 L727.97 257.85 L728.58 257.89 L729.18 257.94 L729.78 258 L730.39 258.06 L730.99 258.13 L731.59 258.2 L732.2 258.27 L732.8 258.34 L733.4 258.4 L734.01 258.45 L734.61 258.5 L735.22 258.54 L735.82 258.56 L736.42 258.58 L737.03 258.58 L737.63 258.56 L738.23 258.54 L738.84 258.5 L739.44 258.46 L740.04 258.4 L740.65 258.34 L741.25 258.28 L741.86 258.21 L742.46 258.14 L743.06 258.07 L743.67 258.01 L744.27 257.95 L744.87 257.9 L745.48 257.86 L746.08 257.83 L746.68 257.81 L747.29 257.81 L747.89 257.81 L748.5 257.83 L749.1 257.86 L749.7 257.91 L750.31 257.96 L750.91 258.02 L751.51 258.08 L752.12 258.15 L752.72 258.22 L753.32 258.29 L753.93 258.36 L754.53 258.42 L755.14 258.47 L755.74 258.51 L756.34 258.55 L756.95 258.57 L757.55 258.58 L758.15 258.57 L758.76 258.56 L759.36 258.53 L759.97 258.49 L760.57 258.44 L761.17 258.39 L761.78 258.32 L762.38 258.26 L762.98 258.19 L763.59 258.12 L764.19 258.05 L764.79 257.99 L765.4 257.93 L766 257.88 L766.61 257.85 L767.21 257.82 L767.81 257.81 L768.42 257.81 L769.02 257.82 L769.62 257.84 L770.23 257.88 L770.83 257.92 L771.43 257.98 L772.04 258.04 L772.64 258.1 L773.25 258.17 L773.85 258.24 L774.45 258.31 L775.06 258.37 L775.66 258.43 L776.26 258.48 L776.87 258.52 L777.47 258.55 L778.07 258.57 L778.68 258.58 L779.28 258.57 L779.89 258.55 L780.49 258.52 L781.09 258.48 L781.7 258.43 L782.3 258.37" stroke="#7fd04c"/>
<path d="M583.7 199.16 L584.3 199.11 L584.91 199.07 L585.51 199.03 L586.11 199 L586.72 198.96 L587.32 198.93 L587.93 198.91 L588.53 198.88 L589.13 198.86 L589.74 198.84 L590.34 198.82 L590.94 198.81 L591.55 198.79 L592.15 198.78 L592.75 198.77 L593.36 198.76 L593.96 198.75 L594.57 198.74 L595.17 198.74 L595.77 198.73 L596.38 198.73 L596.98 198.72 L597.58 198.72 L598.19 198.72 L598.79 198.72 L599.39 198.73 L600 198.74 L600.6 198.76 L601.21 198.79 L601.81 198.81 L602.41 198.85 L603.02 198.88 L603.62 198.92 L604.22 198.96 L604.83 199 L605.43 199.05 L606.03 199.09 L606.64 199.14 L607.24 199.19 L607.85 199.24 L608.45 199.29 L609.05 199.34 L609.66 199.39 L610.26 199.44 L610.86 199.49 L611.47 199.53 L612.07 199.58 L612.68 199.62 L613.28 199.67 L613.88 199.73 L614.49 199.78 L615.09 199.84 L615.69 199.91 L616.3 199.97 L616.9 200.04 L617.5 200.11 L618.11 200.18 L618.71 200.26 L619.32 200.33 L619.92 200.41 L620.52 200.49 L621.13 200.56 L621.73 200.64 L622.33 200.72 L622.94 200.8 L623.54 200.87 L624.14 200.95 L624.75 201.03 L625.35 201.1 L625.96 201.17 L626.56 201.25 L627.16 201.32 L627.77 201.4 L628.37 201.48 L628.97 201.55 L629.58 201.63 L630.18 201.72 L630.78 201.8 L631.39 201.88 L631.99 201.96 L632.6 202.05 L633.2 202.13 L633.8 202.22 L634.41 202.3 L635.01 202.39 L635.61 202.47 L636.22 202.56 L636.82 202.64 L637.42 202.73 L638.03 202.81 L638.63 202.89 L639.24 202.98 L639.84 203.06 L640.44 203.14 L641.05 203.22 L641.65 203.3 L642.25 203.39 L642.86 203.47 L643.46 203.56 L644.06 203.65 L644.67 203.73 L645.27 203.82 L645.88 203.91 L646.48 203.99 L647.08 204.08 L647.69 204.16 L648.29 204.25 L648.89 204.33 L649.5 204.41 L650.1 204.49 L650.7 204.56 L651.31 204.64 L651.91 204.71 L652.52 204.78 L653.12 204.86 L653.72 204.94 L654.33 205.02 L654.93 205.1 L655.53 205.18 L656.14 205.26 L656.74 205.33 L657.34 205.41 L657.95 205.48 L658.55 205.55 L659.16 205.61 L659.76 205.66 L660.36 205.71 L660.97 205.75 L661.57 205.78 L662.17 205.79 L662.78 205.81 L663.38 205.81 L663.99 205.82 L664.59 205.81 L665.19 205.79 L665.8 205.75 L666.4 205.68 L667 205.58 L667.61 205.44 L668.21 205.24 L668.81 204.95 L669.42 204.57 L670.02 204.06 L670.63 203.43 L671.23 202.61 L671.83 201.55 L672.44 200.2 L673.04 198.49 L673.64 196.36 L674.25 193.73 L674.85 190.54 L675.45 186.71 L676.06 182.16 L676.66 176.83 L677.27 170.66 L677.87 163.61 L678.47 155.65 L679.08 146.79 L679.68 137.07 L680.28 126.31 L680.89 115.07 L681.49 103.29 L682.09 91.14 L682.7 78.85 L683.3 66.67 L683.91 54.88 L684.51 43.78 L685.11 33.68 L685.72 24.87 L686.32 17.65 L686.92 12.27 L687.53 8.96 L688.13 7.87 L688.73 9.11 L689.34 12.71 L689.94 18.6 L690.55 26.65 L691.15 36.66 L691.75 48.34 L692.36 61.37 L692.96 75.4 L693.56 90.06 L694.17 105.03 L694.77 119.98 L695.37 134.64 L695.98 148.76 L696.58 162.16 L697.19 174.69 L697.79 186.24 L698.39 196.76 L699 206.21 L699.6 214.6 L700.2 222.21 L700.81 228.54 L701.41 233.97 L702.01 238.56 L702.62 242.41 L703.22 245.6 L703.83 248.21 L704.43 250.33 L705.03 252.03 L705.64 253.37 L706.24 254.43 L706.84 255.26 L707.45 255.91 L708.05 256.41 L708.66 256.8 L709.26 257.11 L709.86 257.35 L710.47 257.55 L711.07 257.72 L711.67 257.86 L712.28 257.98 L712.88 258.09 L713.48 258.19 L714.09 258.28 L714.69 258.35 L715.3 258.42 L715.9 258.48 L716.5 258.52 L717.11 258.55 L717.71 258.57 L718.31 258.57 L718.92 258.57 L719.52 258.55 L720.12 258.51 L720.73 258.47 L721.33 258.42 L721.94 258.36 L722.54 258.29 L723.14 258.23 L723.75 258.16 L724.35 258.09 L724.95 258.02 L725.56 257.96 L726.16 257.91 L726.76 257.87 L727.37 257.83 L727.97 257.81 L728.58 257.81 L729.18 257.81 L729.78 257.83 L730.39 257.85 L730.99 257.89 L731.59 257.94 L732.2 258 L732.8 258.06 L733.4 258.13 L734.01 258.2 L734.61 258.27 L735.22 258.34 L735.82 258.4 L736.42 258.46 L737.03 258.5 L737.63 258.54 L738.23 258.56 L738.84 258.58 L739.44 258.58 L740.04 258.56 L740.65 258.54 L741.25 258.5 L741.86 258.46 L742.46 258.4 L743.06 258.34 L743.67 258.27 L744.27 258.2 L744.87 258.14 L745.48 258.07 L746.08 258 L746.68 257.95 L747.29 257.9 L747.89 257.86 L748.5 257.83 L749.1 257.81 L749.7 257.81 L750.31 257.81 L750.91 257.83 L751.51 257.87 L752.12 257.91 L752.72 257.96 L753.32 258.02 L753.93 258.09 L754.53 258.15 L755.14 258.22 L755.74 258.29 L756.34 258.36 L756.95 258.42 L757.55 258.47 L758.15 258.51 L758.76 258.55 L759.36 258.57 L759.97 258.58 L760.57 258.57 L761.17 258.56 L761.78 258.53 L762.38 258.49 L762.98 258.44 L763.59 258.38 L764.19 258.32 L764.79 258.25 L765.4 258.18 L766 258.11 L766.61 258.05 L767.21 257.99 L767.81 257.93 L768.42 257.88 L769.02 257.85 L769.62 257.82 L770.23 257.81 L770.83 257.81 L771.43 257.82 L772.04 257.84 L772.64 257.88 L773.25 257.92 L773.85 257.98 L774.45 258.04 L775.06 258.11 L775.66 258.18 L776.26 258.24 L776.87 258.31 L777.47 258.38 L778.07 258.43 L778.68 258.48 L779.28 258.53 L779.89 258.55 L780.49 258.57 L781.09 258.58 L781.7 258.57 L782.3 258.55" stroke="#e0c83a"/>
<path d="M583.7 199.19 L584.3 199.1 L584.91 199.02 L585.51 198.93 L586.11 198.85 L586.72 198.77 L587.32 198.7 L587.93 198.63 L588.53 198.57 L589.13 198.5 L589.74 198.44 L590.34 198.39 L590.94 198.33 L591.55 198.28 L592.15 198.24 L592.75 198.19 L593.36 198.15 L593.96 198.11 L594.57 198.07 L595.17 198.04 L595.77 198.01 L596.38 197.98 L596.98 197.95 L597.58 197.92 L598.19 197.9 L598.79 197.88 L599.39 197.87 L600 197.87 L600.6 197.87 L601.21 197.88 L601.81 197.9 L602.41 197.92 L603.02 197.95 L603.62 197.98 L604.22 198.02 L604.83 198.06 L605.43 198.1 L606.03 198.15 L606.64 198.2 L607.24 198.26 L607.85 198.31 L608.45 198.37 L609.05 198.43 L609.66 198.49 L610.26 198.55 L610.86 198.61 L611.47 198.68 L612.07 198.74 L612.68 198.8 L613.28 198.87 L613.88 198.95 L614.49 199.03 L615.09 199.12 L615.69 199.21 L616.3 199.3 L616.9 199.4 L617.5 199.5 L618.11 199.6 L618.71 199.71 L619.32 199.82 L619.92 199.93 L620.52 200.05 L621.13 200.16 L621.73 200.28 L622.33 200.4 L622.94 200.52 L623.54 200.64 L624.14 200.76 L624.75 200.88 L625.35 201 L625.96 201.12 L626.56 201.24 L627.16 201.36 L627.77 201.48 L628.37 201.6 L628.97 201.73 L629.58 201.86 L630.18 201.99 L630.78 202.12 L631.39 202.25 L631.99 202.38 L632.6 202.51 L633.2 202.64 L633.8 202.78 L634.41 202.91 L635.01 203.04 L635.61 203.17 L636.22 203.31 L636.82 203.44 L637.42 203.57 L638.03 203.7 L638.63 203.82 L639.24 203.95 L639.84 204.07 L640.44 204.2 L641.05 204.32 L641.65 204.44 L642.25 204.57 L642.86 204.69 L643.46 204.81 L644.06 204.94 L644.67 205.06 L645.27 205.18 L645.88 205.3 L646.48 205.41 L647.08 205.53 L647.69 205.64 L648.29 205.75 L648.89 205.86 L649.5 205.96 L650.1 206.07 L650.7 206.16 L651.31 206.26 L651.91 206.35 L652.52 206.43 L653.12 206.52 L653.72 206.61 L654.33 206.7 L654.93 206.79 L655.53 206.88 L656.14 206.97 L656.74 207.05 L657.34 207.12 L657.95 207.2 L658.55 207.26 L659.16 207.32 L659.76 207.37 L660.36 207.41 L660.97 207.44 L661.57 207.46 L662.17 207.46 L662.78 207.46 L663.38 207.46 L663.99 207.44 L664.59 207.41 L665.19 207.37 L665.8 207.31 L666.4 207.21 L667 207.08 L667.61 206.9 L668.21 206.66 L668.81 206.33 L669.42 205.89 L670.02 205.31 L670.63 204.6 L671.23 203.68 L671.83 202.5 L672.44 201 L673.04 199.11 L673.64 196.77 L674.25 193.89 L674.85 190.41 L675.45 186.23 L676.06 181.28 L676.66 175.5 L677.27 168.82 L677.87 161.2 L678.47 152.64 L679.08 143.15 L679.68 132.76 L680.28 121.04 L680.89 109.19 L681.49 96.83 L682.09 84.17 L682.7 71.46 L683.3 58.97 L683.91 47.01 L684.51 35.89 L685.11 25.95 L685.72 17.49 L686.32 10.8 L686.92 6.14 L687.53 4.6 L688.13 4.6 L688.73 6.08 L689.34 10.91 L689.94 18.07 L690.55 27.38 L691.15 38.59 L691.75 51.36 L692.36 65.35 L692.96 80.19 L693.56 95.5 L694.17 110.95 L694.77 126.21 L695.37 141.01 L695.98 155.15 L696.58 168.43 L697.19 180.73 L697.79 191.98 L698.39 202.11 L699 211.13 L699.6 219.06 L700.2 225.57 L700.81 231.5 L701.41 236.56 L702.01 240.82 L702.62 244.38 L703.22 247.33 L703.83 249.74 L704.43 251.7 L705.03 253.28 L705.64 254.53 L706.24 255.52 L706.84 256.3 L707.45 256.9 L708.05 257.36 L708.66 257.72 L709.26 257.98 L709.86 258.17 L710.47 258.3 L711.07 258.38 L711.67 258.43 L712.28 258.45 L712.88 258.44 L713.48 258.42 L714.09 258.38 L714.69 258.33 L715.3 258.27 L715.9 258.2 L716.5 258.14 L717.11 258.07 L717.71 258.01 L718.31 257.95 L718.92 257.9 L719.52 257.86 L720.12 257.83 L720.73 257.81 L721.33 257.8 L721.94 257.81 L722.54 257.83 L723.14 257.86 L723.75 257.9 L724.35 257.95 L724.95 258.01 L725.56 258.08 L726.16 258.15 L726.76 258.22 L727.37 258.29 L727.97 258.35 L728.58 258.41 L729.18 258.47 L729.78 258.51 L730.39 258.54 L730.99 258.57 L731.59 258.58 L732.2 258.57 L732.8 258.56 L733.4 258.53 L734.01 258.5 L734.61 258.45 L735.22 258.39 L735.82 258.33 L736.42 258.26 L737.03 258.19 L737.63 258.12 L738.23 258.05 L738.84 257.99 L739.44 257.94 L740.04 257.89 L740.65 257.85 L741.25 257.82 L741.86 257.81 L742.46 257.81 L743.06 257.82 L743.67 257.84 L744.27 257.87 L744.87 257.92 L745.48 257.97 L746.08 258.03 L746.68 258.1 L747.29 258.17 L747.89 258.24 L748.5 258.31 L749.1 258.37 L749.7 258.43 L750.31 258.48 L750.91 258.52 L751.51 258.55 L752.12 258.57 L752.72 258.58 L753.32 258.57 L753.93 258.55 L754.53 258.52 L755.14 258.48 L755.74 258.43 L756.34 258.37 L756.95 258.31 L757.55 258.24 L758.15 258.17 L758.76 258.1 L759.36 258.03 L759.97 257.97 L760.57 257.92 L761.17 257.87 L761.78 257.84 L762.38 257.82 L762.98 257.81 L763.59 257.81 L764.19 257.82 L764.79 257.85 L765.4 257.89 L766 257.93 L766.61 257.99 L767.21 258.05 L767.81 258.12 L768.42 258.19 L769.02 258.26 L769.62 258.33 L770.23 258.39 L770.83 258.45 L771.43 258.49 L772.04 258.53 L772.64 258.56 L773.25 258.57 L773.85 258.58 L774.45 258.57 L775.06 258.54 L775.66 258.51 L776.26 258.47 L776.87 258.41 L777.47 258.35 L778.07 258.29 L778.68 258.22 L779.28 258.15 L779.89 258.08 L780.49 258.02 L781.09 257.96 L781.7 257.91 L782.3 257.86" stroke="#4ec43e"/>
<path d="M583.7 198.99 L584.3 198.93 L584.91 198.87 L585.51 198.82 L586.11 198.77 L586.72 198.73 L587.32 198.69 L587.93 198.66 L588.53 198.63 L589.13 198.61 L589.74 198.58 L590.34 198.57 L590.94 198.56 L591.55 198.55 L592.15 198.54 L592.75 198.54 L593.36 198.54 L593.96 198.54 L594.57 198.55 L595.17 198.56 L595.77 198.57 L596.38 198.59 L596.98 198.6 L597.58 198.62 L598.19 198.65 L598.79 198.68 L599.39 198.71 L600 198.75 L600.6 198.8 L601.21 198.86 L601.81 198.92 L602.41 198.99 L603.02 199.06 L603.62 199.13 L604.22 199.21 L604.83 199.29 L605.43 199.38 L606.03 199.47 L606.64 199.56 L607.24 199.66 L607.85 199.75 L608.45 199.85 L609.05 199.94 L609.66 200.04 L610.26 200.14 L610.86 200.23 L611.47 200.33 L612.07 200.42 L612.68 200.52 L613.28 200.62 L613.88 200.72 L614.49 200.83 L615.09 200.94 L615.69 201.06 L616.3 201.17 L616.9 201.29 L617.5 201.41 L618.11 201.54 L618.71 201.66 L619.32 201.78 L619.92 201.91 L620.52 202.04 L621.13 202.16 L621.73 202.29 L622.33 202.42 L622.94 202.54 L623.54 202.66 L624.14 202.79 L624.75 202.91 L625.35 203.02 L625.96 203.14 L626.56 203.25 L627.16 203.37 L627.77 203.49 L628.37 203.6 L628.97 203.72 L629.58 203.83 L630.18 203.95 L630.78 204.06 L631.39 204.18 L631.99 204.29 L632.6 204.4 L633.2 204.51 L633.8 204.62 L634.41 204.73 L635.01 204.84 L635.61 204.94 L636.22 205.05 L636.82 205.15 L637.42 205.25 L638.03 205.34 L638.63 205.44 L639.24 205.53 L639.84 205.62 L640.44 205.7 L641.05 205.79 L641.65 205.88 L642.25 205.96 L642.86 206.04 L643.46 206.13 L644.06 206.21 L644.67 206.29 L645.27 206.37 L645.88 206.44 L646.48 206.51 L647.08 206.59 L647.69 206.65 L648.29 206.72 L648.89 206.78 L649.5 206.84 L650.1 206.9 L650.7 206.95 L651.31 207 L651.91 207.04 L652.52 207.08 L653.12 207.13 L653.72 207.17 L654.33 207.22 L654.93 207.26 L655.53 207.31 L656.14 207.35 L656.74 207.39 L657.34 207.42 L657.95 207.45 L658.55 207.48 L659.16 207.5 L659.76 207.51 L660.36 207.51 L660.97 207.5 L661.57 207.48 L662.17 207.45 L662.78 207.42 L663.38 207.37 L663.99 207.33 L664.59 207.27 L665.19 207.2 L665.8 207.11 L666.4 207 L667 206.85 L667.61 206.65 L668.21 206.39 L668.81 206.06 L669.42 205.62 L670.02 205.05 L670.63 204.35 L671.23 203.46 L671.83 202.31 L672.44 200.86 L673.04 199.04 L673.64 196.78 L674.25 194 L674.85 190.63 L675.45 186.58 L676.06 181.79 L676.66 176.17 L677.27 169.67 L677.87 162.25 L678.47 153.88 L679.08 144.58 L679.68 134.39 L680.28 124.08 L680.89 112.39 L681.49 100.16 L682.09 87.58 L682.7 74.92 L683.3 62.42 L683.91 50.4 L684.51 39.16 L685.11 29.04 L685.72 20.34 L686.32 13.36 L686.92 8.36 L687.53 5.56 L688.13 5.1 L688.73 7.06 L689.34 11.45 L689.94 18.17 L690.55 27.07 L691.15 37.9 L691.75 50.35 L692.36 64.07 L692.96 78.7 L693.56 93.86 L694.17 109.21 L694.77 124.43 L695.37 139.24 L695.98 153.41 L696.58 166.77 L697.19 179.18 L697.79 190.54 L698.39 200.8 L699 209.96 L699.6 218.03 L700.2 225.03 L700.81 231.02 L701.41 236.1 L702.01 240.38 L702.62 243.95 L703.22 246.88 L703.83 249.28 L704.43 251.21 L705.03 252.76 L705.64 253.99 L706.24 254.96 L706.84 255.72 L707.45 256.32 L708.05 256.79 L708.66 257.16 L709.26 257.46 L709.86 257.7 L710.47 257.89 L711.07 258.05 L711.67 258.18 L712.28 258.29 L712.88 258.38 L713.48 258.45 L714.09 258.5 L714.69 258.54 L715.3 258.56 L715.9 258.57 L716.5 258.56 L717.11 258.54 L717.71 258.51 L718.31 258.47 L718.92 258.42 L719.52 258.36 L720.12 258.29 L720.73 258.22 L721.33 258.15 L721.94 258.08 L722.54 258.02 L723.14 257.96 L723.75 257.91 L724.35 257.87 L724.95 257.83 L725.56 257.81 L726.16 257.81 L726.76 257.81 L727.37 257.83 L727.97 257.86 L728.58 257.9 L729.18 257.95 L729.78 258 L730.39 258.07 L730.99 258.14 L731.59 258.21 L732.2 258.28 L732.8 258.34 L733.4 258.4 L734.01 258.46 L734.61 258.5 L735.22 258.54 L735.82 258.56 L736.42 258.58 L737.03 258.58 L737.63 258.56 L738.23 258.54 L738.84 258.5 L739.44 258.45 L740.04 258.4 L740.65 258.34 L741.25 258.27 L741.86 258.2 L742.46 258.13 L743.06 258.06 L743.67 258 L744.27 257.94 L744.87 257.89 L745.48 257.85 L746.08 257.83 L746.68 257.81 L747.29 257.81 L747.89 257.81 L748.5 257.84 L749.1 257.87 L749.7 257.91 L750.31 257.96 L750.91 258.02 L751.51 258.09 L752.12 258.16 L752.72 258.23 L753.32 258.3 L753.93 258.36 L754.53 258.42 L755.14 258.47 L755.74 258.52 L756.34 258.55 L756.95 258.57 L757.55 258.58 L758.15 258.57 L758.76 258.56 L759.36 258.53 L759.97 258.49 L760.57 258.44 L761.17 258.38 L761.78 258.32 L762.38 258.25 L762.98 258.18 L763.59 258.11 L764.19 258.04 L764.79 257.98 L765.4 257.93 L766 257.88 L766.61 257.84 L767.21 257.82 L767.81 257.81 L768.42 257.81 L769.02 257.82 L769.62 257.84 L770.23 257.88 L770.83 257.93 L771.43 257.98 L772.04 258.04 L772.64 258.11 L773.25 258.18 L773.85 258.25 L774.45 258.32 L775.06 258.38 L775.66 258.44 L776.26 258.49 L776.87 258.53 L777.47 258.56 L778.07 258.57 L778.68 258.58 L779.28 258.57 L779.89 258.55 L780.49 258.52 L781.09 258.47 L781.7 258.42 L782.3 258.36" stroke="#a6da48"/>
<path d="M583.7 196.99 L584.3 196.9 L584.91 196.82 L585.51 196.74 L586.11 196.67 L586.72 196.6 L587.32 196.54 L587.93 196.48 L588.53 196.42 L589.13 196.37 L589.74 196.32 L590.34 196.28 L590.94 196.24 L591.55 196.2 L592.15 196.17 L592.75 196.14 L593.36 196.12 L593.96 196.1 L594.57 196.08 L595.17 196.06 L595.77 196.05 L596.38 196.04 L596.98 196.03 L597.58 196.02 L598.19 196.02 L598.79 196.03 L599.39 196.04 L600 196.06 L600.6 196.08 L601.21 196.12 L601.81 196.16 L602.41 196.2 L603.02 196.25 L603.62 196.31 L604.22 196.37 L604.83 196.43 L605.43 196.5 L606.03 196.58 L606.64 196.65 L607.24 196.73 L607.85 196.81 L608.45 196.89 L609.05 196.98 L609.66 197.06 L610.26 197.15 L610.86 197.23 L611.47 197.32 L612.07 197.4 L612.68 197.49 L613.28 197.59 L613.88 197.68 L614.49 197.79 L615.09 197.89 L615.69 198.01 L616.3 198.12 L616.9 198.24 L617.5 198.36 L618.11 198.48 L618.71 198.61 L619.32 198.74 L619.92 198.87 L620.52 199 L621.13 199.13 L621.73 199.26 L622.33 199.4 L622.94 199.53 L623.54 199.66 L624.14 199.8 L624.75 199.93 L625.35 200.06 L625.96 200.19 L626.56 200.32 L627.16 200.45 L627.77 200.58 L628.37 200.71 L628.97 200.84 L629.58 200.97 L630.18 201.11 L630.78 201.24 L631.39 201.37 L631.99 201.51 L632.6 201.64 L633.2 201.77 L633.8 201.91 L634.41 202.04 L635.01 202.17 L635.61 202.3 L636.22 202.42 L636.82 202.55 L637.42 202.67 L638.03 202.79 L638.63 202.91 L639.24 203.03 L639.84 203.15 L640.44 203.26 L641.05 203.37 L641.65 203.48 L642.25 203.6 L642.86 203.71 L643.46 203.82 L644.06 203.92 L644.67 204.03 L645.27 204.13 L645.88 204.24 L646.48 204.33 L647.08 204.43 L647.69 204.53 L648.29 204.62 L648.89 204.7 L649.5 204.79 L650.1 204.87 L650.7 204.95 L651.31 205.02 L651.91 205.08 L652.52 205.15 L653.12 205.22 L653.72 205.28 L654.33 205.35 L654.93 205.42 L655.53 205.48 L656.14 205.54 L656.74 205.6 L657.34 205.65 L657.95 205.7 L658.55 205.74 L659.16 205.77 L659.76 205.8 L660.36 205.82 L660.97 205.82 L661.57 205.81 L662.17 205.79 L662.78 205.76 L663.38 205.72 L663.99 205.68 L664.59 205.62 L665.19 205.53 L665.8 205.43 L666.4 205.29 L667 205.1 L667.61 204.85 L668.21 204.52 L668.81 204.09 L669.42 203.52 L670.02 202.8 L670.63 201.92 L671.23 200.79 L671.83 199.36 L672.44 197.58 L673.04 195.36 L673.64 192.65 L674.25 189.37 L674.85 185.43 L675.45 180.77 L676.06 175.31 L676.66 169.01 L677.27 161.8 L677.87 153.69 L678.47 144.66 L679.08 134.75 L679.68 124.03 L680.28 112.73 L680.89 100.79 L681.49 88.48 L682.09 76.02 L682.7 63.67 L683.3 51.72 L683.91 40.47 L684.51 30.22 L685.11 21.29 L685.72 13.97 L686.32 8.51 L686.92 5.15 L687.53 4.6 L688.13 5.31 L688.73 8.96 L689.34 14.94 L689.94 23.12 L690.55 33.28 L691.15 45.14 L691.75 58.36 L692.36 72.6 L692.96 87.5 L693.56 102.69 L694.17 117.87 L694.77 132.74 L695.37 147.08 L695.98 160.68 L696.58 173.4 L697.19 185.14 L697.79 195.81 L698.39 205.41 L699 213.93 L699.6 221.4 L700.2 227.56 L700.81 233.18 L701.41 237.96 L702.01 242 L702.62 245.37 L703.22 248.16 L703.83 250.45 L704.43 252.29 L705.03 253.78 L705.64 254.95 L706.24 255.87 L706.84 256.58 L707.45 257.13 L708.05 257.53 L708.66 257.83 L709.26 258.04 L709.86 258.18 L710.47 258.26 L711.07 258.31 L711.67 258.31 L712.28 258.3 L712.88 258.26 L713.48 258.22 L714.09 258.16 L714.69 258.1 L715.3 258.04 L715.9 257.98 L716.5 257.93 L717.11 257.88 L717.71 257.85 L718.31 257.82 L718.92 257.81 L719.52 257.81 L720.12 257.82 L720.73 257.84 L721.33 257.88 L721.94 257.92 L722.54 257.97 L723.14 258.04 L723.75 258.1 L724.35 258.17 L724.95 258.24 L725.56 258.31 L726.16 258.37 L726.76 258.43 L727.37 258.48 L727.97 258.52 L728.58 258.55 L729.18 258.57 L729.78 258.58 L730.39 258.57 L730.99 258.55 L731.59 258.52 L732.2 258.48 L732.8 258.43 L733.4 258.37 L734.01 258.3 L734.61 258.24 L735.22 258.17 L735.82 258.1 L736.42 258.03 L737.03 257.97 L737.63 257.92 L738.23 257.87 L738.84 257.84 L739.44 257.82 L740.04 257.81 L740.65 257.81 L741.25 257.82 L741.86 257.85 L742.46 257.89 L743.06 257.94 L743.67 257.99 L744.27 258.06 L744.87 258.12 L745.48 258.19 L746.08 258.26 L746.68 258.33 L747.29 258.39 L747.89 258.45 L748.5 258.5 L749.1 258.53 L749.7 258.56 L750.31 258.57 L750.91 258.58 L751.51 258.57 L752.12 258.54 L752.72 258.51 L753.32 258.46 L753.93 258.41 L754.53 258.35 L755.14 258.28 L755.74 258.22 L756.34 258.15 L756.95 258.08 L757.55 258.01 L758.15 257.95 L758.76 257.9 L759.36 257.86 L759.97 257.83 L760.57 257.81 L761.17 257.81 L761.78 257.81 L762.38 257.83 L762.98 257.86 L763.59 257.9 L764.19 257.95 L764.79 258.01 L765.4 258.08 L766 258.14 L766.61 258.21 L767.21 258.28 L767.81 258.35 L768.42 258.41 L769.02 258.46 L769.62 258.51 L770.23 258.54 L770.83 258.57 L771.43 258.58 L772.04 258.58 L772.64 258.56 L773.25 258.53 L773.85 258.5 L774.45 258.45 L775.06 258.39 L775.66 258.33 L776.26 258.26 L776.87 258.19 L777.47 258.12 L778.07 258.06 L778.68 257.99 L779.28 257.94 L779.89 257.89 L780.49 257.85 L781.09 257.82 L781.7 257.81 L782.3 257.81" stroke="#30a898"/>
<path d="M583.7 202.39 L584.3 202.35 L584.91 202.32 L585.51 202.29 L586.11 202.27 L586.72 202.24 L587.32 202.23 L587.93 202.21 L588.53 202.2 L589.13 202.19 L589.74 202.18 L590.34 202.18 L590.94 202.18 L591.55 202.18 L592.15 202.18 L592.75 202.19 L593.36 202.19 L593.96 202.2 L594.57 202.21 L595.17 202.22 L595.77 202.24 L596.38 202.25 L596.98 202.26 L597.58 202.28 L598.19 202.3 L598.79 202.32 L599.39 202.34 L600 202.38 L600.6 202.41 L601.21 202.46 L601.81 202.5 L602.41 202.55 L603.02 202.61 L603.62 202.66 L604.22 202.72 L604.83 202.79 L605.43 202.85 L606.03 202.92 L606.64 202.98 L607.24 203.05 L607.85 203.12 L608.45 203.19 L609.05 203.26 L609.66 203.32 L610.26 203.39 L610.86 203.45 L611.47 203.52 L612.07 203.58 L612.68 203.64 L613.28 203.7 L613.88 203.77 L614.49 203.84 L615.09 203.92 L615.69 203.99 L616.3 204.07 L616.9 204.15 L617.5 204.23 L618.11 204.32 L618.71 204.4 L619.32 204.49 L619.92 204.57 L620.52 204.66 L621.13 204.75 L621.73 204.83 L622.33 204.92 L622.94 205 L623.54 205.09 L624.14 205.17 L624.75 205.25 L625.35 205.33 L625.96 205.4 L626.56 205.48 L627.16 205.56 L627.77 205.63 L628.37 205.71 L628.97 205.79 L629.58 205.87 L630.18 205.95 L630.78 206.03 L631.39 206.11 L631.99 206.19 L632.6 206.27 L633.2 206.35 L633.8 206.43 L634.41 206.51 L635.01 206.58 L635.61 206.66 L636.22 206.74 L636.82 206.81 L637.42 206.89 L638.03 206.96 L638.63 207.04 L639.24 207.11 L639.84 207.18 L640.44 207.24 L641.05 207.31 L641.65 207.38 L642.25 207.46 L642.86 207.53 L643.46 207.6 L644.06 207.67 L644.67 207.74 L645.27 207.81 L645.88 207.88 L646.48 207.95 L647.08 208.02 L647.69 208.09 L648.29 208.15 L648.89 208.22 L649.5 208.28 L650.1 208.34 L650.7 208.4 L651.31 208.45 L651.91 208.51 L652.52 208.56 L653.12 208.62 L653.72 208.68 L654.33 208.74 L654.93 208.8 L655.53 208.86 L656.14 208.92 L656.74 208.98 L657.34 209.03 L657.95 209.08 L658.55 209.13 L659.16 209.17 L659.76 209.21 L660.36 209.23 L660.97 209.25 L661.57 209.26 L662.17 209.25 L662.78 209.23 L663.38 209.21 L663.99 209.18 L664.59 209.13 L665.19 209.05 L665.8 208.95 L666.4 208.81 L667 208.62 L667.61 208.36 L668.21 208.02 L668.81 207.57 L669.42 206.99 L670.02 206.24 L670.63 205.33 L671.23 204.19 L671.83 202.76 L672.44 201 L673.04 198.84 L673.64 196.23 L674.25 193.11 L674.85 189.41 L675.45 185.08 L676.06 180.06 L676.66 174.33 L677.27 167.84 L677.87 160.59 L678.47 152.58 L679.08 143.86 L679.68 134.48 L680.28 124.83 L680.89 114.4 L681.49 103.68 L682.09 92.85 L682.7 82.09 L683.3 71.65 L683.91 61.75 L684.51 52.65 L685.11 44.6 L685.72 37.83 L686.32 32.56 L686.92 28.99 L687.53 27.26 L688.13 27.49 L688.73 29.72 L689.34 33.95 L689.94 40.09 L690.55 48 L691.15 57.48 L691.75 68.28 L692.36 80.12 L692.96 92.7 L693.56 105.74 L694.17 118.96 L694.77 132.11 L695.37 144.98 L695.98 157.38 L696.58 169.16 L697.19 180.21 L697.79 190.45 L698.39 199.83 L699 208.31 L699.6 215.91 L700.2 223.03 L700.81 228.92 L701.41 234.04 L702.01 238.42 L702.62 242.14 L703.22 245.27 L703.83 247.86 L704.43 249.98 L705.03 251.7 L705.64 253.08 L706.24 254.18 L706.84 255.03 L707.45 255.7 L708.05 256.21 L708.66 256.6 L709.26 256.9 L709.86 257.13 L710.47 257.31 L711.07 257.45 L711.67 257.57 L712.28 257.67 L712.88 257.77 L713.48 257.86 L714.09 257.94 L714.69 258.02 L715.3 258.1 L715.9 258.18 L716.5 258.26 L717.11 258.33 L717.71 258.39 L718.31 258.45 L718.92 258.5 L719.52 258.54 L720.12 258.56 L720.73 258.58 L721.33 258.58 L721.94 258.56 L722.54 258.54 L723.14 258.5 L723.75 258.46 L724.35 258.4 L724.95 258.34 L725.56 258.27 L726.16 258.2 L726.76 258.14 L727.37 258.07 L727.97 258 L728.58 257.95 L729.18 257.9 L729.78 257.86 L730.39 257.83 L730.99 257.81 L731.59 257.81 L732.2 257.81 L732.8 257.83 L733.4 257.87 L734.01 257.91 L734.61 257.96 L735.22 258.02 L735.82 258.09 L736.42 258.15 L737.03 258.22 L737.63 258.29 L738.23 258.36 L738.84 258.42 L739.44 258.47 L740.04 258.51 L740.65 258.55 L741.25 258.57 L741.86 258.58 L742.46 258.57 L743.06 258.56 L743.67 258.53 L744.27 258.49 L744.87 258.44 L745.48 258.38 L746.08 258.32 L746.68 258.25 L747.29 258.18 L747.89 258.11 L748.5 258.05 L749.1 257.99 L749.7 257.93 L750.31 257.88 L750.91 257.85 L751.51 257.82 L752.12 257.81 L752.72 257.81 L753.32 257.82 L753.93 257.84 L754.53 257.88 L755.14 257.92 L755.74 257.98 L756.34 258.04 L756.95 258.11 L757.55 258.17 L758.15 258.24 L758.76 258.31 L759.36 258.38 L759.97 258.43 L760.57 258.48 L761.17 258.53 L761.78 258.55 L762.38 258.57 L762.98 258.58 L763.59 258.57 L764.19 258.55 L764.79 258.52 L765.4 258.48 L766 258.42 L766.61 258.37 L767.21 258.3 L767.81 258.23 L768.42 258.16 L769.02 258.09 L769.62 258.03 L770.23 257.97 L770.83 257.91 L771.43 257.87 L772.04 257.84 L772.64 257.82 L773.25 257.81 L773.85 257.81 L774.45 257.82 L775.06 257.85 L775.66 257.89 L776.26 257.94 L776.87 258 L777.47 258.06 L778.07 258.13 L778.68 258.2 L779.28 258.27 L779.89 258.33 L780.49 258.4 L781.09 258.45 L781.7 258.5 L782.3 258.54" stroke="#9b45cc"/>
<path d="M583.7 203.2 L584.3 203.12 L584.91 203.05 L585.51 202.98 L586.11 202.92 L586.72 202.86 L587.32 202.8 L587.93 202.74 L588.53 202.69 L589.13 202.64 L589.74 202.59 L590.34 202.54 L590.94 202.49 L591.55 202.45 L592.15 202.41 L592.75 202.37 L593.36 202.33 L593.96 202.3 L594.57 202.27 L595.17 202.23 L595.77 202.2 L596.38 202.17 L596.98 202.14 L597.58 202.12 L598.19 202.09 L598.79 202.07 L599.39 202.06 L600 202.05 L600.6 202.05 L601.21 202.05 L601.81 202.06 L602.41 202.07 L603.02 202.09 L603.62 202.11 L604.22 202.13 L604.83 202.16 L605.43 202.19 L606.03 202.23 L606.64 202.26 L607.24 202.3 L607.85 202.34 L608.45 202.38 L609.05 202.42 L609.66 202.46 L610.26 202.51 L610.86 202.55 L611.47 202.59 L612.07 202.63 L612.68 202.68 L613.28 202.73 L613.88 202.78 L614.49 202.84 L615.09 202.9 L615.69 202.97 L616.3 203.04 L616.9 203.11 L617.5 203.19 L618.11 203.26 L618.71 203.35 L619.32 203.43 L619.92 203.52 L620.52 203.61 L621.13 203.7 L621.73 203.79 L622.33 203.88 L622.94 203.97 L623.54 204.07 L624.14 204.16 L624.75 204.25 L625.35 204.35 L625.96 204.44 L626.56 204.53 L627.16 204.63 L627.77 204.73 L628.37 204.83 L628.97 204.93 L629.58 205.03 L630.18 205.14 L630.78 205.25 L631.39 205.35 L631.99 205.46 L632.6 205.57 L633.2 205.69 L633.8 205.8 L634.41 205.91 L635.01 206.02 L635.61 206.14 L636.22 206.25 L636.82 206.36 L637.42 206.48 L638.03 206.59 L638.63 206.7 L639.24 206.81 L639.84 206.92 L640.44 207.04 L641.05 207.15 L641.65 207.26 L642.25 207.37 L642.86 207.49 L643.46 207.6 L644.06 207.72 L644.67 207.83 L645.27 207.95 L645.88 208.06 L646.48 208.18 L647.08 208.29 L647.69 208.4 L648.29 208.51 L648.89 208.61 L649.5 208.72 L650.1 208.82 L650.7 208.92 L651.31 209.02 L651.91 209.11 L652.52 209.21 L653.12 209.3 L653.72 209.4 L654.33 209.5 L654.93 209.6 L655.53 209.7 L656.14 209.79 L656.74 209.89 L657.34 209.98 L657.95 210.06 L658.55 210.14 L659.16 210.21 L659.76 210.28 L660.36 210.33 L660.97 210.37 L661.57 210.4 L662.17 210.42 L662.78 210.43 L663.38 210.42 L663.99 210.41 L664.59 210.38 L665.19 210.32 L665.8 210.24 L666.4 210.11 L667 209.93 L667.61 209.68 L668.21 209.36 L668.81 208.92 L669.42 208.35 L670.02 207.62 L670.63 206.74 L671.23 205.63 L671.83 204.23 L672.44 202.52 L673.04 200.42 L673.64 197.88 L674.25 194.85 L674.85 191.27 L675.45 187.07 L676.06 182.22 L676.66 176.67 L677.27 170.39 L677.87 163.38 L678.47 155.62 L679.08 147.17 L679.68 138.06 L680.28 127.63 L680.89 117.49 L681.49 107.04 L682.09 96.43 L682.7 85.87 L683.3 75.55 L683.91 65.71 L684.51 56.58 L685.11 48.4 L685.72 41.41 L686.32 35.82 L686.92 31.83 L687.53 29.59 L688.13 29.23 L688.73 30.81 L689.34 34.33 L689.94 39.75 L690.55 46.95 L691.15 55.74 L691.75 65.9 L692.36 77.18 L692.96 89.28 L693.56 101.92 L694.17 114.84 L694.77 127.78 L695.37 140.53 L695.98 152.9 L696.58 164.72 L697.19 175.89 L697.79 186.29 L698.39 195.89 L699 204.63 L699.6 212.5 L700.2 219.17 L700.81 225.36 L701.41 230.79 L702.01 235.51 L702.62 239.58 L703.22 243.05 L703.83 245.98 L704.43 248.44 L705.03 250.49 L705.64 252.18 L706.24 253.56 L706.84 254.68 L707.45 255.59 L708.05 256.31 L708.66 256.88 L709.26 257.32 L709.86 257.66 L710.47 257.92 L711.07 258.12 L711.67 258.25 L712.28 258.34 L712.88 258.4 L713.48 258.42 L714.09 258.41 L714.69 258.39 L715.3 258.35 L715.9 258.3 L716.5 258.24 L717.11 258.18 L717.71 258.11 L718.31 258.05 L718.92 257.99 L719.52 257.93 L720.12 257.89 L720.73 257.85 L721.33 257.82 L721.94 257.81 L722.54 257.81 L723.14 257.82 L723.75 257.84 L724.35 257.87 L724.95 257.92 L725.56 257.97 L726.16 258.03 L726.76 258.1 L727.37 258.17 L727.97 258.24 L728.58 258.3 L729.18 258.37 L729.78 258.43 L730.39 258.48 L730.99 258.52 L731.59 258.55 L732.2 258.57 L732.8 258.58 L733.4 258.57 L734.01 258.55 L734.61 258.52 L735.22 258.48 L735.82 258.43 L736.42 258.37 L737.03 258.31 L737.63 258.24 L738.23 258.17 L738.84 258.1 L739.44 258.04 L740.04 257.97 L740.65 257.92 L741.25 257.88 L741.86 257.84 L742.46 257.82 L743.06 257.81 L743.67 257.81 L744.27 257.82 L744.87 257.85 L745.48 257.89 L746.08 257.93 L746.68 257.99 L747.29 258.05 L747.89 258.12 L748.5 258.19 L749.1 258.26 L749.7 258.33 L750.31 258.39 L750.91 258.44 L751.51 258.49 L752.12 258.53 L752.72 258.56 L753.32 258.57 L753.93 258.58 L754.53 258.57 L755.14 258.55 L755.74 258.51 L756.34 258.47 L756.95 258.41 L757.55 258.35 L758.15 258.29 L758.76 258.22 L759.36 258.15 L759.97 258.08 L760.57 258.02 L761.17 257.96 L761.78 257.91 L762.38 257.86 L762.98 257.83 L763.59 257.81 L764.19 257.81 L764.79 257.81 L765.4 257.83 L766 257.86 L766.61 257.9 L767.21 257.95 L767.81 258.01 L768.42 258.07 L769.02 258.14 L769.62 258.21 L770.23 258.28 L770.83 258.34 L771.43 258.41 L772.04 258.46 L772.64 258.51 L773.25 258.54 L773.85 258.57 L774.45 258.58 L775.06 258.58 L775.66 258.56 L776.26 258.54 L776.87 258.5 L777.47 258.45 L778.07 258.4 L778.68 258.33 L779.28 258.27 L779.89 258.2 L780.49 258.13 L781.09 258.06 L781.7 258 L782.3 257.94" stroke="#8c3cc8"/>
<path d="M583.7 201.5 L584.3 201.45 L584.91 201.41 L585.51 201.37 L586.11 201.33 L586.72 201.3 L587.32 201.27 L587.93 201.24 L588.53 201.22 L589.13 201.19 L589.74 201.17 L590.34 201.15 L590.94 201.13 L591.55 201.12 L592.15 201.1 L592.75 201.09 L593.36 201.08 L593.96 201.07 L594.57 201.06 L595.17 201.06 L595.77 201.05 L596.38 201.04 L596.98 201.04 L597.58 201.04 L598.19 201.03 L598.79 201.03 L599.39 201.04 L600 201.05 L600.6 201.07 L601.21 201.09 L601.81 201.12 L602.41 201.15 L603.02 201.18 L603.62 201.22 L604.22 201.26 L604.83 201.3 L605.43 201.35 L606.03 201.39 L606.64 201.44 L607.24 201.49 L607.85 201.54 L608.45 201.58 L609.05 201.63 L609.66 201.68 L610.26 201.73 L610.86 201.78 L611.47 201.82 L612.07 201.87 L612.68 201.91 L613.28 201.96 L613.88 202.01 L614.49 202.07 L615.09 202.13 L615.69 202.19 L616.3 202.26 L616.9 202.32 L617.5 202.39 L618.11 202.46 L618.71 202.54 L619.32 202.61 L619.92 202.69 L620.52 202.77 L621.13 202.84 L621.73 202.92 L622.33 203 L622.94 203.08 L623.54 203.15 L624.14 203.23 L624.75 203.31 L625.35 203.38 L625.96 203.46 L626.56 203.53 L627.16 203.6 L627.77 203.68 L628.37 203.76 L628.97 203.84 L629.58 203.92 L630.18 204 L630.78 204.08 L631.39 204.17 L631.99 204.25 L632.6 204.33 L633.2 204.42 L633.8 204.51 L634.41 204.59 L635.01 204.68 L635.61 204.76 L636.22 204.85 L636.82 204.94 L637.42 205.02 L638.03 205.11 L638.63 205.19 L639.24 205.27 L639.84 205.36 L640.44 205.44 L641.05 205.52 L641.65 205.61 L642.25 205.69 L642.86 205.78 L643.46 205.87 L644.06 205.95 L644.67 206.04 L645.27 206.13 L645.88 206.22 L646.48 206.31 L647.08 206.39 L647.69 206.48 L648.29 206.56 L648.89 206.65 L649.5 206.73 L650.1 206.81 L650.7 206.89 L651.31 206.96 L651.91 207.04 L652.52 207.11 L653.12 207.18 L653.72 207.26 L654.33 207.34 L654.93 207.43 L655.53 207.51 L656.14 207.59 L656.74 207.66 L657.34 207.74 L657.95 207.81 L658.55 207.87 L659.16 207.93 L659.76 207.97 L660.36 208.01 L660.97 208.03 L661.57 208.04 L662.17 208.02 L662.78 207.99 L663.38 207.94 L663.99 207.86 L664.59 207.75 L665.19 207.59 L665.8 207.38 L666.4 207.09 L667 206.7 L667.61 206.21 L668.21 205.57 L668.81 204.76 L669.42 203.74 L670.02 202.47 L670.63 200.96 L671.23 199.12 L671.83 196.89 L672.44 194.23 L673.04 191.07 L673.64 187.37 L674.25 183.08 L674.85 178.15 L675.45 172.54 L676.06 166.23 L676.66 159.21 L677.27 151.48 L677.87 143.06 L678.47 134.01 L679.08 124.39 L679.68 114.31 L680.28 103.6 L680.89 92.94 L681.49 82.25 L682.09 71.71 L682.7 61.53 L683.3 51.93 L683.91 43.13 L684.51 35.35 L685.11 28.81 L685.72 23.69 L686.32 20.17 L686.92 18.39 L687.53 18.46 L688.13 20.42 L688.73 24.27 L689.34 29.96 L689.94 37.35 L690.55 46.29 L691.15 56.53 L691.75 67.85 L692.36 79.96 L692.96 92.61 L693.56 105.54 L694.17 118.52 L694.77 131.34 L695.37 143.84 L695.98 155.85 L696.58 167.27 L697.19 178 L697.79 187.98 L698.39 197.16 L699 205.52 L699.6 213.07 L700.2 220.2 L700.81 226.17 L701.41 231.41 L702.01 235.95 L702.62 239.86 L703.22 243.18 L703.83 245.98 L704.43 248.32 L705.03 250.25 L705.64 251.82 L706.24 253.1 L706.84 254.13 L707.45 254.94 L708.05 255.59 L708.66 256.1 L709.26 256.5 L709.86 256.82 L710.47 257.08 L711.07 257.28 L711.67 257.46 L712.28 257.6 L712.88 257.73 L713.48 257.85 L714.09 257.95 L714.69 258.05 L715.3 258.14 L715.9 258.23 L716.5 258.31 L717.11 258.38 L717.71 258.44 L718.31 258.49 L718.92 258.53 L719.52 258.56 L720.12 258.57 L720.73 258.58 L721.33 258.56 L721.94 258.54 L722.54 258.51 L723.14 258.46 L723.75 258.41 L724.35 258.35 L724.95 258.28 L725.56 258.21 L726.16 258.14 L726.76 258.08 L727.37 258.01 L727.97 257.95 L728.58 257.9 L729.18 257.86 L729.78 257.83 L730.39 257.81 L730.99 257.81 L731.59 257.81 L732.2 257.83 L732.8 257.86 L733.4 257.9 L734.01 257.95 L734.61 258.01 L735.22 258.08 L735.82 258.15 L736.42 258.22 L737.03 258.28 L737.63 258.35 L738.23 258.41 L738.84 258.46 L739.44 258.51 L740.04 258.54 L740.65 258.57 L741.25 258.58 L741.86 258.57 L742.46 258.56 L743.06 258.53 L743.67 258.5 L744.27 258.45 L744.87 258.39 L745.48 258.33 L746.08 258.26 L746.68 258.19 L747.29 258.12 L747.89 258.06 L748.5 257.99 L749.1 257.94 L749.7 257.89 L750.31 257.85 L750.91 257.82 L751.51 257.81 L752.12 257.81 L752.72 257.82 L753.32 257.84 L753.93 257.87 L754.53 257.92 L755.14 257.97 L755.74 258.03 L756.34 258.1 L756.95 258.17 L757.55 258.24 L758.15 258.3 L758.76 258.37 L759.36 258.43 L759.97 258.48 L760.57 258.52 L761.17 258.55 L761.78 258.57 L762.38 258.58 L762.98 258.57 L763.59 258.55 L764.19 258.52 L764.79 258.48 L765.4 258.43 L766 258.37 L766.61 258.31 L767.21 258.24 L767.81 258.17 L768.42 258.1 L769.02 258.04 L769.62 257.97 L770.23 257.92 L770.83 257.88 L771.43 257.84 L772.04 257.82 L772.64 257.81 L773.25 257.81 L773.85 257.82 L774.45 257.85 L775.06 257.89 L775.66 257.93 L776.26 257.99 L776.87 258.05 L777.47 258.12 L778.07 258.19 L778.68 258.26 L779.28 258.32 L779.89 258.39 L780.49 258.44 L781.09 258.49 L781.7 258.53 L782.3 258.56" stroke="#5a6ad0"/>
<path d="M583.7 202.29 L584.3 202.24 L584.91 202.2 L585.51 202.16 L586.11 202.12 L586.72 202.09 L587.32 202.06 L587.93 202.03 L588.53 202 L589.13 201.97 L589.74 201.95 L590.34 201.93 L590.94 201.91 L591.55 201.9 L592.15 201.88 L592.75 201.87 L593.36 201.86 L593.96 201.85 L594.57 201.84 L595.17 201.83 L595.77 201.82 L596.38 201.82 L596.98 201.81 L597.58 201.8 L598.19 201.8 L598.79 201.8 L599.39 201.81 L600 201.82 L600.6 201.83 L601.21 201.85 L601.81 201.88 L602.41 201.91 L603.02 201.94 L603.62 201.98 L604.22 202.02 L604.83 202.06 L605.43 202.1 L606.03 202.15 L606.64 202.19 L607.24 202.24 L607.85 202.29 L608.45 202.34 L609.05 202.38 L609.66 202.43 L610.26 202.48 L610.86 202.53 L611.47 202.57 L612.07 202.61 L612.68 202.66 L613.28 202.71 L613.88 202.76 L614.49 202.81 L615.09 202.87 L615.69 202.94 L616.3 203 L616.9 203.07 L617.5 203.14 L618.11 203.21 L618.71 203.28 L619.32 203.36 L619.92 203.43 L620.52 203.51 L621.13 203.59 L621.73 203.66 L622.33 203.74 L622.94 203.82 L623.54 203.9 L624.14 203.97 L624.75 204.05 L625.35 204.13 L625.96 204.2 L626.56 204.27 L627.16 204.35 L627.77 204.43 L628.37 204.5 L628.97 204.58 L629.58 204.66 L630.18 204.75 L630.78 204.83 L631.39 204.91 L631.99 205 L632.6 205.08 L633.2 205.17 L633.8 205.26 L634.41 205.34 L635.01 205.43 L635.61 205.52 L636.22 205.6 L636.82 205.69 L637.42 205.78 L638.03 205.86 L638.63 205.95 L639.24 206.03 L639.84 206.11 L640.44 206.2 L641.05 206.28 L641.65 206.37 L642.25 206.46 L642.86 206.54 L643.46 206.63 L644.06 206.72 L644.67 206.81 L645.27 206.9 L645.88 206.99 L646.48 207.08 L647.08 207.16 L647.69 207.25 L648.29 207.34 L648.89 207.42 L649.5 207.5 L650.1 207.58 L650.7 207.66 L651.31 207.74 L651.91 207.81 L652.52 207.89 L653.12 207.97 L653.72 208.05 L654.33 208.13 L654.93 208.21 L655.53 208.29 L656.14 208.37 L656.74 208.45 L657.34 208.52 L657.95 208.59 L658.55 208.66 L659.16 208.71 L659.76 208.76 L660.36 208.79 L660.97 208.81 L661.57 208.81 L662.17 208.79 L662.78 208.75 L663.38 208.68 L663.99 208.59 L664.59 208.46 L665.19 208.28 L665.8 208.03 L666.4 207.7 L667 207.27 L667.61 206.72 L668.21 206.01 L668.81 205.12 L669.42 204.01 L670.02 202.65 L670.63 201.02 L671.23 199.05 L671.83 196.68 L672.44 193.87 L673.04 190.55 L673.64 186.69 L674.25 182.24 L674.85 177.15 L675.45 171.39 L676.06 164.94 L676.66 157.8 L677.27 149.98 L677.87 141.52 L678.47 132.45 L679.08 122.86 L679.68 112.85 L680.28 102.25 L680.89 91.77 L681.49 81.31 L682.09 71.05 L682.7 61.19 L683.3 51.95 L683.91 43.54 L684.51 36.17 L685.11 30.03 L685.72 25.32 L686.32 22.2 L686.92 20.79 L687.53 21.19 L688.13 23.43 L688.73 27.5 L689.34 33.34 L689.94 40.82 L690.55 49.76 L691.15 59.95 L691.75 71.14 L692.36 83.08 L692.96 95.5 L693.56 108.16 L694.17 120.86 L694.77 133.39 L695.37 145.59 L695.98 157.33 L696.58 168.48 L697.19 178.96 L697.79 188.71 L698.39 197.7 L699 205.89 L699.6 213.3 L700.2 220.32 L700.81 226.22 L701.41 231.4 L702.01 235.91 L702.62 239.8 L703.22 243.12 L703.83 245.92 L704.43 248.26 L705.03 250.2 L705.64 251.78 L706.24 253.07 L706.84 254.1 L707.45 254.92 L708.05 255.57 L708.66 256.08 L709.26 256.48 L709.86 256.79 L710.47 257.04 L711.07 257.23 L711.67 257.39 L712.28 257.53 L712.88 257.65 L713.48 257.75 L714.09 257.85 L714.69 257.94 L715.3 258.03 L715.9 258.12 L716.5 258.2 L717.11 258.28 L717.71 258.35 L718.31 258.41 L718.92 258.47 L719.52 258.51 L720.12 258.55 L720.73 258.57 L721.33 258.58 L721.94 258.57 L722.54 258.56 L723.14 258.53 L723.75 258.49 L724.35 258.44 L724.95 258.38 L725.56 258.32 L726.16 258.25 L726.76 258.18 L727.37 258.11 L727.97 258.04 L728.58 257.98 L729.18 257.93 L729.78 257.88 L730.39 257.84 L730.99 257.82 L731.59 257.81 L732.2 257.81 L732.8 257.82 L733.4 257.84 L734.01 257.88 L734.61 257.93 L735.22 257.98 L735.82 258.04 L736.42 258.11 L737.03 258.18 L737.63 258.25 L738.23 258.32 L738.84 258.38 L739.44 258.44 L740.04 258.49 L740.65 258.53 L741.25 258.56 L741.86 258.57 L742.46 258.58 L743.06 258.57 L743.67 258.55 L744.27 258.52 L744.87 258.47 L745.48 258.42 L746.08 258.36 L746.68 258.3 L747.29 258.23 L747.89 258.16 L748.5 258.09 L749.1 258.02 L749.7 257.96 L750.31 257.91 L750.91 257.87 L751.51 257.84 L752.12 257.81 L752.72 257.81 L753.32 257.81 L753.93 257.83 L754.53 257.85 L755.14 257.89 L755.74 257.94 L756.34 258 L756.95 258.06 L757.55 258.13 L758.15 258.2 L758.76 258.27 L759.36 258.34 L759.97 258.4 L760.57 258.45 L761.17 258.5 L761.78 258.54 L762.38 258.56 L762.98 258.58 L763.59 258.58 L764.19 258.56 L764.79 258.54 L765.4 258.5 L766 258.46 L766.61 258.4 L767.21 258.34 L767.81 258.28 L768.42 258.21 L769.02 258.14 L769.62 258.07 L770.23 258 L770.83 257.95 L771.43 257.9 L772.04 257.86 L772.64 257.83 L773.25 257.81 L773.85 257.81 L774.45 257.81 L775.06 257.83 L775.66 257.87 L776.26 257.91 L776.87 257.96 L777.47 258.02 L778.07 258.08 L778.68 258.15 L779.28 258.22 L779.89 258.29 L780.49 258.36 L781.09 258.42 L781.7 258.47 L782.3 258.51" stroke="#4450b0"/>
<path d="M583.7 202.68 L584.3 202.63 L584.91 202.59 L585.51 202.55 L586.11 202.51 L586.72 202.47 L587.32 202.44 L587.93 202.41 L588.53 202.39 L589.13 202.36 L589.74 202.34 L590.34 202.32 L590.94 202.3 L591.55 202.28 L592.15 202.27 L592.75 202.26 L593.36 202.24 L593.96 202.23 L594.57 202.22 L595.17 202.22 L595.77 202.21 L596.38 202.2 L596.98 202.2 L597.58 202.19 L598.19 202.19 L598.79 202.19 L599.39 202.19 L600 202.2 L600.6 202.22 L601.21 202.24 L601.81 202.27 L602.41 202.29 L603.02 202.33 L603.62 202.36 L604.22 202.4 L604.83 202.44 L605.43 202.49 L606.03 202.53 L606.64 202.58 L607.24 202.62 L607.85 202.67 L608.45 202.72 L609.05 202.77 L609.66 202.82 L610.26 202.86 L610.86 202.91 L611.47 202.95 L612.07 203 L612.68 203.04 L613.28 203.09 L613.88 203.14 L614.49 203.2 L615.09 203.26 L615.69 203.32 L616.3 203.38 L616.9 203.45 L617.5 203.52 L618.11 203.59 L618.71 203.67 L619.32 203.74 L619.92 203.82 L620.52 203.89 L621.13 203.97 L621.73 204.05 L622.33 204.13 L622.94 204.2 L623.54 204.28 L624.14 204.36 L624.75 204.43 L625.35 204.51 L625.96 204.58 L626.56 204.66 L627.16 204.73 L627.77 204.81 L628.37 204.89 L628.97 204.97 L629.58 205.05 L630.18 205.13 L630.78 205.21 L631.39 205.3 L631.99 205.38 L632.6 205.47 L633.2 205.55 L633.8 205.64 L634.41 205.73 L635.01 205.81 L635.61 205.9 L636.22 205.99 L636.82 206.08 L637.42 206.16 L638.03 206.25 L638.63 206.33 L639.24 206.42 L639.84 206.5 L640.44 206.58 L641.05 206.67 L641.65 206.75 L642.25 206.84 L642.86 206.93 L643.46 207.02 L644.06 207.11 L644.67 207.2 L645.27 207.28 L645.88 207.37 L646.48 207.46 L647.08 207.55 L647.69 207.64 L648.29 207.72 L648.89 207.81 L649.5 207.89 L650.1 207.97 L650.7 208.05 L651.31 208.13 L651.91 208.2 L652.52 208.28 L653.12 208.35 L653.72 208.43 L654.33 208.51 L654.93 208.6 L655.53 208.68 L656.14 208.76 L656.74 208.84 L657.34 208.91 L657.95 208.98 L658.55 209.04 L659.16 209.1 L659.76 209.14 L660.36 209.18 L660.97 209.19 L661.57 209.19 L662.17 209.17 L662.78 209.12 L663.38 209.06 L663.99 208.96 L664.59 208.82 L665.19 208.63 L665.8 208.37 L666.4 208.03 L667 207.59 L667.61 207.01 L668.21 206.28 L668.81 205.37 L669.42 204.22 L670.02 202.81 L670.63 201.14 L671.23 199.12 L671.83 196.69 L672.44 193.81 L673.04 190.43 L673.64 186.49 L674.25 181.96 L674.85 176.78 L675.45 170.94 L676.06 164.41 L676.66 157.19 L677.27 149.3 L677.87 140.77 L678.47 131.66 L679.08 122.04 L679.68 112.02 L680.28 101.43 L680.89 90.99 L681.49 80.6 L682.09 70.44 L682.7 60.72 L683.3 51.65 L683.91 43.43 L684.51 36.28 L685.11 30.4 L685.72 25.96 L686.32 23.12 L686.92 22.01 L687.53 22.7 L688.13 25.23 L688.73 29.57 L689.34 35.65 L689.94 43.34 L690.55 52.46 L691.15 62.77 L691.75 74.04 L692.36 86 L692.96 98.41 L693.56 111.03 L694.17 123.64 L694.77 136.07 L695.37 148.14 L695.98 159.72 L696.58 170.71 L697.19 181.02 L697.79 190.6 L698.39 199.4 L699 207.42 L699.6 214.67 L700.2 221.52 L700.81 227.29 L701.41 232.34 L702.01 236.74 L702.62 240.52 L703.22 243.74 L703.83 246.46 L704.43 248.73 L705.03 250.6 L705.64 252.13 L706.24 253.36 L706.84 254.35 L707.45 255.13 L708.05 255.74 L708.66 256.22 L709.26 256.59 L709.86 256.87 L710.47 257.09 L711.07 257.27 L711.67 257.41 L712.28 257.52 L712.88 257.63 L713.48 257.72 L714.09 257.81 L714.69 257.89 L715.3 257.97 L715.9 258.06 L716.5 258.14 L717.11 258.21 L717.71 258.29 L718.31 258.36 L718.92 258.42 L719.52 258.47 L720.12 258.52 L720.73 258.55 L721.33 258.57 L721.94 258.58 L722.54 258.57 L723.14 258.55 L723.75 258.53 L724.35 258.49 L724.95 258.44 L725.56 258.38 L726.16 258.31 L726.76 258.25 L727.37 258.18 L727.97 258.11 L728.58 258.04 L729.18 257.98 L729.78 257.92 L730.39 257.88 L730.99 257.84 L731.59 257.82 L732.2 257.81 L732.8 257.81 L733.4 257.82 L734.01 257.85 L734.61 257.88 L735.22 257.93 L735.82 257.98 L736.42 258.05 L737.03 258.11 L737.63 258.18 L738.23 258.25 L738.84 258.32 L739.44 258.38 L740.04 258.44 L740.65 258.49 L741.25 258.53 L741.86 258.56 L742.46 258.57 L743.06 258.58 L743.67 258.57 L744.27 258.55 L744.87 258.51 L745.48 258.47 L746.08 258.42 L746.68 258.36 L747.29 258.29 L747.89 258.22 L748.5 258.15 L749.1 258.09 L749.7 258.02 L750.31 257.96 L750.91 257.91 L751.51 257.87 L752.12 257.83 L752.72 257.81 L753.32 257.81 L753.93 257.81 L754.53 257.83 L755.14 257.86 L755.74 257.9 L756.34 257.95 L756.95 258 L757.55 258.07 L758.15 258.13 L758.76 258.2 L759.36 258.27 L759.97 258.34 L760.57 258.4 L761.17 258.46 L761.78 258.5 L762.38 258.54 L762.98 258.56 L763.59 258.58 L764.19 258.58 L764.79 258.56 L765.4 258.54 L766 258.5 L766.61 258.46 L767.21 258.4 L767.81 258.34 L768.42 258.27 L769.02 258.2 L769.62 258.13 L770.23 258.07 L770.83 258 L771.43 257.94 L772.04 257.9 L772.64 257.86 L773.25 257.83 L773.85 257.81 L774.45 257.81 L775.06 257.81 L775.66 257.83 L776.26 257.87 L776.87 257.91 L777.47 257.96 L778.07 258.02 L778.68 258.09 L779.28 258.16 L779.89 258.23 L780.49 258.29 L781.09 258.36 L781.7 258.42 L782.3 258.47" stroke="#3a48a8"/>
<path d="M583.7 210.31 L584.3 210.89 L584.91 211.4 L585.51 211.81 L586.11 212.09 L586.72 212.32 L587.32 212.53 L587.93 212.69 L588.53 212.79 L589.13 212.81 L589.74 212.73 L590.34 212.54 L590.94 212.28 L591.55 211.95 L592.15 211.6 L592.75 211.23 L593.36 210.84 L593.96 210.32 L594.57 209.72 L595.17 209.06 L595.77 208.4 L596.38 207.77 L596.98 207.23 L597.58 206.76 L598.19 206.29 L598.79 205.84 L599.39 205.42 L600 205.04 L600.6 204.71 L601.21 204.42 L601.81 204.16 L602.41 203.91 L603.02 203.67 L603.62 203.46 L604.22 203.26 L604.83 203.1 L605.43 202.97 L606.03 202.87 L606.64 202.79 L607.24 202.72 L607.85 202.65 L608.45 202.59 L609.05 202.53 L609.66 202.48 L610.26 202.44 L610.86 202.41 L611.47 202.4 L612.07 202.39 L612.68 202.39 L613.28 202.4 L613.88 202.4 L614.49 202.41 L615.09 202.43 L615.69 202.44 L616.3 202.46 L616.9 202.48 L617.5 202.5 L618.11 202.53 L618.71 202.56 L619.32 202.6 L619.92 202.63 L620.52 202.67 L621.13 202.72 L621.73 202.77 L622.33 202.82 L622.94 202.87 L623.54 202.93 L624.14 202.99 L624.75 203.06 L625.35 203.13 L625.96 203.2 L626.56 203.28 L627.16 203.37 L627.77 203.45 L628.37 203.54 L628.97 203.64 L629.58 203.74 L630.18 203.85 L630.78 203.96 L631.39 204.07 L631.99 204.19 L632.6 204.31 L633.2 204.44 L633.8 204.58 L634.41 204.71 L635.01 204.86 L635.61 205.01 L636.22 205.16 L636.82 205.32 L637.42 205.49 L638.03 205.66 L638.63 205.83 L639.24 206.01 L639.84 206.2 L640.44 206.32 L641.05 206.42 L641.65 206.51 L642.25 206.61 L642.86 206.71 L643.46 206.8 L644.06 206.9 L644.67 206.99 L645.27 207.08 L645.88 207.18 L646.48 207.27 L647.08 207.36 L647.69 207.44 L648.29 207.53 L648.89 207.61 L649.5 207.69 L650.1 207.77 L650.7 207.84 L651.31 207.91 L651.91 207.98 L652.52 208.05 L653.12 208.12 L653.72 208.19 L654.33 208.26 L654.93 208.33 L655.53 208.4 L656.14 208.47 L656.74 208.53 L657.34 208.59 L657.95 208.65 L658.55 208.7 L659.16 208.75 L659.76 208.78 L660.36 208.81 L660.97 208.83 L661.57 208.83 L662.17 208.82 L662.78 208.8 L663.38 208.77 L663.99 208.73 L664.59 208.67 L665.19 208.59 L665.8 208.47 L666.4 208.32 L667 208.11 L667.61 207.83 L668.21 207.46 L668.81 206.99 L669.42 206.37 L670.02 205.59 L670.63 204.64 L671.23 203.45 L671.83 201.97 L672.44 200.14 L673.04 197.92 L673.64 195.23 L674.25 192.03 L674.85 188.25 L675.45 183.83 L676.06 178.73 L676.66 172.91 L677.27 166.34 L677.87 159.01 L678.47 150.95 L679.08 142.18 L679.68 132.77 L680.28 122.82 L680.89 112.45 L681.49 101.81 L682.09 91.09 L682.7 80.49 L683.3 70.23 L683.91 60.57 L684.51 51.74 L685.11 43.98 L685.72 37.54 L686.32 32.63 L686.92 29.44 L687.53 28.1 L688.13 28.72 L688.73 31.33 L689.34 35.92 L689.94 42.39 L690.55 50.6 L691.15 60.32 L691.75 71.3 L692.36 83.26 L692.96 95.91 L693.56 108.95 L694.17 122.12 L694.77 135.18 L695.37 147.91 L695.98 160.15 L696.58 171.74 L697.19 182.59 L697.79 192.62 L698.39 201.78 L699 210.05 L699.6 217.44 L700.2 223.98 L700.81 229.7 L701.41 234.67 L702.01 238.94 L702.62 242.57 L703.22 245.63 L703.83 248.17 L704.43 250.27 L705.03 251.99 L705.64 253.37 L706.24 254.48 L706.84 255.36 L707.45 256.05 L708.05 256.59 L708.66 257 L709.26 257.31 L709.86 257.55 L710.47 257.73 L711.07 257.86 L711.67 257.95 L712.28 258.02 L712.88 258.07 L713.48 258.11 L714.09 258.13 L714.69 258.15 L715.3 258.16 L715.9 258.17 L716.5 258.18 L717.11 258.18 L717.71 258.19 L718.31 258.19 L718.92 258.19 L719.52 258.19 L720.12 258.19 L720.73 258.19 L721.33 258.19 L721.94 258.19 L722.54 258.19 L723.14 258.19 L723.75 258.19 L724.35 258.19 L724.95 258.19 L725.56 258.19 L726.16 258.19 L726.76 258.19 L727.37 258.19 L727.97 258.19 L728.58 258.19 L729.18 258.19 L729.78 258.19 L730.39 258.19 L730.99 258.19 L731.59 258.19 L732.2 258.19 L732.8 258.19 L733.4 258.19 L734.01 258.19 L734.61 258.19 L735.22 258.19 L735.82 258.19 L736.42 258.19 L737.03 258.19 L737.63 258.19 L738.23 258.19 L738.84 258.19 L739.44 258.19 L740.04 258.19 L740.65 258.19 L741.25 258.19 L741.86 258.19 L742.46 258.19 L743.06 258.19 L743.67 258.19 L744.27 258.19 L744.87 258.19 L745.48 258.19 L746.08 258.19 L746.68 258.19 L747.29 258.19 L747.89 258.19 L748.5 258.19 L749.1 258.19 L749.7 258.19 L750.31 258.19 L750.91 258.19 L751.51 258.19 L752.12 258.19 L752.72 258.19 L753.32 258.19 L753.93 258.19 L754.53 258.19 L755.14 258.19 L755.74 258.19 L756.34 258.19 L756.95 258.19 L757.55 258.19 L758.15 258.19 L758.76 258.19 L759.36 258.19 L759.97 258.19 L760.57 258.19 L761.17 258.19 L761.78 258.19 L762.38 258.19 L762.98 258.19 L763.59 258.19 L764.19 258.19 L764.79 258.19 L765.4 258.19 L766 258.19 L766.61 258.19 L767.21 258.19 L767.81 258.19 L768.42 258.19 L769.02 258.19 L769.62 258.19 L770.23 258.19 L770.83 258.19 L771.43 258.19 L772.04 258.19 L772.64 258.19 L773.25 258.19 L773.85 258.19 L774.45 258.19 L775.06 258.19 L775.66 258.19 L776.26 258.19 L776.87 258.19 L777.47 258.19 L778.07 258.19 L778.68 258.19 L779.28 258.19 L779.89 258.19 L780.49 258.19 L781.09 258.19 L781.7 258.19 L782.3 258.19" stroke="#a040c8"/>
<path d="M583.7 213.21 L584.3 213.78 L584.91 214.29 L585.51 214.7 L586.11 214.99 L586.72 215.22 L587.32 215.42 L587.93 215.58 L588.53 215.69 L589.13 215.71 L589.74 215.57 L590.34 215.27 L590.94 214.84 L591.55 214.33 L592.15 213.78 L592.75 213.23 L593.36 212.67 L593.96 212.01 L594.57 211.26 L595.17 210.46 L595.77 209.66 L596.38 208.89 L596.98 208.2 L597.58 207.56 L598.19 206.92 L598.79 206.28 L599.39 205.69 L600 205.17 L600.6 204.74 L601.21 204.42 L601.81 204.13 L602.41 203.88 L603.02 203.64 L603.62 203.43 L604.22 203.25 L604.83 203.09 L605.43 202.96 L606.03 202.87 L606.64 202.79 L607.24 202.72 L607.85 202.65 L608.45 202.59 L609.05 202.53 L609.66 202.48 L610.26 202.44 L610.86 202.41 L611.47 202.4 L612.07 202.39 L612.68 202.39 L613.28 202.4 L613.88 202.4 L614.49 202.41 L615.09 202.43 L615.69 202.44 L616.3 202.46 L616.9 202.48 L617.5 202.5 L618.11 202.53 L618.71 202.56 L619.32 202.6 L619.92 202.63 L620.52 202.67 L621.13 202.72 L621.73 202.77 L622.33 202.82 L622.94 202.87 L623.54 202.93 L624.14 202.99 L624.75 203.06 L625.35 203.13 L625.96 203.2 L626.56 203.28 L627.16 203.37 L627.77 203.45 L628.37 203.54 L628.97 203.64 L629.58 203.74 L630.18 203.85 L630.78 203.96 L631.39 204.07 L631.99 204.19 L632.6 204.31 L633.2 204.44 L633.8 204.58 L634.41 204.71 L635.01 204.86 L635.61 205.01 L636.22 205.16 L636.82 205.32 L637.42 205.49 L638.03 205.66 L638.63 205.83 L639.24 206.01 L639.84 206.2 L640.44 206.32 L641.05 206.42 L641.65 206.51 L642.25 206.61 L642.86 206.71 L643.46 206.8 L644.06 206.9 L644.67 206.99 L645.27 207.08 L645.88 207.18 L646.48 207.27 L647.08 207.36 L647.69 207.44 L648.29 207.53 L648.89 207.61 L649.5 207.69 L650.1 207.77 L650.7 207.84 L651.31 207.91 L651.91 207.98 L652.52 208.05 L653.12 208.12 L653.72 208.19 L654.33 208.26 L654.93 208.33 L655.53 208.4 L656.14 208.47 L656.74 208.53 L657.34 208.59 L657.95 208.65 L658.55 208.7 L659.16 208.75 L659.76 208.78 L660.36 208.81 L660.97 208.83 L661.57 208.83 L662.17 208.82 L662.78 208.8 L663.38 208.77 L663.99 208.73 L664.59 208.67 L665.19 208.59 L665.8 208.47 L666.4 208.32 L667 208.11 L667.61 207.83 L668.21 207.46 L668.81 206.99 L669.42 206.37 L670.02 205.59 L670.63 204.64 L671.23 203.45 L671.83 201.97 L672.44 200.14 L673.04 197.92 L673.64 195.23 L674.25 192.03 L674.85 188.25 L675.45 183.83 L676.06 178.73 L676.66 172.91 L677.27 166.34 L677.87 159.01 L678.47 150.95 L679.08 142.18 L679.68 132.77 L680.28 122.82 L680.89 112.45 L681.49 101.81 L682.09 91.09 L682.7 80.49 L683.3 70.23 L683.91 60.57 L684.51 51.74 L685.11 43.98 L685.72 37.54 L686.32 32.63 L686.92 29.44 L687.53 28.1 L688.13 28.72 L688.73 31.33 L689.34 35.92 L689.94 42.39 L690.55 50.6 L691.15 60.32 L691.75 71.3 L692.36 83.26 L692.96 95.91 L693.56 108.95 L694.17 122.12 L694.77 135.18 L695.37 147.91 L695.98 160.15 L696.58 171.74 L697.19 182.59 L697.79 192.62 L698.39 201.78 L699 210.05 L699.6 217.44 L700.2 223.98 L700.81 229.7 L701.41 234.67 L702.01 238.94 L702.62 242.57 L703.22 245.63 L703.83 248.17 L704.43 250.27 L705.03 251.99 L705.64 253.37 L706.24 254.48 L706.84 255.36 L707.45 256.05 L708.05 256.59 L708.66 257 L709.26 257.31 L709.86 257.55 L710.47 257.73 L711.07 257.86 L711.67 257.95 L712.28 258.02 L712.88 258.07 L713.48 258.11 L714.09 258.13 L714.69 258.15 L715.3 258.16 L715.9 258.17 L716.5 258.18 L717.11 258.18 L717.71 258.19 L718.31 258.19 L718.92 258.19 L719.52 258.19 L720.12 258.19 L720.73 258.19 L721.33 258.19 L721.94 258.19 L722.54 258.19 L723.14 258.19 L723.75 258.19 L724.35 258.19 L724.95 258.19 L725.56 258.19 L726.16 258.19 L726.76 258.19 L727.37 258.19 L727.97 258.19 L728.58 258.19 L729.18 258.19 L729.78 258.19 L730.39 258.19 L730.99 258.19 L731.59 258.19 L732.2 258.19 L732.8 258.19 L733.4 258.19 L734.01 258.19 L734.61 258.19 L735.22 258.19 L735.82 258.19 L736.42 258.19 L737.03 258.19 L737.63 258.19 L738.23 258.19 L738.84 258.19 L739.44 258.19 L740.04 258.19 L740.65 258.19 L741.25 258.19 L741.86 258.19 L742.46 258.19 L743.06 258.19 L743.67 258.19 L744.27 258.19 L744.87 258.19 L745.48 258.19 L746.08 258.19 L746.68 258.19 L747.29 258.19 L747.89 258.19 L748.5 258.19 L749.1 258.19 L749.7 258.19 L750.31 258.19 L750.91 258.19 L751.51 258.19 L752.12 258.19 L752.72 258.19 L753.32 258.19 L753.93 258.19 L754.53 258.19 L755.14 258.19 L755.74 258.19 L756.34 258.19 L756.95 258.19 L757.55 258.19 L758.15 258.19 L758.76 258.19 L759.36 258.19 L759.97 258.19 L760.57 258.19 L761.17 258.19 L761.78 258.19 L762.38 258.19 L762.98 258.19 L763.59 258.19 L764.19 258.19 L764.79 258.19 L765.4 258.19 L766 258.19 L766.61 258.19 L767.21 258.19 L767.81 258.19 L768.42 258.19 L769.02 258.19 L769.62 258.19 L770.23 258.19 L770.83 258.19 L771.43 258.19 L772.04 258.19 L772.64 258.19 L773.25 258.19 L773.85 258.19 L774.45 258.19 L775.06 258.19 L775.66 258.19 L776.26 258.19 L776.87 258.19 L777.47 258.19 L778.07 258.19 L778.68 258.19 L779.28 258.19 L779.89 258.19 L780.49 258.19 L781.09 258.19 L781.7 258.19 L782.3 258.19" stroke="#c868c8"/>
</g>
<path d="M583.7 253.51 L584.3 253.54 L584.91 253.57 L585.51 253.6 L586.11 253.62 L586.72 253.64 L587.32 253.65 L587.93 253.67 L588.53 253.68 L589.13 253.68 L589.74 253.68 L590.34 253.68 L590.94 253.67 L591.55 253.65 L592.15 253.62 L592.75 253.58 L593.36 253.52 L593.96 253.45 L594.57 253.35 L595.17 253.24 L595.77 253.11 L596.38 252.96 L596.98 252.79 L597.58 252.62 L598.19 252.44 L598.79 252.28 L599.39 252.13 L600 252 L600.6 251.91 L601.21 251.86 L601.81 251.84 L602.41 251.86 L603.02 251.91 L603.62 251.98 L604.22 252.06 L604.83 252.15 L605.43 252.23 L606.03 252.3 L606.64 252.36 L607.24 252.4 L607.85 252.42 L608.45 252.43 L609.05 252.42 L609.66 252.41 L610.26 252.38 L610.86 252.35 L611.47 252.31 L612.07 252.27 L612.68 252.24 L613.28 252.2 L613.88 252.16 L614.49 252.12 L615.09 252.09 L615.69 252.06 L616.3 252.03 L616.9 252.01 L617.5 251.98 L618.11 251.96 L618.71 251.95 L619.32 251.93 L619.92 251.92 L620.52 251.91 L621.13 251.91 L621.73 251.91 L622.33 251.91 L622.94 251.91 L623.54 251.92 L624.14 251.93 L624.75 251.94 L625.35 251.96 L625.96 251.97 L626.56 251.99 L627.16 252.02 L627.77 252.04 L628.37 252.07 L628.97 252.1 L629.58 252.13 L630.18 252.16 L630.78 252.19 L631.39 252.23 L631.99 252.26 L632.6 252.3 L633.2 252.34 L633.8 252.38 L634.41 252.41 L635.01 252.45 L635.61 252.49 L636.22 252.53 L636.82 252.57 L637.42 252.6 L638.03 252.64 L638.63 252.67 L639.24 252.71 L639.84 252.74 L640.44 252.77 L641.05 252.8 L641.65 252.83 L642.25 252.85 L642.86 252.88 L643.46 252.9 L644.06 252.92 L644.67 252.93 L645.27 252.95 L645.88 252.96 L646.48 252.97 L647.08 252.98 L647.69 252.98 L648.29 252.98 L648.89 252.98 L649.5 252.97 L650.1 252.97 L650.7 252.96 L651.31 252.94 L651.91 252.93 L652.52 252.91 L653.12 252.89 L653.72 252.87 L654.33 252.85 L654.93 252.82 L655.53 252.79 L656.14 252.76 L656.74 252.73 L657.34 252.69 L657.95 252.66 L658.55 252.62 L659.16 252.58 L659.76 252.55 L660.36 252.51 L660.97 252.47 L661.57 252.43 L662.17 252.39 L662.78 252.35 L663.38 252.31 L663.99 252.27 L664.59 252.23 L665.19 252.19 L665.8 252.15 L666.4 252.12 L667 252.08 L667.61 252.05 L668.21 252.02 L668.81 251.99 L669.42 251.96 L670.02 251.94 L670.63 251.92 L671.23 251.9 L671.83 251.88 L672.44 251.86 L673.04 251.85 L673.64 251.84 L674.25 251.84 L674.85 251.83 L675.45 251.83 L676.06 251.84 L676.66 251.84 L677.27 251.85 L677.87 251.86 L678.47 251.88 L679.08 251.9 L679.68 251.92 L680.28 251.94 L680.89 251.97 L681.49 252 L682.09 252.03 L682.7 252.06 L683.3 252.1 L683.91 252.14 L684.51 252.18 L685.11 252.23 L685.72 252.27 L686.32 252.32 L686.92 252.37 L687.53 252.42 L688.13 252.47 L688.73 252.53 L689.34 252.58 L689.94 252.63 L690.55 252.69 L691.15 252.74 L691.75 252.8 L692.36 252.85 L692.96 252.91 L693.56 252.96 L694.17 253.01 L694.77 253.06 L695.37 253.11 L695.98 253.16 L696.58 253.21 L697.19 253.26 L697.79 253.3 L698.39 253.34 L699 253.38 L699.6 253.42 L700.2 253.45 L700.81 253.49 L701.41 253.51 L702.01 253.54 L702.62 253.56 L703.22 253.59 L703.83 253.6 L704.43 253.62 L705.03 253.63 L705.64 253.64 L706.24 253.64 L706.84 253.64 L707.45 253.64 L708.05 253.64 L708.66 253.63 L709.26 253.62 L709.86 253.61 L710.47 253.59 L711.07 253.57 L711.67 253.55 L712.28 253.53 L712.88 253.5 L713.48 253.47 L714.09 253.44 L714.69 253.41 L715.3 253.37 L715.9 253.34 L716.5 253.3 L717.11 253.26 L717.71 253.22 L718.31 253.18 L718.92 253.13 L719.52 253.09 L720.12 253.05 L720.73 253 L721.33 252.96 L721.94 252.92 L722.54 252.88 L723.14 252.83 L723.75 252.79 L724.35 252.75 L724.95 252.71 L725.56 252.68 L726.16 252.64 L726.76 252.61 L727.37 252.57 L727.97 252.54 L728.58 252.51 L729.18 252.49 L729.78 252.46 L730.39 252.44 L730.99 252.42 L731.59 252.4 L732.2 252.39 L732.8 252.38 L733.4 252.37 L734.01 252.36 L734.61 252.36 L735.22 252.36 L735.82 252.36 L736.42 252.37 L737.03 252.37 L737.63 252.38 L738.23 252.4 L738.84 252.41 L739.44 252.43 L740.04 252.45 L740.65 252.47 L741.25 252.49 L741.86 252.52 L742.46 252.55 L743.06 252.58 L743.67 252.61 L744.27 252.64 L744.87 252.67 L745.48 252.71 L746.08 252.74 L746.68 252.78 L747.29 252.81 L747.89 252.85 L748.5 252.89 L749.1 252.92 L749.7 252.96 L750.31 252.99 L750.91 253.03 L751.51 253.06 L752.12 253.09 L752.72 253.12 L753.32 253.15 L753.93 253.18 L754.53 253.21 L755.14 253.23 L755.74 253.26 L756.34 253.28 L756.95 253.29 L757.55 253.31 L758.15 253.32 L758.76 253.33 L759.36 253.34 L759.97 253.34 L760.57 253.34 L761.17 253.34 L761.78 253.34 L762.38 253.33 L762.98 253.32 L763.59 253.31 L764.19 253.29 L764.79 253.27 L765.4 253.25 L766 253.23 L766.61 253.2 L767.21 253.17 L767.81 253.14 L768.42 253.1 L769.02 253.07 L769.62 253.03 L770.23 252.99 L770.83 252.94 L771.43 252.9 L772.04 252.85 L772.64 252.8 L773.25 252.75 L773.85 252.91 L774.45 253.22 L775.06 253.52 L775.66 253.82 L776.26 254.13 L776.87 254.43 L777.47 254.73 L778.07 255.04 L778.68 255.34 L779.28 255.65 L779.89 255.96 L780.49 256.26 L781.09 256.57 L781.7 256.88 L782.3 257.19" stroke="#e088c8" stroke-width="1.0" fill="none"/>
<path d="M583.7 252.33 L584.3 252.31 L584.91 252.3 L585.51 252.29 L586.11 252.28 L586.72 252.27 L587.32 252.27 L587.93 252.27 L588.53 252.27 L589.13 252.27 L589.74 252.28 L590.34 252.29 L590.94 252.3 L591.55 252.31 L592.15 252.33 L592.75 252.35 L593.36 252.37 L593.96 252.39 L594.57 252.41 L595.17 252.44 L595.77 252.47 L596.38 252.5 L596.98 252.53 L597.58 252.56 L598.19 252.6 L598.79 252.64 L599.39 252.68 L600 252.72 L600.6 252.76 L601.21 252.81 L601.81 252.86 L602.41 252.92 L603.02 252.97 L603.62 253.03 L604.22 253.09 L604.83 253.15 L605.43 253.21 L606.03 253.27 L606.64 253.33 L607.24 253.39 L607.85 253.45 L608.45 253.5 L609.05 253.55 L609.66 253.59 L610.26 253.62 L610.86 253.64 L611.47 253.66 L612.07 253.67 L612.68 253.67 L613.28 253.66 L613.88 253.64 L614.49 253.62 L615.09 253.58 L615.69 253.54 L616.3 253.5 L616.9 253.45 L617.5 253.4 L618.11 253.34 L618.71 253.29 L619.32 253.23 L619.92 253.18 L620.52 253.12 L621.13 253.07 L621.73 253.01 L622.33 252.96 L622.94 252.91 L623.54 252.86 L624.14 252.81 L624.75 252.77 L625.35 252.72 L625.96 252.68 L626.56 252.64 L627.16 252.6 L627.77 252.56 L628.37 252.52 L628.97 252.48 L629.58 252.45 L630.18 252.41 L630.78 252.38 L631.39 252.34 L631.99 252.31 L632.6 252.28 L633.2 252.25 L633.8 252.22 L634.41 252.2 L635.01 252.17 L635.61 252.15 L636.22 252.13 L636.82 252.12 L637.42 252.1 L638.03 252.09 L638.63 252.08 L639.24 252.07 L639.84 252.06 L640.44 252.06 L641.05 252.06 L641.65 252.06 L642.25 252.07 L642.86 252.07 L643.46 252.09 L644.06 252.1 L644.67 252.11 L645.27 252.13 L645.88 252.15 L646.48 252.18 L647.08 252.2 L647.69 252.23 L648.29 252.26 L648.89 252.3 L649.5 252.33 L650.1 252.37 L650.7 252.41 L651.31 252.45 L651.91 252.49 L652.52 252.53 L653.12 252.58 L653.72 252.62 L654.33 252.67 L654.93 252.72 L655.53 252.76 L656.14 252.81 L656.74 252.86 L657.34 252.91 L657.95 252.96 L658.55 253 L659.16 253.05 L659.76 253.1 L660.36 253.15 L660.97 253.19 L661.57 253.23 L662.17 253.28 L662.78 253.32 L663.38 253.36 L663.99 253.4 L664.59 253.43 L665.19 253.47 L665.8 253.5 L666.4 253.53 L667 253.55 L667.61 253.58 L668.21 253.6 L668.81 253.62 L669.42 253.64 L670.02 253.65 L670.63 253.67 L671.23 253.68 L671.83 253.68 L672.44 253.69 L673.04 253.69 L673.64 253.69 L674.25 253.68 L674.85 253.68 L675.45 253.67 L676.06 253.65 L676.66 253.64 L677.27 253.62 L677.87 253.61 L678.47 253.59 L679.08 253.56 L679.68 253.54 L680.28 253.51 L680.89 253.49 L681.49 253.46 L682.09 253.43 L682.7 253.39 L683.3 253.36 L683.91 253.33 L684.51 253.29 L685.11 253.26 L685.72 253.23 L686.32 253.19 L686.92 253.16 L687.53 253.12 L688.13 253.09 L688.73 253.05 L689.34 253.02 L689.94 252.99 L690.55 252.95 L691.15 252.92 L691.75 252.9 L692.36 252.87 L692.96 252.84 L693.56 252.82 L694.17 252.79 L694.77 252.77 L695.37 252.75 L695.98 252.74 L696.58 252.72 L697.19 252.71 L697.79 252.7 L698.39 252.69 L699 252.68 L699.6 252.68 L700.2 252.68 L700.81 252.68 L701.41 252.68 L702.01 252.68 L702.62 252.69 L703.22 252.7 L703.83 252.71 L704.43 252.73 L705.03 252.74 L705.64 252.76 L706.24 252.78 L706.84 252.8 L707.45 252.82 L708.05 252.85 L708.66 252.87 L709.26 252.9 L709.86 252.93 L710.47 252.96 L711.07 252.99 L711.67 253.02 L712.28 253.05 L712.88 253.08 L713.48 253.11 L714.09 253.14 L714.69 253.17 L715.3 253.2 L715.9 253.23 L716.5 253.26 L717.11 253.29 L717.71 253.32 L718.31 253.34 L718.92 253.37 L719.52 253.39 L720.12 253.41 L720.73 253.43 L721.33 253.45 L721.94 253.47 L722.54 253.48 L723.14 253.49 L723.75 253.5 L724.35 253.51 L724.95 253.52 L725.56 253.52 L726.16 253.52 L726.76 253.52 L727.37 253.51 L727.97 253.5 L728.58 253.49 L729.18 253.48 L729.78 253.47 L730.39 253.45 L730.99 253.43 L731.59 253.41 L732.2 253.38 L732.8 253.35 L733.4 253.32 L734.01 253.29 L734.61 253.26 L735.22 253.22 L735.82 253.19 L736.42 253.15 L737.03 253.11 L737.63 253.07 L738.23 253.02 L738.84 252.98 L739.44 252.93 L740.04 252.89 L740.65 252.84 L741.25 252.79 L741.86 252.75 L742.46 252.7 L743.06 252.65 L743.67 252.61 L744.27 252.56 L744.87 252.51 L745.48 252.47 L746.08 252.42 L746.68 252.38 L747.29 252.34 L747.89 252.3 L748.5 252.26 L749.1 252.22 L749.7 252.19 L750.31 252.16 L750.91 252.13 L751.51 252.1 L752.12 252.07 L752.72 252.05 L753.32 252.03 L753.93 252.01 L754.53 251.99 L755.14 251.98 L755.74 251.97 L756.34 251.96 L756.95 251.95 L757.55 251.95 L758.15 251.95 L758.76 251.95 L759.36 251.96 L759.97 251.97 L760.57 251.98 L761.17 251.99 L761.78 252.01 L762.38 252.03 L762.98 252.05 L763.59 252.07 L764.19 252.1 L764.79 252.13 L765.4 252.16 L766 252.19 L766.61 252.22 L767.21 252.25 L767.81 252.29 L768.42 252.33 L769.02 252.36 L769.62 252.4 L770.23 252.44 L770.83 252.48 L771.43 252.52 L772.04 252.56 L772.64 252.6 L773.25 252.64 L773.85 252.89 L774.45 253.28 L775.06 253.68 L775.66 254.07 L776.26 254.47 L776.87 254.86 L777.47 255.25 L778.07 255.64 L778.68 256.03 L779.28 256.41 L779.89 256.8 L780.49 257.18 L781.09 257.56 L781.7 257.94 L782.3 258.31" stroke="#d8183c" stroke-width="1.0" fill="none"/>
<rect x="583.4" y="4.3" width="199.2" height="255" stroke="#666" stroke-width="0.9" fill="none"/>
<path d="M622 259.2H663" stroke="#6a72d0" stroke-width="0.7" opacity="0.8"/>
<text x="559.5" y="15.3" font-family="Liberation Serif, serif" font-size="20" fill="#000" font-weight="bold">C</text>
<text transform="translate(571.9 176.6) rotate(-90)" font-family="Liberation Serif, serif" font-size="8" fill="#1e1e1e" stroke="#1e1e1e" stroke-width="0.15" textLength="81.7" lengthAdjust="spacingAndGlyphs">Derivative Reporter (-Rn')</text>
<text x="657" y="281" font-family="Liberation Serif, serif" font-size="8" fill="#1e1e1e" stroke="#1e1e1e" stroke-width="0.15" textLength="52.4" lengthAdjust="spacingAndGlyphs">Temperature (°C)</text>
</svg>
</body></html>
